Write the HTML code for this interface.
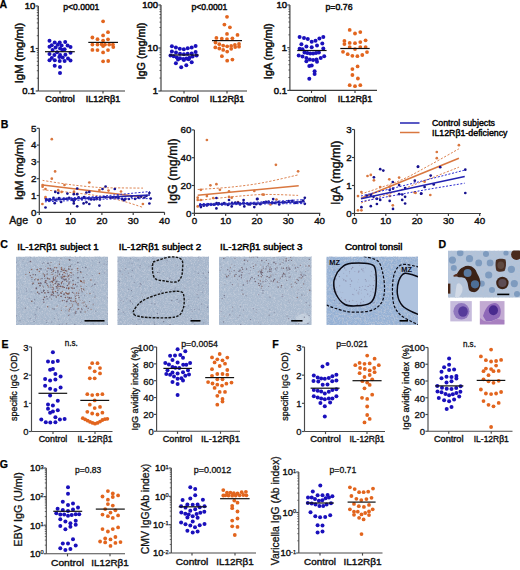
<!DOCTYPE html>
<html><head><meta charset="utf-8"><style>
html,body{margin:0;padding:0;background:#fff;overflow:hidden;width:520px;height:570px;}
svg{display:block;}
text{font-family:"Liberation Sans", sans-serif;}
</style></head><body>
<svg width="520" height="570" viewBox="0 0 520 570" font-family='"Liberation Sans", sans-serif'>
<rect width="520" height="570" fill="#fff"/>
<text x="-0.4" y="8.3" font-size="11.5" font-weight="bold" text-anchor="start" fill="#000" textLength="7.64" lengthAdjust="spacingAndGlyphs" stroke="#000" stroke-width="0.25">A</text>
<text x="0.8" y="127.7" font-size="11.5" font-weight="bold" text-anchor="start" fill="#000" textLength="7.64" lengthAdjust="spacingAndGlyphs" stroke="#000" stroke-width="0.25">B</text>
<text x="0.3" y="247.6" font-size="11.5" font-weight="bold" text-anchor="start" fill="#000" textLength="7.64" lengthAdjust="spacingAndGlyphs" stroke="#000" stroke-width="0.25">C</text>
<text x="438.6" y="247.7" font-size="11.5" font-weight="bold" text-anchor="start" fill="#000" textLength="7.64" lengthAdjust="spacingAndGlyphs" stroke="#000" stroke-width="0.25">D</text>
<text x="1.5" y="347.7" font-size="11.5" font-weight="bold" text-anchor="start" fill="#000" textLength="7.06" lengthAdjust="spacingAndGlyphs" stroke="#000" stroke-width="0.25">E</text>
<text x="272.2" y="347.7" font-size="11.5" font-weight="bold" text-anchor="start" fill="#000" textLength="6.46" lengthAdjust="spacingAndGlyphs" stroke="#000" stroke-width="0.25">F</text>
<text x="-0.2" y="468.2" font-size="11.5" font-weight="bold" text-anchor="start" fill="#000" textLength="8.23" lengthAdjust="spacingAndGlyphs" stroke="#000" stroke-width="0.25">G</text>
<line x1="38.30" y1="6.00" x2="38.30" y2="91.00" stroke="#3a3a3a" stroke-width="1.15"/>
<line x1="38.30" y1="91.00" x2="125.00" y2="91.00" stroke="#3a3a3a" stroke-width="1.15"/>
<line x1="35.70" y1="6.00" x2="38.30" y2="6.00" stroke="#3a3a3a" stroke-width="1.15"/>
<line x1="35.70" y1="48.50" x2="38.30" y2="48.50" stroke="#3a3a3a" stroke-width="1.15"/>
<line x1="35.70" y1="91.00" x2="38.30" y2="91.00" stroke="#3a3a3a" stroke-width="1.15"/>
<line x1="36.80" y1="78.21" x2="38.30" y2="78.21" stroke="#3a3a3a" stroke-width="0.8"/>
<line x1="36.80" y1="70.72" x2="38.30" y2="70.72" stroke="#3a3a3a" stroke-width="0.8"/>
<line x1="36.80" y1="65.41" x2="38.30" y2="65.41" stroke="#3a3a3a" stroke-width="0.8"/>
<line x1="36.80" y1="61.29" x2="38.30" y2="61.29" stroke="#3a3a3a" stroke-width="0.8"/>
<line x1="36.80" y1="57.93" x2="38.30" y2="57.93" stroke="#3a3a3a" stroke-width="0.8"/>
<line x1="36.80" y1="55.08" x2="38.30" y2="55.08" stroke="#3a3a3a" stroke-width="0.8"/>
<line x1="36.80" y1="52.62" x2="38.30" y2="52.62" stroke="#3a3a3a" stroke-width="0.8"/>
<line x1="36.80" y1="50.44" x2="38.30" y2="50.44" stroke="#3a3a3a" stroke-width="0.8"/>
<line x1="36.80" y1="35.71" x2="38.30" y2="35.71" stroke="#3a3a3a" stroke-width="0.8"/>
<line x1="36.80" y1="28.22" x2="38.30" y2="28.22" stroke="#3a3a3a" stroke-width="0.8"/>
<line x1="36.80" y1="22.91" x2="38.30" y2="22.91" stroke="#3a3a3a" stroke-width="0.8"/>
<line x1="36.80" y1="18.79" x2="38.30" y2="18.79" stroke="#3a3a3a" stroke-width="0.8"/>
<line x1="36.80" y1="15.43" x2="38.30" y2="15.43" stroke="#3a3a3a" stroke-width="0.8"/>
<line x1="36.80" y1="12.58" x2="38.30" y2="12.58" stroke="#3a3a3a" stroke-width="0.8"/>
<line x1="36.80" y1="10.12" x2="38.30" y2="10.12" stroke="#3a3a3a" stroke-width="0.8"/>
<line x1="36.80" y1="7.94" x2="38.30" y2="7.94" stroke="#3a3a3a" stroke-width="0.8"/>
<line x1="60.00" y1="91.00" x2="60.00" y2="93.60" stroke="#3a3a3a" stroke-width="1.15"/>
<line x1="103.00" y1="91.00" x2="103.00" y2="93.60" stroke="#3a3a3a" stroke-width="1.15"/>
<text x="35.4" y="9.3" font-size="9.5" font-weight="normal" text-anchor="end" fill="#111" textLength="10.57" lengthAdjust="spacingAndGlyphs" stroke="#111" stroke-width="0.5">10</text>
<text x="35.4" y="51.8" font-size="9.5" font-weight="normal" text-anchor="end" fill="#111" textLength="5.28" lengthAdjust="spacingAndGlyphs" stroke="#111" stroke-width="0.5">1</text>
<text x="35.4" y="94.3" font-size="9.5" font-weight="normal" text-anchor="end" fill="#111" textLength="13.21" lengthAdjust="spacingAndGlyphs" stroke="#111" stroke-width="0.5">0.1</text>
<text x="60" y="102.4" font-size="9.5" font-weight="normal" text-anchor="middle" fill="#111" textLength="29.4" lengthAdjust="spacingAndGlyphs" stroke="#111" stroke-width="0.5">Control</text>
<text x="103" y="102.4" font-size="9.5" font-weight="normal" text-anchor="middle" fill="#111" textLength="34.6" lengthAdjust="spacingAndGlyphs" stroke="#111" stroke-width="0.5">IL12Rβ1</text>
<text transform="translate(22.7,53) rotate(-90)" x="0" y="0" font-size="11.38" font-weight="normal" text-anchor="middle" fill="#111" textLength="60.7" lengthAdjust="spacingAndGlyphs" stroke="#111" stroke-width="0.5">IgM (mg/ml)</text>
<text x="81.3" y="9.9" font-size="9.5" font-weight="normal" text-anchor="middle" fill="#111" textLength="36" lengthAdjust="spacingAndGlyphs" stroke="#111" stroke-width="0.5">p&lt;0.0001</text>
<g fill="#1a10bc"><circle cx="49.5" cy="40.7" r="2.0"/><circle cx="54.7" cy="42.4" r="2.0"/><circle cx="59.7" cy="42.5" r="2.0"/><circle cx="65.2" cy="41.9" r="2.0"/><circle cx="51.8" cy="45.2" r="2.0"/><circle cx="49.5" cy="46.7" r="2.0"/><circle cx="57.8" cy="44.8" r="2.0"/><circle cx="61.6" cy="45.6" r="2.0"/><circle cx="67.6" cy="45.6" r="2.0"/><circle cx="70.5" cy="46.9" r="2.0"/><circle cx="55.6" cy="47.4" r="2.0"/><circle cx="60.1" cy="48.6" r="2.0"/><circle cx="64.6" cy="49.3" r="2.0"/><circle cx="52.6" cy="50.1" r="2.0"/><circle cx="62.4" cy="50.1" r="2.0"/><circle cx="49.5" cy="53.9" r="2.0"/><circle cx="57.1" cy="52.3" r="2.0"/><circle cx="70.5" cy="52.7" r="2.0"/><circle cx="54.4" cy="55.0" r="2.0"/><circle cx="60.1" cy="55.0" r="2.0"/><circle cx="65.4" cy="54.8" r="2.0"/><circle cx="59.3" cy="56.9" r="2.0"/><circle cx="62.7" cy="57.6" r="2.0"/><circle cx="51.8" cy="58.0" r="2.0"/><circle cx="68.0" cy="58.4" r="2.0"/><circle cx="49.5" cy="60.3" r="2.0"/><circle cx="54.8" cy="60.3" r="2.0"/><circle cx="59.7" cy="61.0" r="2.0"/><circle cx="64.6" cy="61.0" r="2.0"/><circle cx="70.5" cy="60.6" r="2.0"/><circle cx="54.7" cy="65.7" r="2.0"/><circle cx="60.0" cy="67.1" r="2.0"/><circle cx="60.0" cy="72.9" r="2.0"/></g>
<g fill="#e2651e"><circle cx="103.1" cy="21.3" r="1.9"/><circle cx="108.0" cy="32.2" r="1.9"/><circle cx="103.1" cy="35.4" r="1.9"/><circle cx="92.4" cy="37.5" r="1.9"/><circle cx="97.5" cy="39.2" r="1.9"/><circle cx="108.0" cy="39.3" r="1.9"/><circle cx="103.1" cy="40.6" r="1.9"/><circle cx="92.4" cy="44.6" r="1.9"/><circle cx="97.5" cy="44.6" r="1.9"/><circle cx="101.7" cy="44.3" r="1.9"/><circle cx="105.0" cy="44.6" r="1.9"/><circle cx="109.2" cy="44.6" r="1.9"/><circle cx="112.9" cy="44.6" r="1.9"/><circle cx="103.1" cy="46.1" r="1.9"/><circle cx="113.3" cy="47.1" r="1.9"/><circle cx="92.4" cy="49.9" r="1.9"/><circle cx="97.5" cy="50.1" r="1.9"/><circle cx="108.0" cy="50.1" r="1.9"/><circle cx="103.1" cy="52.4" r="1.9"/><circle cx="103.1" cy="61.3" r="1.9"/><circle cx="108.2" cy="61.0" r="1.9"/></g>
<line x1="45.00" y1="51.70" x2="74.80" y2="51.70" stroke="#111" stroke-width="1.2"/>
<line x1="88.30" y1="42.40" x2="118.00" y2="42.40" stroke="#111" stroke-width="1.2"/>
<line x1="161.00" y1="5.00" x2="161.00" y2="91.00" stroke="#3a3a3a" stroke-width="1.15"/>
<line x1="161.00" y1="91.00" x2="247.00" y2="91.00" stroke="#3a3a3a" stroke-width="1.15"/>
<line x1="158.40" y1="5.00" x2="161.00" y2="5.00" stroke="#3a3a3a" stroke-width="1.15"/>
<line x1="158.40" y1="48.00" x2="161.00" y2="48.00" stroke="#3a3a3a" stroke-width="1.15"/>
<line x1="158.40" y1="91.00" x2="161.00" y2="91.00" stroke="#3a3a3a" stroke-width="1.15"/>
<line x1="159.50" y1="78.06" x2="161.00" y2="78.06" stroke="#3a3a3a" stroke-width="0.8"/>
<line x1="159.50" y1="70.48" x2="161.00" y2="70.48" stroke="#3a3a3a" stroke-width="0.8"/>
<line x1="159.50" y1="65.11" x2="161.00" y2="65.11" stroke="#3a3a3a" stroke-width="0.8"/>
<line x1="159.50" y1="60.94" x2="161.00" y2="60.94" stroke="#3a3a3a" stroke-width="0.8"/>
<line x1="159.50" y1="57.54" x2="161.00" y2="57.54" stroke="#3a3a3a" stroke-width="0.8"/>
<line x1="159.50" y1="54.66" x2="161.00" y2="54.66" stroke="#3a3a3a" stroke-width="0.8"/>
<line x1="159.50" y1="52.17" x2="161.00" y2="52.17" stroke="#3a3a3a" stroke-width="0.8"/>
<line x1="159.50" y1="49.97" x2="161.00" y2="49.97" stroke="#3a3a3a" stroke-width="0.8"/>
<line x1="159.50" y1="35.06" x2="161.00" y2="35.06" stroke="#3a3a3a" stroke-width="0.8"/>
<line x1="159.50" y1="27.48" x2="161.00" y2="27.48" stroke="#3a3a3a" stroke-width="0.8"/>
<line x1="159.50" y1="22.11" x2="161.00" y2="22.11" stroke="#3a3a3a" stroke-width="0.8"/>
<line x1="159.50" y1="17.94" x2="161.00" y2="17.94" stroke="#3a3a3a" stroke-width="0.8"/>
<line x1="159.50" y1="14.54" x2="161.00" y2="14.54" stroke="#3a3a3a" stroke-width="0.8"/>
<line x1="159.50" y1="11.66" x2="161.00" y2="11.66" stroke="#3a3a3a" stroke-width="0.8"/>
<line x1="159.50" y1="9.17" x2="161.00" y2="9.17" stroke="#3a3a3a" stroke-width="0.8"/>
<line x1="159.50" y1="6.97" x2="161.00" y2="6.97" stroke="#3a3a3a" stroke-width="0.8"/>
<line x1="184.00" y1="91.00" x2="184.00" y2="93.60" stroke="#3a3a3a" stroke-width="1.15"/>
<line x1="227.00" y1="91.00" x2="227.00" y2="93.60" stroke="#3a3a3a" stroke-width="1.15"/>
<text x="158.1" y="8.3" font-size="9.5" font-weight="normal" text-anchor="end" fill="#111" textLength="15.85" lengthAdjust="spacingAndGlyphs" stroke="#111" stroke-width="0.5">100</text>
<text x="158.1" y="51.3" font-size="9.5" font-weight="normal" text-anchor="end" fill="#111" textLength="10.57" lengthAdjust="spacingAndGlyphs" stroke="#111" stroke-width="0.5">10</text>
<text x="158.1" y="94.3" font-size="9.5" font-weight="normal" text-anchor="end" fill="#111" textLength="5.28" lengthAdjust="spacingAndGlyphs" stroke="#111" stroke-width="0.5">1</text>
<text x="184" y="102.4" font-size="9.5" font-weight="normal" text-anchor="middle" fill="#111" textLength="29.4" lengthAdjust="spacingAndGlyphs" stroke="#111" stroke-width="0.5">Control</text>
<text x="227" y="102.4" font-size="9.5" font-weight="normal" text-anchor="middle" fill="#111" textLength="34.6" lengthAdjust="spacingAndGlyphs" stroke="#111" stroke-width="0.5">IL12Rβ1</text>
<text transform="translate(145.2,51) rotate(-90)" x="0" y="0" font-size="10.76" font-weight="normal" text-anchor="middle" fill="#111" textLength="56.8" lengthAdjust="spacingAndGlyphs" stroke="#111" stroke-width="0.5">IgG (mg/ml)</text>
<text x="209.4" y="9.9" font-size="9.5" font-weight="normal" text-anchor="middle" fill="#111" textLength="36" lengthAdjust="spacingAndGlyphs" stroke="#111" stroke-width="0.5">p&lt;0.0001</text>
<g fill="#1a10bc"><circle cx="171.9" cy="46.2" r="2.0"/><circle cx="175.9" cy="47.5" r="2.0"/><circle cx="179.8" cy="48.8" r="2.0"/><circle cx="183.8" cy="49.3" r="2.0"/><circle cx="187.7" cy="48.3" r="2.0"/><circle cx="191.7" cy="47.5" r="2.0"/><circle cx="195.6" cy="45.9" r="2.0"/><circle cx="171.9" cy="51.4" r="2.0"/><circle cx="176.0" cy="52.5" r="2.0"/><circle cx="180.0" cy="53.8" r="2.0"/><circle cx="183.9" cy="54.2" r="2.0"/><circle cx="187.7" cy="53.8" r="2.0"/><circle cx="191.7" cy="53.4" r="2.0"/><circle cx="195.6" cy="52.0" r="2.0"/><circle cx="170.5" cy="55.4" r="2.0"/><circle cx="173.7" cy="56.2" r="2.0"/><circle cx="176.8" cy="57.4" r="2.0"/><circle cx="180.0" cy="58.2" r="2.0"/><circle cx="183.2" cy="58.9" r="2.0"/><circle cx="186.3" cy="58.5" r="2.0"/><circle cx="189.5" cy="57.8" r="2.0"/><circle cx="192.6" cy="56.6" r="2.0"/><circle cx="196.6" cy="55.4" r="2.0"/><circle cx="178.0" cy="59.5" r="2.0"/><circle cx="183.9" cy="60.0" r="2.0"/><circle cx="188.5" cy="59.3" r="2.0"/><circle cx="175.9" cy="63.3" r="2.0"/><circle cx="191.7" cy="62.3" r="2.0"/><circle cx="186.3" cy="65.3" r="2.0"/><circle cx="181.2" cy="67.2" r="2.0"/></g>
<g fill="#e2651e"><circle cx="227.0" cy="16.8" r="1.9"/><circle cx="224.4" cy="24.6" r="1.9"/><circle cx="229.9" cy="27.3" r="1.9"/><circle cx="227.0" cy="33.9" r="1.9"/><circle cx="237.5" cy="34.9" r="1.9"/><circle cx="216.4" cy="37.9" r="1.9"/><circle cx="221.8" cy="38.7" r="1.9"/><circle cx="227.0" cy="39.1" r="1.9"/><circle cx="232.4" cy="38.3" r="1.9"/><circle cx="215.5" cy="42.5" r="1.9"/><circle cx="219.3" cy="44.2" r="1.9"/><circle cx="223.2" cy="45.6" r="1.9"/><circle cx="227.2" cy="46.3" r="1.9"/><circle cx="231.2" cy="45.9" r="1.9"/><circle cx="234.9" cy="44.8" r="1.9"/><circle cx="239.0" cy="44.0" r="1.9"/><circle cx="215.3" cy="47.4" r="1.9"/><circle cx="219.3" cy="48.5" r="1.9"/><circle cx="223.2" cy="49.9" r="1.9"/><circle cx="231.2" cy="48.8" r="1.9"/><circle cx="235.2" cy="47.1" r="1.9"/><circle cx="239.0" cy="46.7" r="1.9"/><circle cx="227.2" cy="51.6" r="1.9"/><circle cx="221.9" cy="56.2" r="1.9"/><circle cx="227.2" cy="60.7" r="1.9"/><circle cx="232.4" cy="59.6" r="1.9"/></g>
<line x1="169.30" y1="55.00" x2="198.50" y2="55.00" stroke="#111" stroke-width="1.2"/>
<line x1="212.00" y1="40.60" x2="242.00" y2="40.60" stroke="#111" stroke-width="1.2"/>
<line x1="289.90" y1="5.00" x2="289.90" y2="90.40" stroke="#3a3a3a" stroke-width="1.15"/>
<line x1="289.90" y1="90.40" x2="377.00" y2="90.40" stroke="#3a3a3a" stroke-width="1.15"/>
<line x1="287.30" y1="5.00" x2="289.90" y2="5.00" stroke="#3a3a3a" stroke-width="1.15"/>
<line x1="287.30" y1="47.70" x2="289.90" y2="47.70" stroke="#3a3a3a" stroke-width="1.15"/>
<line x1="287.30" y1="90.40" x2="289.90" y2="90.40" stroke="#3a3a3a" stroke-width="1.15"/>
<line x1="288.40" y1="77.55" x2="289.90" y2="77.55" stroke="#3a3a3a" stroke-width="0.8"/>
<line x1="288.40" y1="70.03" x2="289.90" y2="70.03" stroke="#3a3a3a" stroke-width="0.8"/>
<line x1="288.40" y1="64.69" x2="289.90" y2="64.69" stroke="#3a3a3a" stroke-width="0.8"/>
<line x1="288.40" y1="60.55" x2="289.90" y2="60.55" stroke="#3a3a3a" stroke-width="0.8"/>
<line x1="288.40" y1="57.17" x2="289.90" y2="57.17" stroke="#3a3a3a" stroke-width="0.8"/>
<line x1="288.40" y1="54.31" x2="289.90" y2="54.31" stroke="#3a3a3a" stroke-width="0.8"/>
<line x1="288.40" y1="51.84" x2="289.90" y2="51.84" stroke="#3a3a3a" stroke-width="0.8"/>
<line x1="288.40" y1="49.65" x2="289.90" y2="49.65" stroke="#3a3a3a" stroke-width="0.8"/>
<line x1="288.40" y1="34.85" x2="289.90" y2="34.85" stroke="#3a3a3a" stroke-width="0.8"/>
<line x1="288.40" y1="27.33" x2="289.90" y2="27.33" stroke="#3a3a3a" stroke-width="0.8"/>
<line x1="288.40" y1="21.99" x2="289.90" y2="21.99" stroke="#3a3a3a" stroke-width="0.8"/>
<line x1="288.40" y1="17.85" x2="289.90" y2="17.85" stroke="#3a3a3a" stroke-width="0.8"/>
<line x1="288.40" y1="14.47" x2="289.90" y2="14.47" stroke="#3a3a3a" stroke-width="0.8"/>
<line x1="288.40" y1="11.61" x2="289.90" y2="11.61" stroke="#3a3a3a" stroke-width="0.8"/>
<line x1="288.40" y1="9.14" x2="289.90" y2="9.14" stroke="#3a3a3a" stroke-width="0.8"/>
<line x1="288.40" y1="6.95" x2="289.90" y2="6.95" stroke="#3a3a3a" stroke-width="0.8"/>
<line x1="311.50" y1="90.40" x2="311.50" y2="93.00" stroke="#3a3a3a" stroke-width="1.15"/>
<line x1="355.00" y1="90.40" x2="355.00" y2="93.00" stroke="#3a3a3a" stroke-width="1.15"/>
<text x="287.0" y="8.3" font-size="9.5" font-weight="normal" text-anchor="end" fill="#111" textLength="10.57" lengthAdjust="spacingAndGlyphs" stroke="#111" stroke-width="0.5">10</text>
<text x="287.0" y="51.0" font-size="9.5" font-weight="normal" text-anchor="end" fill="#111" textLength="5.28" lengthAdjust="spacingAndGlyphs" stroke="#111" stroke-width="0.5">1</text>
<text x="287.0" y="93.7" font-size="9.5" font-weight="normal" text-anchor="end" fill="#111" textLength="13.21" lengthAdjust="spacingAndGlyphs" stroke="#111" stroke-width="0.5">0.1</text>
<text x="311.5" y="102.4" font-size="9.5" font-weight="normal" text-anchor="middle" fill="#111" textLength="29.4" lengthAdjust="spacingAndGlyphs" stroke="#111" stroke-width="0.5">Control</text>
<text x="355" y="102.4" font-size="9.5" font-weight="normal" text-anchor="middle" fill="#111" textLength="34.6" lengthAdjust="spacingAndGlyphs" stroke="#111" stroke-width="0.5">IL12Rβ1</text>
<text transform="translate(271.5,51.3) rotate(-90)" x="0" y="0" font-size="10.98" font-weight="normal" text-anchor="middle" fill="#111" textLength="56.1" lengthAdjust="spacingAndGlyphs" stroke="#111" stroke-width="0.5">IgA (mg/ml)</text>
<text x="339" y="9.9" font-size="9.5" font-weight="normal" text-anchor="middle" fill="#111" textLength="27" lengthAdjust="spacingAndGlyphs" stroke="#111" stroke-width="0.5">p=0.76</text>
<g fill="#1a10bc"><circle cx="299.6" cy="36.9" r="2.0"/><circle cx="304.0" cy="37.9" r="2.0"/><circle cx="307.8" cy="38.9" r="2.0"/><circle cx="311.7" cy="41.8" r="2.0"/><circle cx="315.5" cy="40.8" r="2.0"/><circle cx="319.4" cy="38.5" r="2.0"/><circle cx="323.3" cy="36.9" r="2.0"/><circle cx="301.4" cy="44.3" r="2.0"/><circle cx="306.4" cy="46.6" r="2.0"/><circle cx="311.7" cy="47.3" r="2.0"/><circle cx="317.0" cy="45.6" r="2.0"/><circle cx="322.3" cy="43.5" r="2.0"/><circle cx="299.6" cy="48.8" r="2.0"/><circle cx="302.5" cy="49.3" r="2.0"/><circle cx="323.3" cy="48.5" r="2.0"/><circle cx="304.5" cy="52.4" r="2.0"/><circle cx="307.3" cy="53.1" r="2.0"/><circle cx="310.2" cy="53.6" r="2.0"/><circle cx="313.1" cy="53.6" r="2.0"/><circle cx="316.0" cy="53.1" r="2.0"/><circle cx="318.9" cy="52.4" r="2.0"/><circle cx="298.7" cy="55.5" r="2.0"/><circle cx="302.5" cy="56.5" r="2.0"/><circle cx="306.4" cy="58.0" r="2.0"/><circle cx="309.8" cy="59.4" r="2.0"/><circle cx="313.1" cy="59.9" r="2.0"/><circle cx="316.5" cy="59.4" r="2.0"/><circle cx="320.7" cy="58.0" r="2.0"/><circle cx="324.2" cy="56.2" r="2.0"/><circle cx="306.4" cy="61.3" r="2.0"/><circle cx="317.0" cy="61.8" r="2.0"/><circle cx="309.3" cy="66.1" r="2.0"/><circle cx="311.7" cy="65.5" r="2.0"/><circle cx="314.6" cy="71.3" r="2.0"/><circle cx="314.6" cy="73.9" r="2.0"/><circle cx="309.3" cy="78.7" r="2.0"/></g>
<g fill="#e2651e"><circle cx="349.7" cy="29.9" r="1.9"/><circle cx="355.0" cy="33.5" r="1.9"/><circle cx="360.3" cy="32.1" r="1.9"/><circle cx="344.4" cy="40.9" r="1.9"/><circle cx="344.4" cy="44.1" r="1.9"/><circle cx="349.7" cy="42.9" r="1.9"/><circle cx="355.0" cy="43.2" r="1.9"/><circle cx="360.3" cy="42.1" r="1.9"/><circle cx="365.6" cy="40.3" r="1.9"/><circle cx="349.7" cy="47.1" r="1.9"/><circle cx="355.0" cy="49.1" r="1.9"/><circle cx="360.3" cy="47.1" r="1.9"/><circle cx="365.6" cy="47.1" r="1.9"/><circle cx="343.0" cy="51.8" r="1.9"/><circle cx="347.7" cy="54.2" r="1.9"/><circle cx="352.4" cy="55.8" r="1.9"/><circle cx="357.4" cy="56.2" r="1.9"/><circle cx="362.3" cy="55.0" r="1.9"/><circle cx="367.0" cy="52.1" r="1.9"/><circle cx="357.6" cy="66.4" r="1.9"/><circle cx="352.4" cy="69.1" r="1.9"/><circle cx="352.4" cy="75.0" r="1.9"/><circle cx="357.9" cy="78.5" r="1.9"/><circle cx="349.7" cy="85.2" r="1.9"/><circle cx="355.0" cy="86.2" r="1.9"/><circle cx="360.3" cy="85.2" r="1.9"/></g>
<line x1="297.20" y1="50.50" x2="326.60" y2="50.50" stroke="#111" stroke-width="1.2"/>
<line x1="340.30" y1="48.50" x2="369.70" y2="48.50" stroke="#111" stroke-width="1.2"/>
<line x1="39.30" y1="128.30" x2="39.30" y2="212.30" stroke="#3a3a3a" stroke-width="1.15"/>
<line x1="39.30" y1="212.30" x2="164.50" y2="212.30" stroke="#3a3a3a" stroke-width="1.15"/>
<line x1="36.70" y1="212.30" x2="39.30" y2="212.30" stroke="#3a3a3a" stroke-width="1.15"/>
<line x1="36.70" y1="195.50" x2="39.30" y2="195.50" stroke="#3a3a3a" stroke-width="1.15"/>
<line x1="36.70" y1="178.70" x2="39.30" y2="178.70" stroke="#3a3a3a" stroke-width="1.15"/>
<line x1="36.70" y1="161.90" x2="39.30" y2="161.90" stroke="#3a3a3a" stroke-width="1.15"/>
<line x1="36.70" y1="145.10" x2="39.30" y2="145.10" stroke="#3a3a3a" stroke-width="1.15"/>
<line x1="36.70" y1="128.30" x2="39.30" y2="128.30" stroke="#3a3a3a" stroke-width="1.15"/>
<line x1="39.30" y1="212.30" x2="39.30" y2="214.90" stroke="#3a3a3a" stroke-width="1.15"/>
<line x1="70.60" y1="212.30" x2="70.60" y2="214.90" stroke="#3a3a3a" stroke-width="1.15"/>
<line x1="101.90" y1="212.30" x2="101.90" y2="214.90" stroke="#3a3a3a" stroke-width="1.15"/>
<line x1="133.20" y1="212.30" x2="133.20" y2="214.90" stroke="#3a3a3a" stroke-width="1.15"/>
<line x1="164.50" y1="212.30" x2="164.50" y2="214.90" stroke="#3a3a3a" stroke-width="1.15"/>
<text x="36.4" y="215.60000000000002" font-size="9.8" font-weight="normal" text-anchor="end" fill="#111" textLength="5.45" lengthAdjust="spacingAndGlyphs" stroke="#111" stroke-width="0.4">0</text>
<text x="36.4" y="198.8" font-size="9.8" font-weight="normal" text-anchor="end" fill="#111" textLength="5.45" lengthAdjust="spacingAndGlyphs" stroke="#111" stroke-width="0.4">1</text>
<text x="36.4" y="182.00000000000003" font-size="9.8" font-weight="normal" text-anchor="end" fill="#111" textLength="5.45" lengthAdjust="spacingAndGlyphs" stroke="#111" stroke-width="0.4">2</text>
<text x="36.4" y="165.20000000000002" font-size="9.8" font-weight="normal" text-anchor="end" fill="#111" textLength="5.45" lengthAdjust="spacingAndGlyphs" stroke="#111" stroke-width="0.4">3</text>
<text x="36.4" y="148.40000000000003" font-size="9.8" font-weight="normal" text-anchor="end" fill="#111" textLength="5.45" lengthAdjust="spacingAndGlyphs" stroke="#111" stroke-width="0.4">4</text>
<text x="36.4" y="131.60000000000002" font-size="9.8" font-weight="normal" text-anchor="end" fill="#111" textLength="5.45" lengthAdjust="spacingAndGlyphs" stroke="#111" stroke-width="0.4">5</text>
<text x="39.3" y="224.1" font-size="9.8" font-weight="normal" text-anchor="middle" fill="#111" textLength="5.45" lengthAdjust="spacingAndGlyphs" stroke="#111" stroke-width="0.4">0</text>
<text x="70.6" y="224.1" font-size="9.8" font-weight="normal" text-anchor="middle" fill="#111" textLength="10.9" lengthAdjust="spacingAndGlyphs" stroke="#111" stroke-width="0.4">10</text>
<text x="101.9" y="224.1" font-size="9.8" font-weight="normal" text-anchor="middle" fill="#111" textLength="10.9" lengthAdjust="spacingAndGlyphs" stroke="#111" stroke-width="0.4">20</text>
<text x="133.2" y="224.1" font-size="9.8" font-weight="normal" text-anchor="middle" fill="#111" textLength="10.9" lengthAdjust="spacingAndGlyphs" stroke="#111" stroke-width="0.4">30</text>
<text x="164.5" y="224.1" font-size="9.8" font-weight="normal" text-anchor="middle" fill="#111" textLength="10.9" lengthAdjust="spacingAndGlyphs" stroke="#111" stroke-width="0.4">40</text>
<text transform="translate(23.4,168.9) rotate(-90)" x="0" y="0" font-size="11.7" font-weight="normal" text-anchor="middle" fill="#111" textLength="62.4" lengthAdjust="spacingAndGlyphs" stroke="#111" stroke-width="0.42">IgM (mg/ml)</text>
<text x="9.3" y="224.0" font-size="11.3" font-weight="normal" text-anchor="start" fill="#111" textLength="18.8" lengthAdjust="spacingAndGlyphs" stroke="#111" stroke-width="0.4">Age</text>
<path d="M42.6,180.4 C47.2,181.1 60.8,183.4 70.0,184.6 C79.2,185.8 89.7,186.8 98.0,187.4 C106.3,188.0 112.5,187.8 120.0,187.9 C127.5,188.0 139.2,188.1 143.0,188.1" stroke="#d9773f" stroke-width="0.9" fill="none" stroke-dasharray="2.2,1.6"/>
<path d="M42.6,189.8 C47.2,190.2 60.8,191.4 70.0,192.4 C79.2,193.4 89.7,194.5 98.0,195.8 C106.3,197.1 112.5,198.4 120.0,200.3 C127.5,202.2 139.2,206.2 143.0,207.4" stroke="#d9773f" stroke-width="0.9" fill="none" stroke-dasharray="2.2,1.6"/>
<line x1="42.60" y1="185.00" x2="142.50" y2="196.90" stroke="#d9773f" stroke-width="1.5"/>
<g fill="#d9773f"><circle cx="55.1" cy="171.4" r="1.35"/><circle cx="51.8" cy="178.7" r="1.35"/><circle cx="51.8" cy="139.2" r="1.35"/><circle cx="42.6" cy="185.0" r="1.35"/><circle cx="42.6" cy="186.7" r="1.35"/><circle cx="45.5" cy="189.0" r="1.35"/><circle cx="64.5" cy="185.0" r="1.35"/><circle cx="89.3" cy="182.5" r="1.35"/><circle cx="58.2" cy="190.2" r="1.35"/><circle cx="74.0" cy="191.7" r="1.35"/><circle cx="74.0" cy="193.1" r="1.35"/><circle cx="45.5" cy="197.1" r="1.35"/><circle cx="45.5" cy="198.3" r="1.35"/><circle cx="42.4" cy="204.0" r="1.35"/><circle cx="61.6" cy="191.9" r="1.35"/><circle cx="99.4" cy="190.0" r="1.35"/><circle cx="108.5" cy="190.6" r="1.35"/><circle cx="121.0" cy="191.5" r="1.35"/><circle cx="142.9" cy="204.0" r="1.35"/></g>
<g fill="#17128e"><circle cx="55.3" cy="191.9" r="1.35"/><circle cx="58.2" cy="193.0" r="1.35"/><circle cx="67.4" cy="193.6" r="1.35"/><circle cx="77.2" cy="188.5" r="1.35"/><circle cx="73.8" cy="194.2" r="1.35"/><circle cx="77.2" cy="194.2" r="1.35"/><circle cx="86.4" cy="192.5" r="1.35"/><circle cx="89.3" cy="191.9" r="1.35"/><circle cx="49.0" cy="200.6" r="1.35"/><circle cx="54.7" cy="203.2" r="1.35"/><circle cx="61.1" cy="202.0" r="1.35"/><circle cx="73.8" cy="201.1" r="1.35"/><circle cx="73.8" cy="203.4" r="1.35"/><circle cx="77.2" cy="206.3" r="1.35"/><circle cx="83.6" cy="203.4" r="1.35"/><circle cx="86.4" cy="202.3" r="1.35"/><circle cx="89.3" cy="204.0" r="1.35"/><circle cx="45.5" cy="207.5" r="1.35"/><circle cx="99.4" cy="205.6" r="1.35"/><circle cx="102.5" cy="189.0" r="1.35"/><circle cx="105.6" cy="186.5" r="1.35"/><circle cx="114.8" cy="189.0" r="1.35"/><circle cx="117.9" cy="196.5" r="1.35"/><circle cx="124.1" cy="200.2" r="1.35"/><circle cx="149.4" cy="193.1" r="1.35"/><circle cx="149.4" cy="203.5" r="1.35"/><circle cx="46.5" cy="199.3" r="1.35"/><circle cx="49.9" cy="199.4" r="1.35"/><circle cx="53.5" cy="197.9" r="1.35"/><circle cx="55.4" cy="200.0" r="1.35"/><circle cx="59.0" cy="198.2" r="1.35"/><circle cx="63.6" cy="198.8" r="1.35"/><circle cx="66.4" cy="198.8" r="1.35"/><circle cx="69.1" cy="197.8" r="1.35"/><circle cx="72.2" cy="199.7" r="1.35"/><circle cx="75.1" cy="199.3" r="1.35"/><circle cx="78.6" cy="197.4" r="1.35"/><circle cx="81.8" cy="198.8" r="1.35"/><circle cx="84.1" cy="197.2" r="1.35"/><circle cx="88.3" cy="198.3" r="1.35"/><circle cx="91.1" cy="199.4" r="1.35"/><circle cx="94.2" cy="199.5" r="1.35"/><circle cx="96.7" cy="199.1" r="1.35"/><circle cx="99.9" cy="199.4" r="1.35"/><circle cx="103.9" cy="197.0" r="1.35"/><circle cx="105.6" cy="197.3" r="1.35"/><circle cx="110.4" cy="197.8" r="1.35"/><circle cx="112.8" cy="197.4" r="1.35"/><circle cx="115.7" cy="197.5" r="1.35"/><circle cx="118.5" cy="198.0" r="1.35"/><circle cx="122.1" cy="198.9" r="1.35"/><circle cx="125.4" cy="198.9" r="1.35"/><circle cx="128.9" cy="199.0" r="1.35"/><circle cx="131.6" cy="196.6" r="1.35"/><circle cx="135.1" cy="198.8" r="1.35"/><circle cx="138.3" cy="197.6" r="1.35"/><circle cx="141.1" cy="196.6" r="1.35"/><circle cx="144.4" cy="197.5" r="1.35"/><circle cx="146.4" cy="196.0" r="1.35"/><circle cx="150.7" cy="198.6" r="1.35"/></g>
<path d="M44.9,198.6 C49.9,198.4 66.2,198.0 75.0,197.6 C83.8,197.2 90.5,196.9 98.0,196.4 C105.5,195.9 111.3,195.2 120.0,194.4 C128.7,193.6 145.0,192.0 150.0,191.5" stroke="#2a2ad0" stroke-width="1.0" fill="none" stroke-dasharray="2,1.6"/>
<path d="M44.9,201.8 C49.9,201.6 66.2,200.8 75.0,200.4 C83.8,200.0 90.5,199.7 98.0,199.4 C105.5,199.1 111.3,198.9 120.0,198.8 C128.7,198.7 145.0,198.6 150.0,198.6" stroke="#2a2ad0" stroke-width="1.0" fill="none" stroke-dasharray="2,1.6"/>
<line x1="44.90" y1="200.20" x2="150.00" y2="195.00" stroke="#2222b0" stroke-width="1.5"/>
<line x1="194.40" y1="129.90" x2="194.40" y2="213.30" stroke="#3a3a3a" stroke-width="1.15"/>
<line x1="194.40" y1="213.30" x2="320.30" y2="213.30" stroke="#3a3a3a" stroke-width="1.15"/>
<line x1="191.80" y1="213.30" x2="194.40" y2="213.30" stroke="#3a3a3a" stroke-width="1.15"/>
<line x1="191.80" y1="185.50" x2="194.40" y2="185.50" stroke="#3a3a3a" stroke-width="1.15"/>
<line x1="191.80" y1="157.70" x2="194.40" y2="157.70" stroke="#3a3a3a" stroke-width="1.15"/>
<line x1="191.80" y1="129.90" x2="194.40" y2="129.90" stroke="#3a3a3a" stroke-width="1.15"/>
<line x1="194.40" y1="213.30" x2="194.40" y2="215.90" stroke="#3a3a3a" stroke-width="1.15"/>
<line x1="225.70" y1="213.30" x2="225.70" y2="215.90" stroke="#3a3a3a" stroke-width="1.15"/>
<line x1="257.00" y1="213.30" x2="257.00" y2="215.90" stroke="#3a3a3a" stroke-width="1.15"/>
<line x1="288.30" y1="213.30" x2="288.30" y2="215.90" stroke="#3a3a3a" stroke-width="1.15"/>
<line x1="319.60" y1="213.30" x2="319.60" y2="215.90" stroke="#3a3a3a" stroke-width="1.15"/>
<text x="191.5" y="216.60000000000002" font-size="9.8" font-weight="normal" text-anchor="end" fill="#111" textLength="5.45" lengthAdjust="spacingAndGlyphs" stroke="#111" stroke-width="0.4">0</text>
<text x="191.5" y="188.8" font-size="9.8" font-weight="normal" text-anchor="end" fill="#111" textLength="10.9" lengthAdjust="spacingAndGlyphs" stroke="#111" stroke-width="0.4">20</text>
<text x="191.5" y="161.00000000000003" font-size="9.8" font-weight="normal" text-anchor="end" fill="#111" textLength="10.9" lengthAdjust="spacingAndGlyphs" stroke="#111" stroke-width="0.4">40</text>
<text x="191.5" y="133.20000000000002" font-size="9.8" font-weight="normal" text-anchor="end" fill="#111" textLength="10.9" lengthAdjust="spacingAndGlyphs" stroke="#111" stroke-width="0.4">60</text>
<text x="194.4" y="224.1" font-size="9.8" font-weight="normal" text-anchor="middle" fill="#111" textLength="5.45" lengthAdjust="spacingAndGlyphs" stroke="#111" stroke-width="0.4">0</text>
<text x="225.70000000000002" y="224.1" font-size="9.8" font-weight="normal" text-anchor="middle" fill="#111" textLength="10.9" lengthAdjust="spacingAndGlyphs" stroke="#111" stroke-width="0.4">10</text>
<text x="257.0" y="224.1" font-size="9.8" font-weight="normal" text-anchor="middle" fill="#111" textLength="10.9" lengthAdjust="spacingAndGlyphs" stroke="#111" stroke-width="0.4">20</text>
<text x="288.3" y="224.1" font-size="9.8" font-weight="normal" text-anchor="middle" fill="#111" textLength="10.9" lengthAdjust="spacingAndGlyphs" stroke="#111" stroke-width="0.4">30</text>
<text x="319.6" y="224.1" font-size="9.8" font-weight="normal" text-anchor="middle" fill="#111" textLength="10.9" lengthAdjust="spacingAndGlyphs" stroke="#111" stroke-width="0.4">40</text>
<text transform="translate(176.8,171.4) rotate(-90)" x="0" y="0" font-size="12.49" font-weight="normal" text-anchor="middle" fill="#111" textLength="65.9" lengthAdjust="spacingAndGlyphs" stroke="#111" stroke-width="0.42">IgG (mg/ml)</text>
<path d="M197.7,189.5 C203.1,189.1 219.1,188.3 230.0,187.2 C240.9,186.1 251.7,184.8 263.0,182.7 C274.4,180.6 292.2,176.2 298.1,174.9" stroke="#d9773f" stroke-width="0.9" fill="none" stroke-dasharray="2.2,1.6"/>
<path d="M197.7,200.5 C203.1,199.9 219.1,198.0 230.0,197.0 C240.9,196.0 251.7,194.8 263.0,194.5 C274.4,194.2 292.2,195.2 298.1,195.4" stroke="#d9773f" stroke-width="0.9" fill="none" stroke-dasharray="2.2,1.6"/>
<line x1="197.70" y1="195.30" x2="298.70" y2="185.70" stroke="#d9773f" stroke-width="1.5"/>
<g fill="#d9773f"><circle cx="206.9" cy="140.0" r="1.35"/><circle cx="210.4" cy="185.3" r="1.35"/><circle cx="216.4" cy="184.2" r="1.35"/><circle cx="200.9" cy="189.8" r="1.35"/><circle cx="219.9" cy="189.8" r="1.35"/><circle cx="229.0" cy="191.4" r="1.35"/><circle cx="254.3" cy="191.0" r="1.35"/><circle cx="197.7" cy="197.7" r="1.35"/><circle cx="197.7" cy="200.0" r="1.35"/><circle cx="200.9" cy="200.0" r="1.35"/><circle cx="206.9" cy="196.1" r="1.35"/><circle cx="213.2" cy="198.0" r="1.35"/><circle cx="229.0" cy="196.9" r="1.35"/><circle cx="231.7" cy="197.7" r="1.35"/><circle cx="238.0" cy="202.1" r="1.35"/><circle cx="197.7" cy="206.4" r="1.35"/><circle cx="262.5" cy="194.5" r="1.35"/><circle cx="275.9" cy="164.8" r="1.35"/><circle cx="298.1" cy="171.3" r="1.35"/><circle cx="263.7" cy="194.7" r="1.35"/><circle cx="270.5" cy="204.5" r="1.35"/><circle cx="276.5" cy="199.5" r="1.35"/></g>
<g fill="#17128e"><circle cx="216.4" cy="198.0" r="1.35"/><circle cx="229.0" cy="200.0" r="1.35"/><circle cx="257.5" cy="198.9" r="1.35"/><circle cx="200.9" cy="207.1" r="1.35"/><circle cx="216.4" cy="208.4" r="1.35"/><circle cx="231.7" cy="206.4" r="1.35"/><circle cx="243.6" cy="200.0" r="1.35"/><circle cx="244.3" cy="206.4" r="1.35"/><circle cx="254.3" cy="207.1" r="1.35"/><circle cx="257.0" cy="199.1" r="1.35"/><circle cx="273.2" cy="199.1" r="1.35"/><circle cx="279.2" cy="204.5" r="1.35"/><circle cx="304.8" cy="197.8" r="1.35"/><circle cx="304.8" cy="203.8" r="1.35"/><circle cx="200.2" cy="205.2" r="1.35"/><circle cx="203.7" cy="205.7" r="1.35"/><circle cx="206.8" cy="205.5" r="1.35"/><circle cx="208.5" cy="204.3" r="1.35"/><circle cx="213.5" cy="204.6" r="1.35"/><circle cx="216.6" cy="203.2" r="1.35"/><circle cx="218.8" cy="203.4" r="1.35"/><circle cx="222.1" cy="204.2" r="1.35"/><circle cx="224.2" cy="203.2" r="1.35"/><circle cx="227.9" cy="204.9" r="1.35"/><circle cx="232.0" cy="202.9" r="1.35"/><circle cx="235.3" cy="202.7" r="1.35"/><circle cx="238.1" cy="202.6" r="1.35"/><circle cx="240.0" cy="204.5" r="1.35"/><circle cx="243.5" cy="202.7" r="1.35"/><circle cx="248.2" cy="204.3" r="1.35"/><circle cx="250.0" cy="204.4" r="1.35"/><circle cx="253.7" cy="203.6" r="1.35"/><circle cx="256.1" cy="204.2" r="1.35"/><circle cx="260.3" cy="204.2" r="1.35"/><circle cx="263.8" cy="202.4" r="1.35"/><circle cx="265.9" cy="201.9" r="1.35"/><circle cx="268.6" cy="201.6" r="1.35"/><circle cx="272.1" cy="202.9" r="1.35"/><circle cx="274.6" cy="203.0" r="1.35"/><circle cx="278.5" cy="202.0" r="1.35"/><circle cx="282.6" cy="202.3" r="1.35"/><circle cx="284.7" cy="202.3" r="1.35"/><circle cx="288.7" cy="201.1" r="1.35"/><circle cx="292.3" cy="200.9" r="1.35"/><circle cx="295.0" cy="203.0" r="1.35"/><circle cx="296.7" cy="202.7" r="1.35"/><circle cx="300.6" cy="202.1" r="1.35"/><circle cx="303.0" cy="200.6" r="1.35"/></g>
<path d="M199.3,203.6 C207.8,203.4 232.4,203.1 250.0,202.4 C267.6,201.7 295.7,200.1 304.8,199.6" stroke="#2a2ad0" stroke-width="1.0" fill="none" stroke-dasharray="2,1.6"/>
<path d="M199.3,206.0 C207.8,205.7 232.4,204.6 250.0,204.2 C267.6,203.8 295.7,203.7 304.8,203.6" stroke="#2a2ad0" stroke-width="1.0" fill="none" stroke-dasharray="2,1.6"/>
<line x1="199.30" y1="204.80" x2="304.80" y2="201.80" stroke="#2222b0" stroke-width="1.5"/>
<line x1="354.50" y1="129.50" x2="354.50" y2="213.50" stroke="#3a3a3a" stroke-width="1.15"/>
<line x1="354.50" y1="213.50" x2="481.00" y2="213.50" stroke="#3a3a3a" stroke-width="1.15"/>
<line x1="351.90" y1="213.50" x2="354.50" y2="213.50" stroke="#3a3a3a" stroke-width="1.15"/>
<line x1="351.90" y1="185.50" x2="354.50" y2="185.50" stroke="#3a3a3a" stroke-width="1.15"/>
<line x1="351.90" y1="157.50" x2="354.50" y2="157.50" stroke="#3a3a3a" stroke-width="1.15"/>
<line x1="351.90" y1="129.50" x2="354.50" y2="129.50" stroke="#3a3a3a" stroke-width="1.15"/>
<line x1="354.50" y1="213.50" x2="354.50" y2="216.10" stroke="#3a3a3a" stroke-width="1.15"/>
<line x1="385.80" y1="213.50" x2="385.80" y2="216.10" stroke="#3a3a3a" stroke-width="1.15"/>
<line x1="417.10" y1="213.50" x2="417.10" y2="216.10" stroke="#3a3a3a" stroke-width="1.15"/>
<line x1="448.40" y1="213.50" x2="448.40" y2="216.10" stroke="#3a3a3a" stroke-width="1.15"/>
<line x1="479.70" y1="213.50" x2="479.70" y2="216.10" stroke="#3a3a3a" stroke-width="1.15"/>
<text x="351.6" y="216.8" font-size="9.8" font-weight="normal" text-anchor="end" fill="#111" textLength="5.45" lengthAdjust="spacingAndGlyphs" stroke="#111" stroke-width="0.4">0</text>
<text x="351.6" y="188.8" font-size="9.8" font-weight="normal" text-anchor="end" fill="#111" textLength="5.45" lengthAdjust="spacingAndGlyphs" stroke="#111" stroke-width="0.4">1</text>
<text x="351.6" y="160.8" font-size="9.8" font-weight="normal" text-anchor="end" fill="#111" textLength="5.45" lengthAdjust="spacingAndGlyphs" stroke="#111" stroke-width="0.4">2</text>
<text x="351.6" y="132.8" font-size="9.8" font-weight="normal" text-anchor="end" fill="#111" textLength="5.45" lengthAdjust="spacingAndGlyphs" stroke="#111" stroke-width="0.4">3</text>
<text x="354.5" y="224.1" font-size="9.8" font-weight="normal" text-anchor="middle" fill="#111" textLength="5.45" lengthAdjust="spacingAndGlyphs" stroke="#111" stroke-width="0.4">0</text>
<text x="385.8" y="224.1" font-size="9.8" font-weight="normal" text-anchor="middle" fill="#111" textLength="10.9" lengthAdjust="spacingAndGlyphs" stroke="#111" stroke-width="0.4">10</text>
<text x="417.1" y="224.1" font-size="9.8" font-weight="normal" text-anchor="middle" fill="#111" textLength="10.9" lengthAdjust="spacingAndGlyphs" stroke="#111" stroke-width="0.4">20</text>
<text x="448.4" y="224.1" font-size="9.8" font-weight="normal" text-anchor="middle" fill="#111" textLength="10.9" lengthAdjust="spacingAndGlyphs" stroke="#111" stroke-width="0.4">30</text>
<text x="479.7" y="224.1" font-size="9.8" font-weight="normal" text-anchor="middle" fill="#111" textLength="10.9" lengthAdjust="spacingAndGlyphs" stroke="#111" stroke-width="0.4">40</text>
<text transform="translate(339.7,172.8) rotate(-90)" x="0" y="0" font-size="12.62" font-weight="normal" text-anchor="middle" fill="#111" textLength="64.5" lengthAdjust="spacingAndGlyphs" stroke="#111" stroke-width="0.42">IgA (mg/ml)</text>
<path d="M361.0,194.0 C367.5,191.8 388.5,185.3 400.0,180.5 C411.5,175.7 420.2,170.3 430.0,165.0 C439.8,159.7 454.1,151.5 458.9,148.8" stroke="#d9773f" stroke-width="0.9" fill="none" stroke-dasharray="2.2,1.6"/>
<path d="M361.0,203.0 C367.5,200.8 388.5,194.1 400.0,190.0 C411.5,185.9 420.2,182.3 430.0,178.5 C439.8,174.7 454.1,169.1 458.9,167.2" stroke="#d9773f" stroke-width="0.9" fill="none" stroke-dasharray="2.2,1.6"/>
<line x1="361.00" y1="198.30" x2="458.90" y2="158.20" stroke="#d9773f" stroke-width="1.5"/>
<g fill="#d9773f"><circle cx="367.5" cy="176.0" r="1.35"/><circle cx="370.8" cy="174.9" r="1.35"/><circle cx="373.9" cy="180.3" r="1.35"/><circle cx="389.3" cy="179.3" r="1.35"/><circle cx="399.1" cy="177.6" r="1.35"/><circle cx="380.2" cy="187.0" r="1.35"/><circle cx="389.7" cy="186.7" r="1.35"/><circle cx="361.4" cy="192.1" r="1.35"/><circle cx="358.0" cy="196.1" r="1.35"/><circle cx="389.7" cy="195.9" r="1.35"/><circle cx="414.6" cy="192.4" r="1.35"/><circle cx="392.8" cy="205.3" r="1.35"/><circle cx="358.0" cy="210.3" r="1.35"/><circle cx="361.4" cy="210.3" r="1.35"/><circle cx="458.9" cy="145.2" r="1.35"/><circle cx="436.8" cy="152.0" r="1.35"/><circle cx="436.8" cy="158.2" r="1.35"/><circle cx="424.6" cy="181.7" r="1.35"/><circle cx="430.3" cy="195.0" r="1.35"/><circle cx="415.6" cy="192.8" r="1.35"/></g>
<g fill="#17128e"><circle cx="380.2" cy="169.2" r="1.35"/><circle cx="383.3" cy="170.6" r="1.35"/><circle cx="373.9" cy="177.3" r="1.35"/><circle cx="417.9" cy="166.8" r="1.35"/><circle cx="392.8" cy="182.0" r="1.35"/><circle cx="399.1" cy="185.1" r="1.35"/><circle cx="414.8" cy="180.7" r="1.35"/><circle cx="370.8" cy="194.8" r="1.35"/><circle cx="373.5" cy="196.8" r="1.35"/><circle cx="389.7" cy="190.1" r="1.35"/><circle cx="393.0" cy="188.7" r="1.35"/><circle cx="405.1" cy="188.1" r="1.35"/><circle cx="399.1" cy="194.1" r="1.35"/><circle cx="402.2" cy="194.5" r="1.35"/><circle cx="405.1" cy="196.8" r="1.35"/><circle cx="421.3" cy="193.5" r="1.35"/><circle cx="380.2" cy="199.9" r="1.35"/><circle cx="389.7" cy="200.9" r="1.35"/><circle cx="402.2" cy="199.9" r="1.35"/><circle cx="405.1" cy="203.5" r="1.35"/><circle cx="376.9" cy="204.0" r="1.35"/><circle cx="370.8" cy="206.2" r="1.35"/><circle cx="361.4" cy="207.2" r="1.35"/><circle cx="393.0" cy="208.9" r="1.35"/><circle cx="366.8" cy="195.5" r="1.35"/><circle cx="376.9" cy="198.8" r="1.35"/><circle cx="418.1" cy="166.7" r="1.35"/><circle cx="440.2" cy="167.2" r="1.35"/><circle cx="430.7" cy="175.6" r="1.35"/><circle cx="465.3" cy="169.7" r="1.35"/><circle cx="433.7" cy="184.4" r="1.35"/><circle cx="424.6" cy="186.9" r="1.35"/><circle cx="421.1" cy="193.7" r="1.35"/><circle cx="465.3" cy="193.0" r="1.35"/></g>
<path d="M361.0,196.0 C367.5,194.4 388.5,189.3 400.0,186.5 C411.5,183.7 419.2,181.7 430.0,179.0 C440.8,176.3 458.9,171.6 464.7,170.1" stroke="#2a2ad0" stroke-width="1.0" fill="none" stroke-dasharray="2,1.6"/>
<path d="M361.0,201.6 C367.5,200.4 388.5,196.5 400.0,194.4 C411.5,192.3 419.2,190.9 430.0,189.0 C440.8,187.1 458.9,184.2 464.7,183.2" stroke="#2a2ad0" stroke-width="1.0" fill="none" stroke-dasharray="2,1.6"/>
<line x1="361.00" y1="198.80" x2="464.70" y2="176.60" stroke="#2222b0" stroke-width="1.5"/>
<line x1="400.00" y1="123.00" x2="419.50" y2="123.00" stroke="#2222b0" stroke-width="1.5"/>
<line x1="400.00" y1="132.50" x2="419.50" y2="132.50" stroke="#d9773f" stroke-width="1.5"/>
<text x="432" y="126.3" font-size="8.8" font-weight="normal" text-anchor="start" fill="#000" textLength="63" lengthAdjust="spacingAndGlyphs" stroke="#000" stroke-width="0.4">Control subjects</text>
<text x="432" y="135.8" font-size="8.8" font-weight="normal" text-anchor="start" fill="#000" textLength="75.5" lengthAdjust="spacingAndGlyphs" stroke="#000" stroke-width="0.4">IL12Rβ1-deficiency</text>
<defs><filter id="nz" x="0" y="0" width="100%" height="100%"><feTurbulence type="fractalNoise" baseFrequency="0.45" numOctaves="2" seed="3" result="t"/><feColorMatrix type="matrix" values="0 0 0 0 0.50  0 0 0 0 0.55  0 0 0 0 0.66  0 0 0 -4.0 2.15"/></filter><filter id="nz2" x="0" y="0" width="100%" height="100%"><feTurbulence type="fractalNoise" baseFrequency="1.3" numOctaves="1" seed="8" result="t"/><feColorMatrix type="matrix" values="0 0 0 0 0.93  0 0 0 0 0.95  0 0 0 0 1  0 0 0 -2.5 1.3"/></filter><clipPath id="c1"><rect x="16" y="256.8" width="92" height="68.2"/></clipPath><clipPath id="c2"><rect x="117.5" y="256.8" width="91.5" height="68.2"/></clipPath><clipPath id="c3"><rect x="219" y="256.8" width="92.5" height="68.2"/></clipPath><clipPath id="c4"><rect x="326.5" y="256.8" width="91.5" height="68.2"/></clipPath><clipPath id="cd"><rect x="448" y="250.5" width="72" height="47.5"/></clipPath></defs>
<rect x="16" y="256.8" width="92" height="68.2" fill="#a8b8cc"/>
<rect x="16" y="256.8" width="92" height="68.2" filter="url(#nz)" opacity="0.6"/>
<rect x="16" y="256.8" width="92" height="68.2" filter="url(#nz2)" opacity="0.35"/>
<rect x="117.5" y="256.8" width="91.5" height="68.2" fill="#a6b6cb"/>
<rect x="117.5" y="256.8" width="91.5" height="68.2" filter="url(#nz)" opacity="0.6"/>
<rect x="117.5" y="256.8" width="91.5" height="68.2" filter="url(#nz2)" opacity="0.35"/>
<rect x="219" y="256.8" width="92.5" height="68.2" fill="#aabace"/>
<rect x="219" y="256.8" width="92.5" height="68.2" filter="url(#nz)" opacity="0.6"/>
<rect x="219" y="256.8" width="92.5" height="68.2" filter="url(#nz2)" opacity="0.35"/>
<rect x="326.5" y="256.8" width="91.5" height="68.2" fill="#96b1d4"/>
<rect x="326.5" y="256.8" width="91.5" height="68.2" filter="url(#nz)" opacity="0.6"/>
<rect x="326.5" y="256.8" width="91.5" height="68.2" filter="url(#nz2)" opacity="0.35"/>
<g clip-path="url(#c1)">
<g fill-opacity="0.7"><circle cx="57.6" cy="294.8" r="0.67" fill="#8a8fa8"/><circle cx="57.6" cy="315.1" r="0.42" fill="#6e7390"/><circle cx="59.8" cy="298.6" r="0.42" fill="#8a8fa8"/><circle cx="43.9" cy="262.7" r="0.63" fill="#6e7390"/><circle cx="74.4" cy="297.3" r="0.49" fill="#8a8fa8"/><circle cx="76.2" cy="298.7" r="0.41" fill="#7d8299"/><circle cx="92.5" cy="260.8" r="0.36" fill="#7d8299"/><circle cx="71.2" cy="309.8" r="0.46" fill="#6e7390"/><circle cx="93.5" cy="292.1" r="0.57" fill="#8a8fa8"/><circle cx="16.4" cy="262.3" r="0.58" fill="#8a8fa8"/><circle cx="107.8" cy="324.7" r="0.64" fill="#6e7390"/><circle cx="39.4" cy="308.4" r="0.53" fill="#7d8299"/><circle cx="22.5" cy="309.0" r="0.49" fill="#8a8fa8"/><circle cx="51.6" cy="322.1" r="0.65" fill="#7d8299"/><circle cx="35.6" cy="320.0" r="0.37" fill="#8a8fa8"/><circle cx="106.2" cy="283.7" r="0.38" fill="#6e7390"/><circle cx="34.3" cy="302.7" r="0.47" fill="#8a8fa8"/><circle cx="46.6" cy="322.5" r="0.62" fill="#7d8299"/><circle cx="28.4" cy="304.9" r="0.35" fill="#8a8fa8"/><circle cx="89.3" cy="268.7" r="0.55" fill="#8a8fa8"/><circle cx="62.8" cy="324.0" r="0.62" fill="#8a8fa8"/><circle cx="75.2" cy="264.5" r="0.50" fill="#7d8299"/><circle cx="16.0" cy="315.7" r="0.69" fill="#6e7390"/><circle cx="44.0" cy="317.1" r="0.42" fill="#8a8fa8"/><circle cx="107.6" cy="297.7" r="0.55" fill="#7d8299"/><circle cx="107.0" cy="271.1" r="0.44" fill="#6e7390"/><circle cx="46.3" cy="276.8" r="0.38" fill="#7d8299"/><circle cx="35.2" cy="300.1" r="0.36" fill="#8a8fa8"/><circle cx="50.2" cy="287.5" r="0.69" fill="#8a8fa8"/><circle cx="92.6" cy="265.8" r="0.49" fill="#6e7390"/><circle cx="30.2" cy="318.7" r="0.64" fill="#7d8299"/><circle cx="82.7" cy="267.4" r="0.57" fill="#6e7390"/><circle cx="34.1" cy="321.6" r="0.66" fill="#6e7390"/><circle cx="23.2" cy="259.7" r="0.39" fill="#6e7390"/><circle cx="104.6" cy="272.8" r="0.60" fill="#8a8fa8"/><circle cx="54.7" cy="318.5" r="0.52" fill="#6e7390"/><circle cx="32.1" cy="305.8" r="0.37" fill="#7d8299"/><circle cx="60.1" cy="301.3" r="0.57" fill="#7d8299"/><circle cx="41.8" cy="319.3" r="0.42" fill="#7d8299"/><circle cx="22.4" cy="284.7" r="0.44" fill="#7d8299"/><circle cx="32.2" cy="281.8" r="0.55" fill="#7d8299"/><circle cx="24.5" cy="266.0" r="0.51" fill="#8a8fa8"/><circle cx="76.4" cy="303.8" r="0.55" fill="#7d8299"/><circle cx="70.3" cy="319.8" r="0.52" fill="#8a8fa8"/><circle cx="80.5" cy="322.4" r="0.36" fill="#6e7390"/><circle cx="22.9" cy="261.1" r="0.46" fill="#7d8299"/><circle cx="107.9" cy="261.7" r="0.54" fill="#6e7390"/><circle cx="20.1" cy="320.6" r="0.61" fill="#7d8299"/><circle cx="89.0" cy="319.2" r="0.47" fill="#6e7390"/><circle cx="59.5" cy="261.8" r="0.65" fill="#7d8299"/><circle cx="95.4" cy="295.7" r="0.57" fill="#8a8fa8"/><circle cx="50.9" cy="257.4" r="0.38" fill="#7d8299"/><circle cx="74.8" cy="324.5" r="0.66" fill="#6e7390"/><circle cx="46.4" cy="320.5" r="0.59" fill="#8a8fa8"/><circle cx="56.5" cy="313.9" r="0.38" fill="#6e7390"/><circle cx="18.7" cy="297.7" r="0.52" fill="#7d8299"/><circle cx="104.1" cy="264.2" r="0.62" fill="#6e7390"/><circle cx="100.7" cy="274.0" r="0.35" fill="#8a8fa8"/><circle cx="29.2" cy="298.4" r="0.53" fill="#8a8fa8"/><circle cx="76.7" cy="286.8" r="0.66" fill="#8a8fa8"/><circle cx="53.2" cy="273.7" r="0.57" fill="#7d8299"/><circle cx="97.0" cy="282.8" r="0.55" fill="#8a8fa8"/><circle cx="35.3" cy="265.7" r="0.47" fill="#7d8299"/><circle cx="81.4" cy="321.6" r="0.45" fill="#7d8299"/><circle cx="26.4" cy="288.8" r="0.67" fill="#8a8fa8"/><circle cx="51.2" cy="292.1" r="0.59" fill="#6e7390"/><circle cx="93.2" cy="323.8" r="0.51" fill="#7d8299"/><circle cx="92.2" cy="275.6" r="0.56" fill="#6e7390"/><circle cx="81.2" cy="295.6" r="0.46" fill="#6e7390"/><circle cx="17.8" cy="265.8" r="0.51" fill="#7d8299"/><circle cx="86.8" cy="274.7" r="0.62" fill="#7d8299"/><circle cx="106.5" cy="264.4" r="0.39" fill="#6e7390"/><circle cx="76.3" cy="311.8" r="0.69" fill="#6e7390"/><circle cx="34.2" cy="312.9" r="0.44" fill="#6e7390"/><circle cx="17.0" cy="288.8" r="0.60" fill="#7d8299"/><circle cx="36.8" cy="309.8" r="0.54" fill="#6e7390"/><circle cx="62.0" cy="324.8" r="0.41" fill="#6e7390"/><circle cx="99.4" cy="262.5" r="0.68" fill="#6e7390"/><circle cx="51.7" cy="287.4" r="0.42" fill="#7d8299"/><circle cx="50.7" cy="295.5" r="0.66" fill="#8a8fa8"/><circle cx="58.7" cy="301.1" r="0.42" fill="#6e7390"/><circle cx="95.7" cy="311.2" r="0.67" fill="#7d8299"/><circle cx="35.6" cy="318.1" r="0.69" fill="#8a8fa8"/><circle cx="65.4" cy="310.7" r="0.46" fill="#6e7390"/><circle cx="94.7" cy="280.4" r="0.38" fill="#8a8fa8"/><circle cx="47.5" cy="285.4" r="0.45" fill="#7d8299"/><circle cx="36.1" cy="315.9" r="0.50" fill="#7d8299"/><circle cx="31.9" cy="279.4" r="0.63" fill="#7d8299"/><circle cx="59.3" cy="325.0" r="0.67" fill="#6e7390"/><circle cx="93.3" cy="303.7" r="0.68" fill="#8a8fa8"/><circle cx="69.3" cy="303.7" r="0.62" fill="#8a8fa8"/><circle cx="64.5" cy="276.4" r="0.61" fill="#6e7390"/><circle cx="31.1" cy="291.7" r="0.67" fill="#8a8fa8"/><circle cx="44.7" cy="282.6" r="0.65" fill="#6e7390"/><circle cx="35.2" cy="314.8" r="0.69" fill="#6e7390"/><circle cx="41.1" cy="290.6" r="0.49" fill="#7d8299"/><circle cx="62.3" cy="298.0" r="0.36" fill="#7d8299"/><circle cx="63.5" cy="283.9" r="0.63" fill="#6e7390"/><circle cx="27.2" cy="262.9" r="0.41" fill="#6e7390"/><circle cx="58.2" cy="319.6" r="0.63" fill="#8a8fa8"/><circle cx="40.8" cy="288.9" r="0.39" fill="#8a8fa8"/><circle cx="98.9" cy="320.6" r="0.67" fill="#6e7390"/><circle cx="45.2" cy="269.6" r="0.57" fill="#8a8fa8"/><circle cx="27.9" cy="309.9" r="0.36" fill="#7d8299"/><circle cx="30.3" cy="257.3" r="0.45" fill="#6e7390"/><circle cx="48.7" cy="299.0" r="0.39" fill="#6e7390"/><circle cx="69.6" cy="314.9" r="0.57" fill="#6e7390"/><circle cx="34.2" cy="292.8" r="0.50" fill="#8a8fa8"/><circle cx="74.2" cy="313.0" r="0.57" fill="#6e7390"/><circle cx="34.8" cy="299.7" r="0.57" fill="#6e7390"/><circle cx="35.9" cy="293.7" r="0.56" fill="#7d8299"/><circle cx="37.4" cy="307.2" r="0.63" fill="#7d8299"/><circle cx="45.1" cy="278.1" r="0.67" fill="#7d8299"/><circle cx="87.6" cy="269.8" r="0.38" fill="#7d8299"/><circle cx="28.2" cy="262.5" r="0.49" fill="#8a8fa8"/><circle cx="92.6" cy="285.4" r="0.63" fill="#7d8299"/><circle cx="34.5" cy="299.5" r="0.63" fill="#7d8299"/><circle cx="34.5" cy="303.2" r="0.67" fill="#8a8fa8"/><circle cx="26.6" cy="291.1" r="0.62" fill="#6e7390"/><circle cx="107.9" cy="313.6" r="0.63" fill="#8a8fa8"/></g>
<g fill-opacity="0.75"><circle cx="39.8" cy="285.6" r="0.70" fill="#6a3e36"/><circle cx="25.2" cy="308.1" r="0.62" fill="#4e4658"/><circle cx="53.1" cy="269.1" r="0.65" fill="#5a4050"/><circle cx="69.2" cy="292.4" r="0.47" fill="#6a3e36"/><circle cx="84.1" cy="290.3" r="0.43" fill="#885040"/><circle cx="49.5" cy="265.1" r="0.44" fill="#7a4636"/><circle cx="68.7" cy="268.3" r="0.50" fill="#4e4658"/><circle cx="66.5" cy="281.2" r="0.59" fill="#6a3e36"/><circle cx="31.9" cy="277.4" r="0.65" fill="#7a4636"/><circle cx="44.3" cy="278.6" r="0.44" fill="#5a4050"/><circle cx="43.5" cy="290.2" r="0.61" fill="#4e4658"/><circle cx="40.6" cy="279.0" r="0.44" fill="#6a3e36"/><circle cx="80.4" cy="280.6" r="0.56" fill="#885040"/><circle cx="69.2" cy="274.9" r="0.54" fill="#885040"/><circle cx="61.3" cy="293.4" r="0.63" fill="#5a4050"/><circle cx="65.9" cy="292.7" r="0.79" fill="#7a4636"/><circle cx="50.1" cy="282.1" r="0.59" fill="#4e4658"/><circle cx="65.4" cy="297.4" r="0.74" fill="#6a3e36"/><circle cx="69.4" cy="298.3" r="0.42" fill="#885040"/><circle cx="41.0" cy="283.2" r="0.73" fill="#5a4050"/><circle cx="50.7" cy="284.9" r="0.53" fill="#4e4658"/><circle cx="51.0" cy="262.6" r="0.51" fill="#6a3e36"/><circle cx="42.8" cy="286.1" r="0.48" fill="#6a3e36"/><circle cx="61.4" cy="282.3" r="0.52" fill="#885040"/><circle cx="70.7" cy="300.7" r="0.63" fill="#6a3e36"/><circle cx="30.5" cy="261.5" r="0.85" fill="#5a4050"/><circle cx="78.1" cy="303.8" r="0.80" fill="#885040"/><circle cx="53.5" cy="276.9" r="0.64" fill="#4e4658"/><circle cx="46.9" cy="283.7" r="0.71" fill="#4e4658"/><circle cx="66.6" cy="279.0" r="0.53" fill="#7a4636"/><circle cx="54.1" cy="309.0" r="0.63" fill="#4e4658"/><circle cx="57.3" cy="275.7" r="0.53" fill="#885040"/><circle cx="61.2" cy="283.2" r="0.41" fill="#5a4050"/><circle cx="71.1" cy="275.5" r="0.51" fill="#4e4658"/><circle cx="55.2" cy="283.7" r="0.66" fill="#885040"/><circle cx="61.0" cy="271.6" r="0.66" fill="#4e4658"/><circle cx="64.5" cy="268.9" r="0.56" fill="#885040"/><circle cx="51.1" cy="274.7" r="0.47" fill="#6a3e36"/><circle cx="80.6" cy="271.8" r="0.80" fill="#4e4658"/><circle cx="35.9" cy="278.8" r="0.57" fill="#7a4636"/><circle cx="57.8" cy="276.1" r="0.52" fill="#5a4050"/><circle cx="40.8" cy="283.8" r="0.50" fill="#5a4050"/><circle cx="55.7" cy="272.5" r="0.51" fill="#4e4658"/><circle cx="56.4" cy="286.6" r="0.55" fill="#7a4636"/><circle cx="57.8" cy="273.7" r="0.48" fill="#4e4658"/><circle cx="57.7" cy="285.0" r="0.62" fill="#4e4658"/><circle cx="55.2" cy="283.3" r="0.67" fill="#4e4658"/><circle cx="60.9" cy="292.8" r="0.82" fill="#7a4636"/><circle cx="73.0" cy="280.6" r="0.78" fill="#4e4658"/><circle cx="55.2" cy="295.7" r="0.47" fill="#885040"/><circle cx="68.2" cy="293.5" r="0.67" fill="#6a3e36"/><circle cx="36.2" cy="287.8" r="0.42" fill="#6a3e36"/><circle cx="41.9" cy="292.4" r="0.76" fill="#5a4050"/><circle cx="50.4" cy="268.6" r="0.84" fill="#5a4050"/><circle cx="49.1" cy="278.9" r="0.74" fill="#7a4636"/><circle cx="52.8" cy="294.6" r="0.56" fill="#885040"/><circle cx="67.6" cy="294.0" r="0.76" fill="#6a3e36"/><circle cx="60.0" cy="286.4" r="0.76" fill="#885040"/><circle cx="43.5" cy="291.4" r="0.53" fill="#5a4050"/><circle cx="56.9" cy="288.1" r="0.69" fill="#5a4050"/><circle cx="63.9" cy="272.7" r="0.59" fill="#885040"/><circle cx="47.2" cy="298.9" r="0.62" fill="#4e4658"/><circle cx="63.5" cy="276.6" r="0.75" fill="#885040"/><circle cx="68.5" cy="288.5" r="0.80" fill="#885040"/><circle cx="90.9" cy="280.0" r="0.75" fill="#885040"/><circle cx="64.8" cy="276.4" r="0.80" fill="#7a4636"/><circle cx="56.1" cy="281.9" r="0.76" fill="#6a3e36"/><circle cx="71.5" cy="297.9" r="0.53" fill="#6a3e36"/><circle cx="84.0" cy="280.8" r="0.65" fill="#7a4636"/><circle cx="54.9" cy="279.8" r="0.71" fill="#5a4050"/><circle cx="62.0" cy="287.8" r="0.40" fill="#6a3e36"/><circle cx="65.2" cy="270.6" r="0.69" fill="#4e4658"/><circle cx="43.4" cy="299.6" r="0.78" fill="#5a4050"/><circle cx="86.6" cy="286.7" r="0.41" fill="#6a3e36"/><circle cx="32.5" cy="284.1" r="0.71" fill="#4e4658"/><circle cx="25.8" cy="274.5" r="0.57" fill="#7a4636"/><circle cx="63.9" cy="278.1" r="0.43" fill="#7a4636"/><circle cx="37.6" cy="292.3" r="0.78" fill="#6a3e36"/><circle cx="80.9" cy="286.2" r="0.65" fill="#7a4636"/><circle cx="44.5" cy="274.9" r="0.76" fill="#6a3e36"/><circle cx="47.7" cy="285.4" r="0.69" fill="#885040"/><circle cx="64.3" cy="272.6" r="0.70" fill="#885040"/><circle cx="99.4" cy="273.5" r="0.74" fill="#885040"/><circle cx="64.5" cy="287.4" r="0.62" fill="#6a3e36"/><circle cx="58.9" cy="281.5" r="0.50" fill="#4e4658"/><circle cx="48.3" cy="286.9" r="0.58" fill="#885040"/><circle cx="52.7" cy="292.1" r="0.79" fill="#4e4658"/><circle cx="43.9" cy="302.3" r="0.69" fill="#5a4050"/><circle cx="53.5" cy="289.1" r="0.57" fill="#5a4050"/><circle cx="35.4" cy="274.7" r="0.70" fill="#4e4658"/><circle cx="59.7" cy="274.6" r="0.59" fill="#7a4636"/><circle cx="73.6" cy="293.0" r="0.62" fill="#885040"/><circle cx="42.0" cy="278.6" r="0.66" fill="#4e4658"/><circle cx="53.0" cy="292.1" r="0.81" fill="#885040"/><circle cx="77.7" cy="277.8" r="0.43" fill="#5a4050"/><circle cx="52.3" cy="287.4" r="0.55" fill="#885040"/><circle cx="39.4" cy="268.5" r="0.46" fill="#885040"/><circle cx="49.9" cy="297.0" r="0.58" fill="#5a4050"/><circle cx="51.8" cy="295.0" r="0.78" fill="#5a4050"/><circle cx="68.5" cy="288.0" r="0.76" fill="#7a4636"/><circle cx="56.0" cy="277.0" r="0.60" fill="#885040"/><circle cx="79.5" cy="289.9" r="0.48" fill="#885040"/><circle cx="47.1" cy="271.1" r="0.67" fill="#4e4658"/><circle cx="59.5" cy="273.5" r="0.46" fill="#4e4658"/><circle cx="47.8" cy="290.7" r="0.56" fill="#6a3e36"/><circle cx="61.2" cy="296.4" r="0.73" fill="#5a4050"/><circle cx="48.0" cy="268.3" r="0.78" fill="#885040"/><circle cx="52.6" cy="290.4" r="0.41" fill="#885040"/><circle cx="31.8" cy="301.3" r="0.81" fill="#6a3e36"/><circle cx="53.8" cy="270.6" r="0.66" fill="#6a3e36"/><circle cx="59.2" cy="294.4" r="0.42" fill="#7a4636"/><circle cx="43.5" cy="286.9" r="0.51" fill="#6a3e36"/><circle cx="79.1" cy="297.4" r="0.57" fill="#4e4658"/><circle cx="57.8" cy="287.6" r="0.49" fill="#6a3e36"/><circle cx="47.5" cy="292.2" r="0.52" fill="#5a4050"/><circle cx="70.5" cy="265.6" r="0.46" fill="#6a3e36"/><circle cx="61.7" cy="269.1" r="0.76" fill="#885040"/><circle cx="77.2" cy="286.0" r="0.60" fill="#4e4658"/><circle cx="53.4" cy="278.3" r="0.78" fill="#7a4636"/><circle cx="57.3" cy="283.9" r="0.62" fill="#885040"/><circle cx="63.2" cy="279.1" r="0.65" fill="#5a4050"/><circle cx="36.3" cy="288.4" r="0.84" fill="#5a4050"/><circle cx="58.6" cy="283.8" r="0.63" fill="#4e4658"/><circle cx="62.5" cy="281.6" r="0.76" fill="#5a4050"/><circle cx="55.1" cy="275.0" r="0.54" fill="#885040"/><circle cx="39.0" cy="293.8" r="0.74" fill="#5a4050"/><circle cx="78.5" cy="291.1" r="0.42" fill="#885040"/><circle cx="52.2" cy="274.5" r="0.53" fill="#7a4636"/><circle cx="45.2" cy="266.1" r="0.45" fill="#6a3e36"/><circle cx="67.4" cy="285.5" r="0.75" fill="#5a4050"/><circle cx="51.4" cy="281.6" r="0.77" fill="#885040"/><circle cx="69.9" cy="281.9" r="0.58" fill="#6a3e36"/><circle cx="56.3" cy="297.0" r="0.72" fill="#6a3e36"/><circle cx="70.5" cy="266.6" r="0.53" fill="#4e4658"/><circle cx="69.5" cy="309.3" r="0.82" fill="#885040"/><circle cx="56.1" cy="286.8" r="0.62" fill="#4e4658"/><circle cx="57.5" cy="285.5" r="0.54" fill="#5a4050"/><circle cx="47.2" cy="273.3" r="0.40" fill="#5a4050"/><circle cx="68.4" cy="276.1" r="0.82" fill="#7a4636"/><circle cx="69.0" cy="279.0" r="0.65" fill="#6a3e36"/><circle cx="64.5" cy="279.9" r="0.83" fill="#5a4050"/><circle cx="66.7" cy="293.4" r="0.77" fill="#885040"/><circle cx="84.3" cy="282.8" r="0.60" fill="#885040"/><circle cx="58.1" cy="286.3" r="0.83" fill="#885040"/><circle cx="51.4" cy="272.4" r="0.49" fill="#6a3e36"/><circle cx="41.0" cy="268.8" r="0.70" fill="#4e4658"/><circle cx="85.8" cy="267.5" r="0.63" fill="#4e4658"/><circle cx="46.4" cy="280.7" r="0.55" fill="#6a3e36"/><circle cx="71.9" cy="269.3" r="0.67" fill="#6a3e36"/><circle cx="38.1" cy="279.7" r="0.84" fill="#7a4636"/><circle cx="64.3" cy="293.8" r="0.48" fill="#5a4050"/><circle cx="74.2" cy="288.3" r="0.82" fill="#4e4658"/><circle cx="45.1" cy="281.8" r="0.58" fill="#6a3e36"/><circle cx="73.2" cy="301.6" r="0.66" fill="#6a3e36"/><circle cx="55.4" cy="278.0" r="0.64" fill="#6a3e36"/><circle cx="56.7" cy="267.8" r="0.70" fill="#7a4636"/><circle cx="62.4" cy="300.7" r="0.62" fill="#6a3e36"/><circle cx="63.3" cy="287.0" r="0.82" fill="#5a4050"/><circle cx="78.0" cy="282.5" r="0.50" fill="#4e4658"/><circle cx="73.2" cy="274.8" r="0.67" fill="#5a4050"/><circle cx="66.9" cy="276.4" r="0.44" fill="#6a3e36"/><circle cx="30.3" cy="275.7" r="0.65" fill="#5a4050"/><circle cx="52.9" cy="272.8" r="0.42" fill="#5a4050"/><circle cx="66.6" cy="288.2" r="0.60" fill="#5a4050"/><circle cx="62.1" cy="286.6" r="0.81" fill="#7a4636"/><circle cx="72.4" cy="292.4" r="0.58" fill="#5a4050"/><circle cx="64.0" cy="294.4" r="0.81" fill="#5a4050"/><circle cx="66.7" cy="271.0" r="0.76" fill="#7a4636"/><circle cx="68.5" cy="259.4" r="0.41" fill="#885040"/><circle cx="62.0" cy="282.8" r="0.45" fill="#7a4636"/><circle cx="57.1" cy="306.0" r="0.52" fill="#885040"/><circle cx="75.0" cy="293.9" r="0.48" fill="#5a4050"/><circle cx="61.8" cy="278.3" r="0.72" fill="#4e4658"/><circle cx="52.1" cy="289.4" r="0.56" fill="#7a4636"/><circle cx="68.8" cy="288.4" r="0.71" fill="#885040"/><circle cx="62.8" cy="270.6" r="0.55" fill="#7a4636"/><circle cx="61.5" cy="283.7" r="0.50" fill="#4e4658"/><circle cx="48.0" cy="263.2" r="0.81" fill="#4e4658"/><circle cx="77.9" cy="270.6" r="0.57" fill="#7a4636"/><circle cx="84.5" cy="295.7" r="0.47" fill="#4e4658"/><circle cx="80.8" cy="312.0" r="0.78" fill="#4e4658"/><circle cx="55.5" cy="291.6" r="0.73" fill="#7a4636"/><circle cx="69.2" cy="283.1" r="0.62" fill="#5a4050"/><circle cx="51.5" cy="299.1" r="0.48" fill="#6a3e36"/><circle cx="64.8" cy="272.3" r="0.44" fill="#885040"/><circle cx="61.5" cy="282.9" r="0.61" fill="#885040"/><circle cx="71.3" cy="287.6" r="0.41" fill="#885040"/><circle cx="50.2" cy="287.0" r="0.43" fill="#6a3e36"/><circle cx="66.6" cy="301.5" r="0.84" fill="#5a4050"/><circle cx="69.0" cy="266.4" r="0.50" fill="#7a4636"/><circle cx="83.7" cy="289.2" r="0.69" fill="#6a3e36"/><circle cx="73.3" cy="284.4" r="0.79" fill="#885040"/><circle cx="69.0" cy="310.9" r="0.68" fill="#7a4636"/><circle cx="77.9" cy="262.5" r="0.65" fill="#4e4658"/><circle cx="67.8" cy="297.2" r="0.72" fill="#885040"/><circle cx="51.9" cy="286.1" r="0.47" fill="#4e4658"/><circle cx="61.0" cy="258.4" r="0.41" fill="#7a4636"/><circle cx="81.6" cy="288.7" r="0.75" fill="#7a4636"/><circle cx="68.0" cy="281.0" r="0.59" fill="#4e4658"/><circle cx="68.2" cy="275.6" r="0.46" fill="#4e4658"/><circle cx="80.9" cy="281.2" r="0.84" fill="#7a4636"/><circle cx="40.3" cy="285.8" r="0.59" fill="#5a4050"/><circle cx="53.7" cy="295.6" r="0.62" fill="#4e4658"/><circle cx="44.5" cy="276.5" r="0.58" fill="#6a3e36"/><circle cx="31.6" cy="269.5" r="0.75" fill="#885040"/><circle cx="77.9" cy="309.1" r="0.76" fill="#885040"/><circle cx="37.7" cy="280.1" r="0.43" fill="#6a3e36"/><circle cx="71.9" cy="264.6" r="0.41" fill="#4e4658"/><circle cx="33.1" cy="274.7" r="0.59" fill="#6a3e36"/><circle cx="81.5" cy="281.5" r="0.70" fill="#6a3e36"/><circle cx="69.2" cy="298.0" r="0.56" fill="#5a4050"/><circle cx="38.8" cy="283.4" r="0.82" fill="#6a3e36"/><circle cx="91.8" cy="286.4" r="0.45" fill="#6a3e36"/><circle cx="62.6" cy="274.8" r="0.72" fill="#5a4050"/><circle cx="57.3" cy="292.7" r="0.82" fill="#4e4658"/><circle cx="48.1" cy="268.8" r="0.40" fill="#5a4050"/><circle cx="71.6" cy="272.9" r="0.64" fill="#6a3e36"/><circle cx="61.6" cy="269.5" r="0.81" fill="#7a4636"/><circle cx="65.8" cy="279.7" r="0.57" fill="#5a4050"/><circle cx="78.1" cy="277.7" r="0.78" fill="#4e4658"/><circle cx="72.5" cy="285.7" r="0.49" fill="#4e4658"/><circle cx="76.5" cy="293.0" r="0.69" fill="#885040"/><circle cx="53.5" cy="287.9" r="0.58" fill="#885040"/><circle cx="61.1" cy="308.0" r="0.49" fill="#4e4658"/><circle cx="37.2" cy="269.5" r="0.84" fill="#6a3e36"/><circle cx="61.7" cy="267.6" r="0.64" fill="#7a4636"/><circle cx="61.2" cy="276.9" r="0.76" fill="#4e4658"/><circle cx="48.6" cy="292.5" r="0.67" fill="#5a4050"/><circle cx="39.2" cy="283.4" r="0.43" fill="#6a3e36"/><circle cx="75.7" cy="298.8" r="0.60" fill="#885040"/><circle cx="57.9" cy="290.3" r="0.71" fill="#4e4658"/><circle cx="40.8" cy="269.6" r="0.44" fill="#4e4658"/><circle cx="70.4" cy="272.6" r="0.69" fill="#885040"/><circle cx="60.5" cy="286.3" r="0.68" fill="#4e4658"/><circle cx="60.8" cy="267.9" r="0.42" fill="#885040"/><circle cx="79.0" cy="293.8" r="0.48" fill="#5a4050"/><circle cx="69.7" cy="259.9" r="0.84" fill="#4e4658"/><circle cx="71.2" cy="301.2" r="0.57" fill="#5a4050"/><circle cx="56.9" cy="281.3" r="0.82" fill="#4e4658"/><circle cx="44.5" cy="297.3" r="0.81" fill="#6a3e36"/><circle cx="81.0" cy="272.6" r="0.59" fill="#885040"/><circle cx="68.7" cy="289.2" r="0.46" fill="#4e4658"/><circle cx="68.9" cy="269.2" r="0.80" fill="#6a3e36"/><circle cx="81.5" cy="290.3" r="0.43" fill="#6a3e36"/><circle cx="59.4" cy="264.2" r="0.66" fill="#7a4636"/><circle cx="47.7" cy="306.7" r="0.71" fill="#7a4636"/><circle cx="58.2" cy="295.5" r="0.70" fill="#6a3e36"/><circle cx="53.5" cy="293.2" r="0.80" fill="#4e4658"/><circle cx="69.7" cy="297.7" r="0.78" fill="#5a4050"/><circle cx="59.1" cy="274.8" r="0.54" fill="#4e4658"/><circle cx="59.7" cy="288.7" r="0.47" fill="#5a4050"/><circle cx="67.4" cy="300.1" r="0.49" fill="#5a4050"/><circle cx="59.1" cy="284.5" r="0.79" fill="#5a4050"/><circle cx="40.3" cy="282.5" r="0.45" fill="#4e4658"/><circle cx="68.7" cy="283.0" r="0.61" fill="#5a4050"/><circle cx="39.3" cy="271.4" r="0.73" fill="#885040"/><circle cx="52.6" cy="281.4" r="0.63" fill="#4e4658"/><circle cx="44.3" cy="290.4" r="0.55" fill="#4e4658"/><circle cx="54.8" cy="267.5" r="0.74" fill="#885040"/><circle cx="47.1" cy="274.2" r="0.61" fill="#6a3e36"/><circle cx="49.9" cy="278.9" r="0.41" fill="#5a4050"/><circle cx="52.6" cy="282.5" r="0.69" fill="#885040"/><circle cx="62.5" cy="277.2" r="0.70" fill="#885040"/><circle cx="63.6" cy="270.2" r="0.59" fill="#6a3e36"/><circle cx="77.9" cy="272.6" r="0.52" fill="#4e4658"/><circle cx="94.9" cy="284.3" r="0.77" fill="#4e4658"/><circle cx="53.1" cy="271.3" r="0.73" fill="#6a3e36"/><circle cx="67.3" cy="273.9" r="0.53" fill="#4e4658"/><circle cx="46.7" cy="296.5" r="0.63" fill="#5a4050"/><circle cx="43.2" cy="273.8" r="0.65" fill="#6a3e36"/><circle cx="53.3" cy="284.8" r="0.61" fill="#7a4636"/><circle cx="65.6" cy="279.1" r="0.62" fill="#4e4658"/><circle cx="47.6" cy="278.4" r="0.78" fill="#6a3e36"/><circle cx="57.9" cy="270.8" r="0.73" fill="#5a4050"/><circle cx="57.9" cy="271.9" r="0.77" fill="#5a4050"/><circle cx="51.5" cy="270.1" r="0.63" fill="#4e4658"/><circle cx="44.9" cy="292.9" r="0.81" fill="#6a3e36"/><circle cx="69.5" cy="287.1" r="0.47" fill="#6a3e36"/><circle cx="77.2" cy="273.9" r="0.45" fill="#4e4658"/><circle cx="77.6" cy="268.6" r="0.81" fill="#885040"/><circle cx="50.3" cy="265.8" r="0.41" fill="#7a4636"/><circle cx="65.7" cy="273.6" r="0.48" fill="#7a4636"/><circle cx="51.1" cy="294.1" r="0.54" fill="#7a4636"/><circle cx="83.3" cy="277.6" r="0.59" fill="#4e4658"/><circle cx="75.4" cy="284.5" r="0.82" fill="#5a4050"/><circle cx="67.5" cy="277.0" r="0.47" fill="#7a4636"/><circle cx="34.8" cy="279.8" r="0.68" fill="#4e4658"/><circle cx="45.7" cy="282.6" r="0.71" fill="#6a3e36"/><circle cx="71.1" cy="277.3" r="0.55" fill="#5a4050"/><circle cx="44.9" cy="275.4" r="0.41" fill="#5a4050"/><circle cx="62.3" cy="291.4" r="0.53" fill="#7a4636"/><circle cx="53.6" cy="279.0" r="0.55" fill="#5a4050"/><circle cx="53.4" cy="280.2" r="0.84" fill="#7a4636"/><circle cx="71.8" cy="287.9" r="0.70" fill="#5a4050"/><circle cx="42.6" cy="263.6" r="0.44" fill="#5a4050"/><circle cx="64.2" cy="300.3" r="0.64" fill="#5a4050"/><circle cx="65.2" cy="270.7" r="0.59" fill="#5a4050"/><circle cx="29.5" cy="272.4" r="0.55" fill="#7a4636"/><circle cx="33.2" cy="283.2" r="0.78" fill="#7a4636"/><circle cx="45.5" cy="280.7" r="0.75" fill="#5a4050"/></g>
<g fill-opacity="0.7"><circle cx="75.3" cy="312.6" r="0.64" fill="#7a5a5a"/><circle cx="69.2" cy="293.5" r="0.70" fill="#8a6050"/><circle cx="75.6" cy="298.3" r="0.59" fill="#7a5a5a"/><circle cx="75.9" cy="300.3" r="0.44" fill="#8a6050"/><circle cx="74.9" cy="301.2" r="0.50" fill="#7a5a5a"/><circle cx="88.2" cy="308.3" r="0.71" fill="#6a5a68"/><circle cx="82.1" cy="291.7" r="0.73" fill="#6a5a68"/><circle cx="72.4" cy="306.0" r="0.71" fill="#8a6050"/><circle cx="68.2" cy="299.1" r="0.53" fill="#6a5a68"/><circle cx="68.5" cy="294.2" r="0.52" fill="#8a6050"/><circle cx="83.0" cy="282.5" r="0.64" fill="#8a6050"/><circle cx="57.9" cy="288.7" r="0.55" fill="#8a6050"/><circle cx="71.3" cy="303.5" r="0.47" fill="#8a6050"/><circle cx="71.2" cy="307.3" r="0.49" fill="#6a5a68"/><circle cx="72.6" cy="304.3" r="0.57" fill="#7a5a5a"/><circle cx="60.7" cy="296.2" r="0.65" fill="#7a5a5a"/><circle cx="86.4" cy="306.5" r="0.73" fill="#6a5a68"/><circle cx="84.4" cy="302.1" r="0.70" fill="#7a5a5a"/><circle cx="85.1" cy="311.9" r="0.69" fill="#8a6050"/><circle cx="75.7" cy="313.4" r="0.66" fill="#6a5a68"/><circle cx="86.9" cy="293.7" r="0.47" fill="#8a6050"/><circle cx="67.0" cy="309.9" r="0.45" fill="#8a6050"/><circle cx="65.8" cy="295.2" r="0.47" fill="#8a6050"/><circle cx="88.0" cy="304.9" r="0.41" fill="#8a6050"/><circle cx="75.0" cy="295.7" r="0.50" fill="#7a5a5a"/><circle cx="78.4" cy="293.3" r="0.72" fill="#7a5a5a"/><circle cx="86.4" cy="306.2" r="0.59" fill="#8a6050"/><circle cx="68.8" cy="284.5" r="0.69" fill="#8a6050"/><circle cx="76.5" cy="302.3" r="0.75" fill="#7a5a5a"/><circle cx="61.4" cy="310.3" r="0.60" fill="#8a6050"/><circle cx="84.0" cy="305.7" r="0.53" fill="#7a5a5a"/><circle cx="83.2" cy="302.2" r="0.57" fill="#8a6050"/><circle cx="67.0" cy="301.2" r="0.63" fill="#6a5a68"/><circle cx="78.3" cy="295.5" r="0.65" fill="#7a5a5a"/><circle cx="75.5" cy="296.6" r="0.64" fill="#7a5a5a"/><circle cx="75.4" cy="311.3" r="0.52" fill="#7a5a5a"/><circle cx="68.9" cy="298.0" r="0.62" fill="#6a5a68"/><circle cx="83.8" cy="303.7" r="0.43" fill="#7a5a5a"/><circle cx="75.4" cy="301.6" r="0.67" fill="#7a5a5a"/><circle cx="52.5" cy="308.7" r="0.54" fill="#7a5a5a"/><circle cx="73.9" cy="309.3" r="0.45" fill="#7a5a5a"/><circle cx="87.4" cy="310.4" r="0.48" fill="#6a5a68"/><circle cx="70.7" cy="298.5" r="0.52" fill="#7a5a5a"/><circle cx="70.5" cy="307.8" r="0.71" fill="#6a5a68"/><circle cx="85.5" cy="304.3" r="0.45" fill="#7a5a5a"/><circle cx="68.5" cy="315.3" r="0.59" fill="#7a5a5a"/><circle cx="89.9" cy="293.5" r="0.72" fill="#8a6050"/><circle cx="81.4" cy="308.5" r="0.53" fill="#6a5a68"/><circle cx="74.7" cy="314.9" r="0.42" fill="#7a5a5a"/><circle cx="66.6" cy="287.8" r="0.58" fill="#6a5a68"/><circle cx="78.7" cy="308.6" r="0.42" fill="#8a6050"/><circle cx="79.2" cy="299.9" r="0.45" fill="#8a6050"/><circle cx="76.5" cy="295.3" r="0.54" fill="#7a5a5a"/><circle cx="82.5" cy="300.6" r="0.43" fill="#7a5a5a"/><circle cx="80.4" cy="300.2" r="0.41" fill="#8a6050"/><circle cx="72.6" cy="288.3" r="0.75" fill="#8a6050"/><circle cx="66.1" cy="306.5" r="0.69" fill="#8a6050"/><circle cx="70.6" cy="287.1" r="0.41" fill="#7a5a5a"/><circle cx="66.4" cy="323.8" r="0.56" fill="#6a5a68"/><circle cx="78.7" cy="305.2" r="0.51" fill="#8a6050"/><circle cx="82.1" cy="303.0" r="0.52" fill="#7a5a5a"/><circle cx="94.9" cy="297.1" r="0.53" fill="#7a5a5a"/><circle cx="89.5" cy="301.5" r="0.57" fill="#6a5a68"/><circle cx="81.9" cy="309.6" r="0.74" fill="#6a5a68"/><circle cx="78.7" cy="308.4" r="0.57" fill="#7a5a5a"/><circle cx="93.1" cy="304.8" r="0.57" fill="#8a6050"/><circle cx="77.6" cy="304.9" r="0.61" fill="#6a5a68"/><circle cx="91.1" cy="309.4" r="0.60" fill="#8a6050"/><circle cx="78.8" cy="297.8" r="0.66" fill="#8a6050"/><circle cx="75.3" cy="300.5" r="0.59" fill="#8a6050"/></g>
</g>
<g clip-path="url(#c2)">
<g fill-opacity="0.7"><circle cx="132.6" cy="303.7" r="0.57" fill="#5a5a70"/><circle cx="194.7" cy="324.3" r="0.52" fill="#6e7390"/><circle cx="163.7" cy="272.7" r="0.35" fill="#8a8fa8"/><circle cx="202.8" cy="285.8" r="0.40" fill="#6e7390"/><circle cx="201.8" cy="304.0" r="0.50" fill="#5a5a70"/><circle cx="173.9" cy="258.8" r="0.47" fill="#5a5a70"/><circle cx="181.0" cy="300.9" r="0.68" fill="#7d8299"/><circle cx="131.7" cy="312.5" r="0.39" fill="#7d8299"/><circle cx="159.0" cy="294.3" r="0.47" fill="#5a5a70"/><circle cx="131.3" cy="302.1" r="0.51" fill="#6e7390"/><circle cx="124.3" cy="270.0" r="0.59" fill="#7d8299"/><circle cx="128.7" cy="289.1" r="0.64" fill="#6e7390"/><circle cx="148.7" cy="266.5" r="0.54" fill="#8a8fa8"/><circle cx="150.9" cy="287.4" r="0.49" fill="#5a5a70"/><circle cx="152.9" cy="258.3" r="0.38" fill="#5a5a70"/><circle cx="117.8" cy="261.3" r="0.56" fill="#6e7390"/><circle cx="169.8" cy="278.3" r="0.69" fill="#7d8299"/><circle cx="134.0" cy="268.2" r="0.47" fill="#8a8fa8"/><circle cx="149.2" cy="297.4" r="0.46" fill="#7d8299"/><circle cx="132.9" cy="319.7" r="0.41" fill="#5a5a70"/><circle cx="151.8" cy="303.3" r="0.59" fill="#6e7390"/><circle cx="154.7" cy="324.3" r="0.69" fill="#7d8299"/><circle cx="198.3" cy="290.1" r="0.48" fill="#6e7390"/><circle cx="203.2" cy="273.3" r="0.55" fill="#5a5a70"/><circle cx="191.2" cy="309.5" r="0.52" fill="#8a8fa8"/><circle cx="122.3" cy="274.2" r="0.45" fill="#5a5a70"/><circle cx="140.2" cy="283.5" r="0.65" fill="#6e7390"/><circle cx="207.5" cy="307.6" r="0.52" fill="#8a8fa8"/><circle cx="130.3" cy="301.0" r="0.67" fill="#5a5a70"/><circle cx="120.1" cy="271.0" r="0.64" fill="#6e7390"/><circle cx="198.2" cy="297.7" r="0.50" fill="#5a5a70"/><circle cx="145.7" cy="293.1" r="0.45" fill="#7d8299"/><circle cx="152.5" cy="265.1" r="0.60" fill="#8a8fa8"/><circle cx="171.8" cy="300.6" r="0.65" fill="#5a5a70"/><circle cx="141.0" cy="284.3" r="0.69" fill="#6e7390"/><circle cx="129.7" cy="263.0" r="0.38" fill="#7d8299"/><circle cx="176.2" cy="310.4" r="0.38" fill="#7d8299"/><circle cx="177.5" cy="265.2" r="0.54" fill="#8a8fa8"/><circle cx="153.8" cy="317.3" r="0.57" fill="#6e7390"/><circle cx="134.3" cy="282.4" r="0.60" fill="#7d8299"/><circle cx="172.8" cy="291.1" r="0.61" fill="#7d8299"/><circle cx="189.9" cy="257.0" r="0.51" fill="#7d8299"/><circle cx="153.9" cy="295.3" r="0.65" fill="#6e7390"/><circle cx="140.6" cy="304.2" r="0.46" fill="#7d8299"/><circle cx="139.9" cy="267.2" r="0.60" fill="#8a8fa8"/><circle cx="192.3" cy="311.5" r="0.52" fill="#7d8299"/><circle cx="167.4" cy="260.6" r="0.56" fill="#8a8fa8"/><circle cx="206.0" cy="277.7" r="0.59" fill="#6e7390"/><circle cx="123.3" cy="312.3" r="0.69" fill="#8a8fa8"/><circle cx="123.5" cy="301.6" r="0.50" fill="#7d8299"/><circle cx="177.1" cy="299.4" r="0.63" fill="#5a5a70"/><circle cx="163.7" cy="321.4" r="0.59" fill="#5a5a70"/><circle cx="160.6" cy="291.6" r="0.66" fill="#7d8299"/><circle cx="138.1" cy="259.8" r="0.50" fill="#6e7390"/><circle cx="142.7" cy="296.9" r="0.49" fill="#5a5a70"/><circle cx="159.2" cy="272.7" r="0.48" fill="#5a5a70"/><circle cx="138.3" cy="319.2" r="0.58" fill="#7d8299"/><circle cx="161.4" cy="290.2" r="0.60" fill="#6e7390"/><circle cx="188.8" cy="299.4" r="0.62" fill="#8a8fa8"/><circle cx="139.9" cy="319.3" r="0.49" fill="#5a5a70"/><circle cx="193.0" cy="322.5" r="0.70" fill="#7d8299"/><circle cx="132.3" cy="270.3" r="0.66" fill="#6e7390"/><circle cx="125.8" cy="268.5" r="0.53" fill="#5a5a70"/><circle cx="185.4" cy="288.2" r="0.39" fill="#6e7390"/><circle cx="181.9" cy="270.6" r="0.47" fill="#6e7390"/><circle cx="141.4" cy="321.7" r="0.46" fill="#8a8fa8"/><circle cx="204.0" cy="322.8" r="0.66" fill="#6e7390"/><circle cx="139.3" cy="303.6" r="0.60" fill="#6e7390"/><circle cx="203.6" cy="288.5" r="0.50" fill="#8a8fa8"/><circle cx="178.8" cy="302.2" r="0.57" fill="#7d8299"/><circle cx="134.7" cy="322.3" r="0.36" fill="#8a8fa8"/><circle cx="119.2" cy="290.8" r="0.36" fill="#5a5a70"/><circle cx="181.6" cy="273.0" r="0.35" fill="#6e7390"/><circle cx="126.1" cy="277.7" r="0.51" fill="#7d8299"/><circle cx="151.4" cy="265.7" r="0.63" fill="#5a5a70"/><circle cx="165.9" cy="259.9" r="0.42" fill="#5a5a70"/><circle cx="198.3" cy="273.2" r="0.55" fill="#5a5a70"/><circle cx="198.3" cy="257.7" r="0.55" fill="#7d8299"/><circle cx="157.4" cy="313.5" r="0.70" fill="#6e7390"/><circle cx="131.4" cy="290.6" r="0.53" fill="#5a5a70"/><circle cx="160.6" cy="311.3" r="0.47" fill="#8a8fa8"/><circle cx="131.5" cy="276.2" r="0.57" fill="#7d8299"/><circle cx="198.9" cy="261.4" r="0.37" fill="#7d8299"/><circle cx="179.5" cy="269.5" r="0.44" fill="#7d8299"/><circle cx="132.3" cy="296.6" r="0.45" fill="#5a5a70"/><circle cx="132.0" cy="263.6" r="0.68" fill="#8a8fa8"/><circle cx="154.9" cy="303.8" r="0.60" fill="#5a5a70"/><circle cx="124.7" cy="313.2" r="0.42" fill="#7d8299"/><circle cx="184.1" cy="298.1" r="0.57" fill="#6e7390"/><circle cx="119.4" cy="281.7" r="0.52" fill="#5a5a70"/><circle cx="191.3" cy="318.6" r="0.59" fill="#6e7390"/><circle cx="179.8" cy="300.9" r="0.57" fill="#7d8299"/><circle cx="206.3" cy="283.2" r="0.68" fill="#8a8fa8"/><circle cx="118.5" cy="280.6" r="0.56" fill="#7d8299"/><circle cx="186.6" cy="300.8" r="0.41" fill="#5a5a70"/><circle cx="136.4" cy="324.9" r="0.54" fill="#5a5a70"/><circle cx="185.2" cy="317.0" r="0.48" fill="#7d8299"/><circle cx="139.4" cy="297.6" r="0.47" fill="#8a8fa8"/><circle cx="169.9" cy="324.6" r="0.67" fill="#7d8299"/><circle cx="207.6" cy="307.2" r="0.61" fill="#6e7390"/><circle cx="202.4" cy="292.3" r="0.66" fill="#8a8fa8"/><circle cx="128.7" cy="272.9" r="0.50" fill="#5a5a70"/><circle cx="188.0" cy="308.0" r="0.58" fill="#8a8fa8"/><circle cx="134.4" cy="313.2" r="0.43" fill="#5a5a70"/><circle cx="141.8" cy="293.3" r="0.51" fill="#7d8299"/><circle cx="189.7" cy="279.5" r="0.50" fill="#8a8fa8"/><circle cx="184.9" cy="306.6" r="0.70" fill="#5a5a70"/><circle cx="130.5" cy="258.7" r="0.62" fill="#8a8fa8"/><circle cx="170.2" cy="324.8" r="0.42" fill="#6e7390"/><circle cx="197.1" cy="294.4" r="0.62" fill="#7d8299"/><circle cx="120.0" cy="319.3" r="0.40" fill="#8a8fa8"/><circle cx="159.7" cy="283.2" r="0.57" fill="#7d8299"/><circle cx="196.7" cy="308.0" r="0.48" fill="#8a8fa8"/><circle cx="184.7" cy="287.9" r="0.39" fill="#6e7390"/><circle cx="172.0" cy="279.3" r="0.65" fill="#8a8fa8"/><circle cx="140.3" cy="265.4" r="0.61" fill="#8a8fa8"/><circle cx="127.0" cy="298.8" r="0.58" fill="#6e7390"/><circle cx="129.8" cy="309.3" r="0.52" fill="#7d8299"/><circle cx="180.3" cy="279.5" r="0.58" fill="#8a8fa8"/><circle cx="118.3" cy="314.2" r="0.45" fill="#8a8fa8"/><circle cx="181.2" cy="284.8" r="0.39" fill="#7d8299"/><circle cx="208.7" cy="272.4" r="0.60" fill="#5a5a70"/><circle cx="163.3" cy="322.4" r="0.48" fill="#7d8299"/><circle cx="175.7" cy="281.6" r="0.47" fill="#5a5a70"/><circle cx="175.7" cy="287.8" r="0.53" fill="#6e7390"/><circle cx="157.7" cy="272.4" r="0.65" fill="#5a5a70"/><circle cx="194.7" cy="309.6" r="0.67" fill="#7d8299"/><circle cx="149.1" cy="267.1" r="0.35" fill="#8a8fa8"/><circle cx="147.4" cy="279.0" r="0.43" fill="#7d8299"/><circle cx="159.3" cy="270.3" r="0.35" fill="#6e7390"/><circle cx="195.0" cy="271.6" r="0.39" fill="#7d8299"/><circle cx="175.0" cy="264.9" r="0.39" fill="#6e7390"/><circle cx="166.8" cy="262.3" r="0.43" fill="#7d8299"/><circle cx="139.9" cy="286.1" r="0.63" fill="#7d8299"/><circle cx="154.1" cy="322.2" r="0.63" fill="#8a8fa8"/><circle cx="198.4" cy="285.1" r="0.55" fill="#7d8299"/><circle cx="199.1" cy="309.3" r="0.55" fill="#6e7390"/><circle cx="121.0" cy="300.4" r="0.62" fill="#8a8fa8"/><circle cx="188.5" cy="305.8" r="0.54" fill="#6e7390"/><circle cx="144.0" cy="281.9" r="0.52" fill="#8a8fa8"/><circle cx="153.1" cy="311.4" r="0.37" fill="#8a8fa8"/><circle cx="171.0" cy="289.8" r="0.64" fill="#6e7390"/><circle cx="186.4" cy="266.7" r="0.46" fill="#7d8299"/><circle cx="142.2" cy="302.9" r="0.67" fill="#7d8299"/><circle cx="151.7" cy="315.8" r="0.50" fill="#7d8299"/><circle cx="174.9" cy="288.9" r="0.54" fill="#8a8fa8"/><circle cx="183.9" cy="259.7" r="0.57" fill="#8a8fa8"/><circle cx="157.3" cy="309.3" r="0.36" fill="#6e7390"/><circle cx="132.4" cy="271.4" r="0.41" fill="#8a8fa8"/><circle cx="118.7" cy="309.5" r="0.65" fill="#5a5a70"/></g>
</g>
<path d="M153.0,262.0 C155.8,261.2 165.2,257.4 170.0,257.0 C174.8,256.6 179.4,257.3 181.5,259.5 C183.6,261.7 182.6,267.0 182.5,270.0 C182.4,273.0 182.1,275.5 181.0,277.5 C179.9,279.5 178.9,281.4 176.0,282.0 C173.1,282.6 167.0,281.4 163.5,280.8 C160.0,280.2 156.8,280.3 155.0,278.5 C153.2,276.7 152.8,272.8 152.5,270.0 C152.2,267.2 152.9,263.3 153.0,262.0" stroke="#151515" stroke-width="1.4" fill="none" stroke-dasharray="2.6,1.3"/>
<path d="M135.0,315.5 C134.8,314.8 132.2,313.4 133.5,311.0 C134.8,308.6 137.7,303.8 142.5,300.8 C147.3,297.8 156.2,294.8 162.5,293.2 C168.8,291.6 176.4,290.9 180.0,291.5 C183.6,292.1 183.5,294.0 184.0,297.0 C184.5,300.0 184.3,306.2 182.8,309.5 C181.3,312.8 180.9,315.7 175.0,317.0 C169.1,318.3 154.2,317.8 147.5,317.5 C140.8,317.2 137.1,315.8 135.0,315.5" stroke="#151515" stroke-width="1.4" fill="none" stroke-dasharray="2.6,1.3"/>
<line x1="190.50" y1="320.80" x2="200.50" y2="320.80" stroke="#000" stroke-width="1.6"/>
<g clip-path="url(#c3)">
<ellipse cx="303" cy="319" rx="7" ry="5" fill="#d4dde8" opacity="0.55"/>
<g fill-opacity="0.7"><circle cx="220.1" cy="264.2" r="0.49" fill="#6e6a80"/><circle cx="231.8" cy="264.2" r="0.43" fill="#7a7082"/><circle cx="232.6" cy="307.2" r="0.58" fill="#7a7082"/><circle cx="240.4" cy="306.7" r="0.53" fill="#7a7082"/><circle cx="311.2" cy="262.9" r="0.36" fill="#8a8098"/><circle cx="250.6" cy="270.6" r="0.49" fill="#7a7082"/><circle cx="238.5" cy="271.4" r="0.55" fill="#6e6a80"/><circle cx="307.2" cy="313.9" r="0.47" fill="#7a7082"/><circle cx="232.7" cy="311.0" r="0.48" fill="#6e6a80"/><circle cx="287.0" cy="316.0" r="0.58" fill="#7a7082"/><circle cx="238.2" cy="286.1" r="0.48" fill="#5e5a70"/><circle cx="278.3" cy="271.5" r="0.36" fill="#5e5a70"/><circle cx="246.1" cy="295.7" r="0.52" fill="#5e5a70"/><circle cx="307.9" cy="323.4" r="0.70" fill="#5e5a70"/><circle cx="301.9" cy="294.9" r="0.68" fill="#5e5a70"/><circle cx="227.7" cy="269.7" r="0.67" fill="#5e5a70"/><circle cx="283.3" cy="263.1" r="0.49" fill="#5e5a70"/><circle cx="279.1" cy="324.4" r="0.42" fill="#8a8098"/><circle cx="237.7" cy="279.4" r="0.49" fill="#6e6a80"/><circle cx="271.0" cy="264.6" r="0.38" fill="#6e6a80"/><circle cx="307.9" cy="270.3" r="0.41" fill="#7a7082"/><circle cx="263.0" cy="290.6" r="0.63" fill="#5e5a70"/><circle cx="298.6" cy="323.7" r="0.52" fill="#6e6a80"/><circle cx="298.0" cy="289.8" r="0.63" fill="#8a8098"/><circle cx="309.0" cy="309.1" r="0.44" fill="#8a8098"/><circle cx="251.3" cy="257.3" r="0.48" fill="#5e5a70"/><circle cx="260.2" cy="324.5" r="0.40" fill="#6e6a80"/><circle cx="304.4" cy="317.2" r="0.63" fill="#5e5a70"/><circle cx="282.8" cy="294.5" r="0.55" fill="#8a8098"/><circle cx="240.0" cy="269.8" r="0.57" fill="#5e5a70"/><circle cx="285.3" cy="288.5" r="0.40" fill="#6e6a80"/><circle cx="267.3" cy="280.3" r="0.42" fill="#5e5a70"/><circle cx="282.8" cy="296.2" r="0.41" fill="#6e6a80"/><circle cx="286.8" cy="270.7" r="0.44" fill="#5e5a70"/><circle cx="237.9" cy="317.5" r="0.46" fill="#7a7082"/><circle cx="304.0" cy="275.0" r="0.68" fill="#6e6a80"/><circle cx="222.1" cy="298.6" r="0.66" fill="#5e5a70"/><circle cx="268.6" cy="286.3" r="0.60" fill="#7a7082"/><circle cx="256.1" cy="312.5" r="0.48" fill="#7a7082"/><circle cx="241.2" cy="278.6" r="0.45" fill="#5e5a70"/><circle cx="229.4" cy="271.3" r="0.69" fill="#8a8098"/><circle cx="301.2" cy="287.5" r="0.58" fill="#7a7082"/><circle cx="257.6" cy="261.2" r="0.40" fill="#8a8098"/><circle cx="296.0" cy="323.7" r="0.45" fill="#5e5a70"/><circle cx="289.1" cy="277.1" r="0.67" fill="#5e5a70"/><circle cx="256.3" cy="309.7" r="0.43" fill="#7a7082"/><circle cx="297.3" cy="293.6" r="0.46" fill="#6e6a80"/><circle cx="281.0" cy="305.0" r="0.36" fill="#8a8098"/><circle cx="306.1" cy="302.6" r="0.53" fill="#5e5a70"/><circle cx="247.5" cy="283.1" r="0.59" fill="#7a7082"/><circle cx="290.0" cy="259.8" r="0.55" fill="#7a7082"/><circle cx="223.5" cy="321.9" r="0.59" fill="#5e5a70"/><circle cx="244.2" cy="263.9" r="0.54" fill="#5e5a70"/><circle cx="242.0" cy="290.2" r="0.70" fill="#7a7082"/><circle cx="289.9" cy="277.7" r="0.63" fill="#8a8098"/><circle cx="239.8" cy="315.5" r="0.54" fill="#6e6a80"/><circle cx="221.1" cy="311.5" r="0.50" fill="#8a8098"/><circle cx="289.2" cy="302.2" r="0.35" fill="#5e5a70"/><circle cx="240.8" cy="324.5" r="0.51" fill="#5e5a70"/><circle cx="224.3" cy="295.5" r="0.67" fill="#5e5a70"/><circle cx="276.3" cy="270.3" r="0.43" fill="#6e6a80"/><circle cx="282.3" cy="314.0" r="0.36" fill="#8a8098"/><circle cx="260.7" cy="284.0" r="0.64" fill="#5e5a70"/><circle cx="258.6" cy="294.6" r="0.62" fill="#8a8098"/><circle cx="224.2" cy="316.2" r="0.46" fill="#7a7082"/><circle cx="230.6" cy="282.6" r="0.43" fill="#5e5a70"/><circle cx="250.5" cy="319.5" r="0.62" fill="#5e5a70"/><circle cx="274.3" cy="312.7" r="0.50" fill="#6e6a80"/><circle cx="236.2" cy="272.0" r="0.44" fill="#7a7082"/><circle cx="229.8" cy="314.8" r="0.60" fill="#5e5a70"/><circle cx="243.6" cy="309.9" r="0.50" fill="#6e6a80"/><circle cx="266.1" cy="279.4" r="0.67" fill="#8a8098"/><circle cx="263.1" cy="266.3" r="0.50" fill="#7a7082"/><circle cx="224.7" cy="297.7" r="0.46" fill="#5e5a70"/><circle cx="269.8" cy="309.5" r="0.39" fill="#7a7082"/><circle cx="270.0" cy="297.1" r="0.62" fill="#5e5a70"/><circle cx="232.0" cy="277.3" r="0.49" fill="#8a8098"/><circle cx="269.2" cy="315.1" r="0.69" fill="#5e5a70"/><circle cx="288.2" cy="300.8" r="0.41" fill="#7a7082"/><circle cx="262.9" cy="293.1" r="0.64" fill="#7a7082"/><circle cx="258.4" cy="322.7" r="0.41" fill="#7a7082"/><circle cx="282.1" cy="296.5" r="0.63" fill="#8a8098"/><circle cx="302.0" cy="312.9" r="0.47" fill="#8a8098"/><circle cx="253.4" cy="308.7" r="0.60" fill="#8a8098"/><circle cx="298.3" cy="267.6" r="0.60" fill="#8a8098"/><circle cx="273.7" cy="280.2" r="0.65" fill="#6e6a80"/><circle cx="288.7" cy="318.6" r="0.56" fill="#7a7082"/><circle cx="225.0" cy="257.8" r="0.37" fill="#5e5a70"/><circle cx="271.4" cy="272.8" r="0.48" fill="#8a8098"/><circle cx="246.6" cy="260.1" r="0.45" fill="#6e6a80"/><circle cx="225.0" cy="284.2" r="0.53" fill="#7a7082"/><circle cx="279.1" cy="280.1" r="0.54" fill="#8a8098"/><circle cx="309.1" cy="315.5" r="0.60" fill="#6e6a80"/><circle cx="249.1" cy="273.6" r="0.65" fill="#8a8098"/><circle cx="304.4" cy="281.1" r="0.49" fill="#7a7082"/><circle cx="309.4" cy="305.2" r="0.57" fill="#7a7082"/><circle cx="304.4" cy="295.4" r="0.40" fill="#6e6a80"/><circle cx="302.0" cy="275.7" r="0.42" fill="#7a7082"/><circle cx="250.8" cy="267.5" r="0.51" fill="#5e5a70"/><circle cx="305.8" cy="275.5" r="0.47" fill="#5e5a70"/></g>
<g fill-opacity="0.75"><circle cx="284.7" cy="274.2" r="0.52" fill="#5e4c5c"/><circle cx="231.7" cy="271.4" r="0.44" fill="#7a5a5a"/><circle cx="286.1" cy="260.9" r="0.78" fill="#6a5a6a"/><circle cx="269.4" cy="271.3" r="0.70" fill="#5e4c5c"/><circle cx="242.7" cy="269.2" r="0.71" fill="#5e4c5c"/><circle cx="273.0" cy="274.9" r="0.45" fill="#6a5058"/><circle cx="266.4" cy="260.4" r="0.57" fill="#6a5058"/><circle cx="253.8" cy="268.5" r="0.59" fill="#6a5a6a"/><circle cx="291.8" cy="286.9" r="0.70" fill="#6a5058"/><circle cx="274.0" cy="257.8" r="0.49" fill="#7a5a5a"/><circle cx="301.2" cy="278.0" r="0.74" fill="#7a5a5a"/><circle cx="261.8" cy="272.7" r="0.59" fill="#5e4c5c"/><circle cx="234.8" cy="276.2" r="0.44" fill="#6a5058"/><circle cx="282.5" cy="276.7" r="0.62" fill="#5e4c5c"/><circle cx="258.2" cy="275.3" r="0.41" fill="#6a5058"/><circle cx="240.7" cy="270.7" r="0.53" fill="#7a5a5a"/><circle cx="291.6" cy="260.5" r="0.61" fill="#5e4c5c"/><circle cx="273.6" cy="280.6" r="0.69" fill="#5e4c5c"/><circle cx="295.2" cy="282.0" r="0.54" fill="#7a5a5a"/><circle cx="281.7" cy="276.7" r="0.40" fill="#6a5058"/><circle cx="270.9" cy="271.3" r="0.74" fill="#5e4c5c"/><circle cx="274.0" cy="262.4" r="0.79" fill="#5e4c5c"/><circle cx="260.4" cy="272.1" r="0.53" fill="#5e4c5c"/><circle cx="289.0" cy="267.9" r="0.77" fill="#5e4c5c"/><circle cx="295.2" cy="282.2" r="0.50" fill="#7a5a5a"/><circle cx="238.1" cy="283.9" r="0.41" fill="#5e4c5c"/><circle cx="275.6" cy="268.9" r="0.64" fill="#5e4c5c"/><circle cx="261.5" cy="274.4" r="0.53" fill="#5e4c5c"/><circle cx="273.2" cy="281.7" r="0.58" fill="#6a5058"/><circle cx="269.3" cy="283.6" r="0.45" fill="#6a5058"/><circle cx="268.3" cy="266.0" r="0.49" fill="#7a5a5a"/><circle cx="270.1" cy="267.1" r="0.64" fill="#5e4c5c"/><circle cx="261.1" cy="270.9" r="0.47" fill="#6a5058"/><circle cx="287.9" cy="269.9" r="0.53" fill="#7a5a5a"/><circle cx="297.3" cy="297.5" r="0.65" fill="#7a5a5a"/><circle cx="300.7" cy="271.9" r="0.41" fill="#5e4c5c"/><circle cx="298.3" cy="280.5" r="0.66" fill="#5e4c5c"/><circle cx="250.6" cy="278.9" r="0.65" fill="#5e4c5c"/><circle cx="234.6" cy="276.1" r="0.75" fill="#7a5a5a"/><circle cx="290.3" cy="276.2" r="0.49" fill="#6a5058"/><circle cx="243.0" cy="294.1" r="0.72" fill="#7a5a5a"/><circle cx="274.6" cy="279.3" r="0.78" fill="#6a5058"/><circle cx="230.3" cy="267.7" r="0.58" fill="#7a5a5a"/><circle cx="289.8" cy="269.2" r="0.78" fill="#5e4c5c"/><circle cx="296.1" cy="271.2" r="0.46" fill="#5e4c5c"/><circle cx="261.1" cy="273.0" r="0.78" fill="#6a5058"/><circle cx="267.5" cy="276.2" r="0.55" fill="#6a5a6a"/><circle cx="249.6" cy="280.8" r="0.63" fill="#6a5a6a"/><circle cx="286.7" cy="267.7" r="0.68" fill="#5e4c5c"/><circle cx="288.6" cy="265.9" r="0.44" fill="#7a5a5a"/><circle cx="258.4" cy="275.6" r="0.67" fill="#6a5058"/><circle cx="247.7" cy="261.1" r="0.67" fill="#6a5058"/><circle cx="288.6" cy="260.4" r="0.51" fill="#5e4c5c"/><circle cx="235.0" cy="258.6" r="0.51" fill="#6a5058"/><circle cx="244.4" cy="260.3" r="0.75" fill="#6a5058"/><circle cx="299.2" cy="277.6" r="0.54" fill="#6a5a6a"/><circle cx="281.9" cy="285.4" r="0.45" fill="#6a5058"/><circle cx="283.5" cy="260.0" r="0.46" fill="#6a5058"/><circle cx="234.8" cy="265.5" r="0.47" fill="#6a5a6a"/><circle cx="241.5" cy="275.1" r="0.80" fill="#5e4c5c"/><circle cx="266.9" cy="276.6" r="0.64" fill="#6a5058"/><circle cx="303.6" cy="283.9" r="0.69" fill="#7a5a5a"/><circle cx="255.3" cy="281.5" r="0.76" fill="#5e4c5c"/><circle cx="262.6" cy="275.5" r="0.62" fill="#6a5058"/><circle cx="254.4" cy="279.0" r="0.44" fill="#5e4c5c"/><circle cx="235.2" cy="274.3" r="0.58" fill="#5e4c5c"/><circle cx="261.2" cy="288.1" r="0.54" fill="#7a5a5a"/><circle cx="268.5" cy="263.7" r="0.62" fill="#6a5058"/><circle cx="292.7" cy="265.1" r="0.43" fill="#5e4c5c"/><circle cx="243.3" cy="285.0" r="0.71" fill="#5e4c5c"/><circle cx="302.6" cy="276.8" r="0.78" fill="#6a5a6a"/><circle cx="226.9" cy="276.9" r="0.78" fill="#5e4c5c"/><circle cx="309.0" cy="265.9" r="0.78" fill="#7a5a5a"/><circle cx="226.5" cy="276.2" r="0.58" fill="#7a5a5a"/><circle cx="259.2" cy="285.6" r="0.77" fill="#6a5058"/><circle cx="259.4" cy="271.0" r="0.48" fill="#5e4c5c"/><circle cx="255.8" cy="264.9" r="0.58" fill="#6a5058"/><circle cx="305.7" cy="271.5" r="0.42" fill="#5e4c5c"/><circle cx="261.1" cy="271.5" r="0.79" fill="#5e4c5c"/><circle cx="232.4" cy="284.6" r="0.60" fill="#6a5a6a"/><circle cx="258.8" cy="276.0" r="0.40" fill="#6a5a6a"/><circle cx="305.8" cy="266.0" r="0.57" fill="#7a5a5a"/><circle cx="281.1" cy="287.3" r="0.57" fill="#6a5a6a"/><circle cx="281.4" cy="285.7" r="0.69" fill="#6a5058"/><circle cx="283.8" cy="273.8" r="0.73" fill="#6a5058"/><circle cx="311.0" cy="266.9" r="0.49" fill="#5e4c5c"/><circle cx="258.6" cy="283.5" r="0.72" fill="#6a5058"/><circle cx="285.6" cy="274.1" r="0.47" fill="#5e4c5c"/><circle cx="297.2" cy="279.4" r="0.69" fill="#6a5058"/><circle cx="247.2" cy="281.1" r="0.76" fill="#5e4c5c"/><circle cx="267.6" cy="271.8" r="0.65" fill="#6a5a6a"/><circle cx="241.5" cy="277.3" r="0.63" fill="#6a5a6a"/><circle cx="286.3" cy="268.8" r="0.53" fill="#6a5058"/><circle cx="271.3" cy="269.0" r="0.71" fill="#5e4c5c"/><circle cx="305.4" cy="275.1" r="0.41" fill="#6a5058"/><circle cx="285.7" cy="276.2" r="0.58" fill="#6a5a6a"/><circle cx="242.1" cy="272.4" r="0.66" fill="#6a5a6a"/><circle cx="258.3" cy="271.9" r="0.58" fill="#7a5a5a"/><circle cx="280.1" cy="264.2" r="0.65" fill="#6a5058"/><circle cx="278.0" cy="286.9" r="0.66" fill="#5e4c5c"/><circle cx="261.9" cy="286.2" r="0.75" fill="#7a5a5a"/><circle cx="281.5" cy="268.1" r="0.50" fill="#5e4c5c"/><circle cx="309.3" cy="259.3" r="0.67" fill="#5e4c5c"/><circle cx="297.4" cy="267.2" r="0.52" fill="#6a5a6a"/><circle cx="263.0" cy="281.7" r="0.70" fill="#6a5a6a"/><circle cx="269.7" cy="269.3" r="0.76" fill="#6a5058"/><circle cx="239.5" cy="270.9" r="0.73" fill="#6a5a6a"/><circle cx="271.1" cy="281.1" r="0.67" fill="#6a5058"/><circle cx="228.5" cy="275.7" r="0.67" fill="#7a5a5a"/><circle cx="225.2" cy="274.7" r="0.48" fill="#7a5a5a"/><circle cx="279.9" cy="259.6" r="0.46" fill="#6a5058"/><circle cx="295.5" cy="268.0" r="0.71" fill="#5e4c5c"/><circle cx="275.8" cy="263.8" r="0.74" fill="#6a5a6a"/><circle cx="264.1" cy="262.4" r="0.44" fill="#7a5a5a"/><circle cx="265.9" cy="268.9" r="0.68" fill="#6a5a6a"/><circle cx="245.0" cy="259.9" r="0.49" fill="#5e4c5c"/><circle cx="290.7" cy="257.5" r="0.62" fill="#7a5a5a"/><circle cx="283.6" cy="273.2" r="0.68" fill="#6a5a6a"/><circle cx="239.3" cy="276.3" r="0.77" fill="#6a5a6a"/><circle cx="257.5" cy="257.0" r="0.69" fill="#5e4c5c"/><circle cx="223.8" cy="258.5" r="0.70" fill="#5e4c5c"/><circle cx="246.6" cy="269.0" r="0.65" fill="#5e4c5c"/><circle cx="230.0" cy="273.8" r="0.50" fill="#5e4c5c"/><circle cx="253.2" cy="256.9" r="0.64" fill="#7a5a5a"/><circle cx="277.0" cy="267.5" r="0.56" fill="#6a5a6a"/><circle cx="301.9" cy="273.0" r="0.43" fill="#5e4c5c"/><circle cx="263.4" cy="268.1" r="0.67" fill="#6a5058"/><circle cx="262.5" cy="272.5" r="0.61" fill="#6a5058"/><circle cx="253.5" cy="266.4" r="0.61" fill="#7a5a5a"/><circle cx="289.0" cy="273.0" r="0.53" fill="#5e4c5c"/><circle cx="291.2" cy="284.1" r="0.55" fill="#6a5058"/><circle cx="266.4" cy="266.7" r="0.54" fill="#5e4c5c"/><circle cx="265.7" cy="281.2" r="0.54" fill="#6a5a6a"/><circle cx="282.2" cy="262.2" r="0.49" fill="#6a5058"/><circle cx="241.9" cy="267.6" r="0.76" fill="#5e4c5c"/><circle cx="261.8" cy="260.6" r="0.79" fill="#6a5a6a"/><circle cx="267.8" cy="265.6" r="0.45" fill="#6a5058"/><circle cx="294.4" cy="265.1" r="0.46" fill="#7a5a5a"/><circle cx="278.5" cy="287.2" r="0.44" fill="#7a5a5a"/><circle cx="286.2" cy="258.7" r="0.72" fill="#7a5a5a"/><circle cx="283.6" cy="273.7" r="0.45" fill="#7a5a5a"/><circle cx="220.1" cy="270.2" r="0.42" fill="#7a5a5a"/><circle cx="270.8" cy="275.1" r="0.60" fill="#7a5a5a"/><circle cx="277.1" cy="268.3" r="0.42" fill="#6a5a6a"/><circle cx="260.9" cy="265.1" r="0.49" fill="#7a5a5a"/><circle cx="283.3" cy="268.3" r="0.78" fill="#6a5058"/><circle cx="261.8" cy="270.0" r="0.79" fill="#7a5a5a"/><circle cx="275.9" cy="274.3" r="0.43" fill="#5e4c5c"/><circle cx="301.2" cy="275.3" r="0.46" fill="#5e4c5c"/><circle cx="260.3" cy="281.0" r="0.76" fill="#7a5a5a"/><circle cx="236.6" cy="274.5" r="0.55" fill="#6a5a6a"/><circle cx="286.7" cy="280.2" r="0.54" fill="#5e4c5c"/><circle cx="249.8" cy="257.1" r="0.52" fill="#7a5a5a"/><circle cx="280.4" cy="278.1" r="0.69" fill="#6a5058"/><circle cx="253.0" cy="263.4" r="0.41" fill="#5e4c5c"/><circle cx="270.9" cy="276.8" r="0.61" fill="#5e4c5c"/><circle cx="279.0" cy="282.5" r="0.41" fill="#6a5a6a"/><circle cx="301.0" cy="274.7" r="0.66" fill="#5e4c5c"/><circle cx="296.7" cy="283.4" r="0.57" fill="#6a5a6a"/><circle cx="300.3" cy="265.3" r="0.65" fill="#6a5058"/><circle cx="254.5" cy="278.5" r="0.49" fill="#5e4c5c"/><circle cx="269.2" cy="277.5" r="0.73" fill="#6a5058"/><circle cx="277.4" cy="282.1" r="0.75" fill="#7a5a5a"/><circle cx="252.0" cy="277.5" r="0.75" fill="#5e4c5c"/><circle cx="282.7" cy="275.0" r="0.74" fill="#6a5a6a"/><circle cx="221.8" cy="267.6" r="0.41" fill="#6a5a6a"/><circle cx="309.7" cy="290.2" r="0.74" fill="#7a5a5a"/><circle cx="261.2" cy="276.7" r="0.75" fill="#7a5a5a"/><circle cx="234.2" cy="270.6" r="0.67" fill="#6a5a6a"/><circle cx="258.1" cy="279.4" r="0.49" fill="#7a5a5a"/></g>
</g>
<line x1="291.20" y1="320.80" x2="302.50" y2="320.80" stroke="#000" stroke-width="1.6"/>
<line x1="84.50" y1="320.80" x2="104.50" y2="320.80" stroke="#000" stroke-width="1.6"/>
<g clip-path="url(#c4)">
<path d="M337.5,272 C342,266 352,263 363.8,263.3 C370,263.5 374,265 375.5,270 C377,280 376,290 374,297 C372,302 366,305.5 357.5,305.8 C350,306 344,305 340,301 C336,297 333,290 333.5,282 C334,277 335.5,274 337.5,272Z" fill="#aec2de"/>
<path d="M405,273.2 C400,275 398.5,280 397.5,290 C397,298 399,303 402.5,305.8 C406,309 411,311 418,314.5 L420,314.5 L420,276 C416,275 410,272.8 405,273.2Z" fill="#aec2de"/>
<g fill-opacity="0.8"><circle cx="349.4" cy="273.7" r="0.41" fill="#9a98b0"/><circle cx="357.9" cy="293.0" r="0.54" fill="#9a98b0"/><circle cx="369.6" cy="296.1" r="0.35" fill="#8a88a8"/><circle cx="361.4" cy="299.3" r="0.50" fill="#8a88a8"/><circle cx="375.4" cy="305.2" r="0.46" fill="#9a98b0"/><circle cx="361.2" cy="290.1" r="0.37" fill="#7d7a99"/><circle cx="334.4" cy="300.4" r="0.64" fill="#8a88a8"/><circle cx="336.1" cy="279.1" r="0.52" fill="#7d7a99"/><circle cx="361.8" cy="269.2" r="0.67" fill="#7d7a99"/><circle cx="371.7" cy="271.5" r="0.44" fill="#8a88a8"/><circle cx="359.7" cy="289.5" r="0.41" fill="#8a88a8"/><circle cx="346.0" cy="270.1" r="0.58" fill="#9a98b0"/><circle cx="333.9" cy="291.6" r="0.65" fill="#8a88a8"/><circle cx="333.9" cy="269.7" r="0.51" fill="#7d7a99"/><circle cx="350.3" cy="286.4" r="0.45" fill="#8a88a8"/><circle cx="370.9" cy="291.5" r="0.46" fill="#8a88a8"/><circle cx="367.7" cy="294.1" r="0.60" fill="#7d7a99"/><circle cx="370.6" cy="295.6" r="0.39" fill="#7d7a99"/><circle cx="363.3" cy="301.6" r="0.49" fill="#7d7a99"/><circle cx="365.2" cy="289.6" r="0.50" fill="#8a88a8"/><circle cx="374.4" cy="274.2" r="0.50" fill="#7d7a99"/><circle cx="352.8" cy="294.3" r="0.63" fill="#8a88a8"/><circle cx="374.6" cy="275.6" r="0.42" fill="#7d7a99"/><circle cx="343.7" cy="279.8" r="0.60" fill="#7d7a99"/><circle cx="349.3" cy="301.2" r="0.61" fill="#7d7a99"/><circle cx="336.5" cy="287.2" r="0.42" fill="#8a88a8"/><circle cx="340.8" cy="292.0" r="0.37" fill="#8a88a8"/><circle cx="356.5" cy="290.2" r="0.52" fill="#8a88a8"/><circle cx="342.8" cy="292.4" r="0.39" fill="#9a98b0"/><circle cx="358.7" cy="293.9" r="0.54" fill="#9a98b0"/><circle cx="349.9" cy="279.0" r="0.44" fill="#9a98b0"/><circle cx="334.3" cy="288.8" r="0.68" fill="#7d7a99"/><circle cx="339.6" cy="285.8" r="0.67" fill="#9a98b0"/><circle cx="364.3" cy="296.9" r="0.38" fill="#7d7a99"/><circle cx="361.7" cy="293.1" r="0.42" fill="#9a98b0"/><circle cx="372.6" cy="302.1" r="0.46" fill="#8a88a8"/><circle cx="344.1" cy="279.9" r="0.43" fill="#8a88a8"/><circle cx="370.4" cy="275.7" r="0.56" fill="#9a98b0"/><circle cx="350.3" cy="284.6" r="0.65" fill="#8a88a8"/><circle cx="354.5" cy="289.0" r="0.43" fill="#8a88a8"/><circle cx="371.9" cy="276.2" r="0.44" fill="#9a98b0"/><circle cx="373.4" cy="298.7" r="0.37" fill="#7d7a99"/><circle cx="368.1" cy="286.5" r="0.62" fill="#7d7a99"/><circle cx="341.4" cy="297.7" r="0.46" fill="#9a98b0"/><circle cx="357.9" cy="282.0" r="0.36" fill="#8a88a8"/><circle cx="370.5" cy="285.6" r="0.40" fill="#7d7a99"/><circle cx="358.4" cy="279.8" r="0.43" fill="#9a98b0"/><circle cx="359.7" cy="287.4" r="0.53" fill="#8a88a8"/><circle cx="349.6" cy="271.8" r="0.53" fill="#7d7a99"/><circle cx="354.9" cy="271.7" r="0.37" fill="#7d7a99"/><circle cx="364.0" cy="272.0" r="0.41" fill="#9a98b0"/><circle cx="336.8" cy="291.7" r="0.68" fill="#9a98b0"/><circle cx="333.7" cy="277.0" r="0.46" fill="#8a88a8"/><circle cx="356.4" cy="301.5" r="0.46" fill="#9a98b0"/><circle cx="365.4" cy="279.6" r="0.63" fill="#8a88a8"/><circle cx="336.1" cy="280.3" r="0.41" fill="#9a98b0"/><circle cx="340.4" cy="270.7" r="0.38" fill="#8a88a8"/><circle cx="346.6" cy="301.9" r="0.46" fill="#8a88a8"/><circle cx="341.4" cy="301.9" r="0.69" fill="#7d7a99"/><circle cx="338.1" cy="264.7" r="0.40" fill="#7d7a99"/><circle cx="344.8" cy="299.7" r="0.62" fill="#9a98b0"/><circle cx="375.1" cy="295.6" r="0.66" fill="#7d7a99"/><circle cx="366.2" cy="281.0" r="0.58" fill="#7d7a99"/><circle cx="362.5" cy="286.4" r="0.45" fill="#7d7a99"/><circle cx="339.9" cy="303.4" r="0.63" fill="#8a88a8"/><circle cx="365.4" cy="285.9" r="0.42" fill="#7d7a99"/><circle cx="346.8" cy="275.9" r="0.67" fill="#9a98b0"/><circle cx="344.6" cy="267.9" r="0.65" fill="#7d7a99"/><circle cx="346.1" cy="281.0" r="0.54" fill="#7d7a99"/><circle cx="333.5" cy="291.2" r="0.43" fill="#9a98b0"/><circle cx="358.8" cy="291.9" r="0.50" fill="#8a88a8"/><circle cx="334.6" cy="272.5" r="0.45" fill="#9a98b0"/><circle cx="333.9" cy="284.8" r="0.59" fill="#7d7a99"/><circle cx="357.3" cy="304.4" r="0.65" fill="#7d7a99"/><circle cx="335.1" cy="299.5" r="0.39" fill="#9a98b0"/><circle cx="352.7" cy="267.5" r="0.66" fill="#7d7a99"/><circle cx="336.9" cy="295.8" r="0.59" fill="#8a88a8"/><circle cx="336.7" cy="292.7" r="0.45" fill="#9a98b0"/><circle cx="349.7" cy="301.6" r="0.40" fill="#7d7a99"/><circle cx="360.7" cy="302.9" r="0.64" fill="#7d7a99"/><circle cx="350.4" cy="278.9" r="0.42" fill="#7d7a99"/><circle cx="374.1" cy="302.6" r="0.66" fill="#7d7a99"/><circle cx="362.9" cy="270.7" r="0.59" fill="#8a88a8"/><circle cx="340.9" cy="305.4" r="0.44" fill="#9a98b0"/><circle cx="353.9" cy="294.9" r="0.44" fill="#8a88a8"/><circle cx="339.9" cy="298.8" r="0.38" fill="#9a98b0"/><circle cx="373.3" cy="277.7" r="0.44" fill="#8a88a8"/><circle cx="338.5" cy="274.6" r="0.41" fill="#7d7a99"/><circle cx="333.3" cy="284.7" r="0.38" fill="#7d7a99"/><circle cx="363.3" cy="268.7" r="0.47" fill="#8a88a8"/><circle cx="336.9" cy="305.4" r="0.48" fill="#8a88a8"/><circle cx="339.3" cy="276.6" r="0.68" fill="#7d7a99"/><circle cx="335.9" cy="294.1" r="0.43" fill="#8a88a8"/><circle cx="343.8" cy="273.2" r="0.38" fill="#7d7a99"/><circle cx="369.4" cy="284.9" r="0.51" fill="#9a98b0"/><circle cx="366.7" cy="290.2" r="0.46" fill="#8a88a8"/><circle cx="334.0" cy="270.4" r="0.50" fill="#9a98b0"/><circle cx="370.0" cy="303.7" r="0.64" fill="#9a98b0"/><circle cx="342.9" cy="278.5" r="0.39" fill="#9a98b0"/><circle cx="345.4" cy="300.0" r="0.69" fill="#8a88a8"/><circle cx="373.4" cy="285.6" r="0.66" fill="#7d7a99"/><circle cx="352.8" cy="300.3" r="0.60" fill="#9a98b0"/><circle cx="372.7" cy="288.9" r="0.53" fill="#8a88a8"/><circle cx="364.8" cy="289.7" r="0.40" fill="#7d7a99"/><circle cx="338.6" cy="304.0" r="0.36" fill="#9a98b0"/><circle cx="358.5" cy="272.2" r="0.69" fill="#9a98b0"/><circle cx="374.4" cy="280.7" r="0.60" fill="#9a98b0"/><circle cx="345.5" cy="280.7" r="0.50" fill="#7d7a99"/><circle cx="346.0" cy="301.7" r="0.41" fill="#7d7a99"/><circle cx="358.9" cy="271.2" r="0.62" fill="#7d7a99"/><circle cx="368.9" cy="280.9" r="0.37" fill="#9a98b0"/><circle cx="335.1" cy="289.1" r="0.63" fill="#9a98b0"/><circle cx="373.3" cy="292.2" r="0.51" fill="#9a98b0"/><circle cx="351.5" cy="268.8" r="0.63" fill="#7d7a99"/><circle cx="365.7" cy="267.8" r="0.40" fill="#8a88a8"/><circle cx="335.5" cy="279.0" r="0.64" fill="#7d7a99"/><circle cx="359.7" cy="265.3" r="0.48" fill="#9a98b0"/><circle cx="374.3" cy="298.8" r="0.46" fill="#8a88a8"/><circle cx="373.7" cy="303.1" r="0.42" fill="#8a88a8"/><circle cx="351.6" cy="280.9" r="0.63" fill="#7d7a99"/></g>
</g>
<g clip-path="url(#c4)">
<path d="M337.5,272.0 C338.9,270.8 341.8,266.0 346.2,264.5 C350.6,263.0 359.2,263.0 363.8,263.2 C368.4,263.4 371.7,263.5 373.8,265.8 C375.9,268.1 376.0,272.2 376.2,277.0 C376.4,281.8 376.0,290.1 375.0,294.5 C374.0,298.9 372.9,301.3 370.0,303.2 C367.1,305.1 361.7,305.6 357.5,305.8 C353.3,306.0 348.6,306.4 345.0,304.5 C341.4,302.6 338.1,298.2 336.2,294.5 C334.3,290.8 333.6,285.8 333.8,282.0 C334.0,278.2 336.9,273.7 337.5,272.0" stroke="#0a0a14" stroke-width="1.5" fill="none"/>
<path d="M363.8,256.5 C366.1,257.2 374.4,258.2 377.5,260.8 C380.6,263.4 381.3,267.2 382.5,272.0 C383.7,276.8 384.7,284.3 384.5,289.5 C384.3,294.7 383.6,299.6 381.2,303.2 C378.8,306.8 375.2,309.3 370.0,310.8 C364.8,312.3 355.8,312.4 350.0,312.0 C344.2,311.6 339.0,309.4 335.0,308.2 C331.0,306.9 328.1,306.0 326.2,304.5 C324.3,303.0 324.2,299.9 323.8,299.0" stroke="#0a0a14" stroke-width="1.2" fill="none" stroke-dasharray="2.8,1.6"/>
<path d="M419.0,277.0 C416.7,276.4 408.4,272.6 405.0,273.2 C401.6,273.8 400.1,277.2 398.8,280.8 C397.6,284.4 396.9,290.3 397.5,294.5 C398.1,298.7 400.0,302.9 402.5,305.8 C405.0,308.7 409.8,310.6 412.5,312.0 C415.2,313.4 417.9,314.1 419.0,314.5" stroke="#0a0a14" stroke-width="1.5" fill="none"/>
<path d="M419.0,267.0 C416.2,266.6 406.5,263.7 402.5,264.5 C398.5,265.3 396.7,268.2 395.0,272.0 C393.3,275.8 392.7,281.6 392.5,287.0 C392.3,292.4 392.6,299.9 393.8,304.5 C395.1,309.1 397.3,311.8 400.0,314.5 C402.7,317.2 406.8,319.1 410.0,320.8 C413.2,322.6 417.5,324.3 419.0,325.0" stroke="#0a0a14" stroke-width="1.2" fill="none" stroke-dasharray="2.8,1.6"/>
</g>
<line x1="399.50" y1="320.80" x2="408.00" y2="320.80" stroke="#000" stroke-width="1.6"/>
<text x="329.3" y="264.8" font-size="7.3" font-weight="bold" text-anchor="start" fill="#0a0a14" textLength="10.6" lengthAdjust="spacingAndGlyphs">MZ</text>
<text x="401.3" y="272.3" font-size="7.3" font-weight="bold" text-anchor="start" fill="#0a0a14" textLength="10.6" lengthAdjust="spacingAndGlyphs">MZ</text>
<text x="17.2" y="250.4" font-size="9.6" font-weight="normal" text-anchor="start" fill="#000" textLength="81.5" lengthAdjust="spacingAndGlyphs" stroke="#000" stroke-width="0.45">IL-12Rβ1 subject 1</text>
<text x="118.8" y="250.4" font-size="9.6" font-weight="normal" text-anchor="start" fill="#000" textLength="82.4" lengthAdjust="spacingAndGlyphs" stroke="#000" stroke-width="0.45">IL-12Rβ1 subject 2</text>
<text x="220" y="250.4" font-size="9.6" font-weight="normal" text-anchor="start" fill="#000" textLength="82.4" lengthAdjust="spacingAndGlyphs" stroke="#000" stroke-width="0.45">IL-12Rβ1 subject 3</text>
<text x="345" y="250.4" font-size="9.6" font-weight="normal" text-anchor="start" fill="#000" textLength="57.5" lengthAdjust="spacingAndGlyphs" stroke="#000" stroke-width="0.45">Control tonsil</text>
<defs><filter id="bl" x="-5%" y="-5%" width="110%" height="110%"><feGaussianBlur stdDeviation="0.55"/></filter></defs>
<g clip-path="url(#cd)">
<rect x="448" y="250.5" width="72" height="47" fill="#b2c3d9"/>
<rect x="448" y="250.5" width="72" height="47" filter="url(#nz)" opacity="0.5"/>
<g filter="url(#bl)">
<circle cx="452.4" cy="260.1" r="3.60" fill="#5a80ad" opacity="0.6"/>
<circle cx="460.2" cy="253" r="3.30" fill="#5a80ad" opacity="0.6"/>
<circle cx="469.5" cy="258.7" r="3.60" fill="#5a80ad" opacity="0.6"/>
<circle cx="478.7" cy="262.9" r="3.40" fill="#5a80ad" opacity="0.6"/>
<circle cx="490.1" cy="262.9" r="3.40" fill="#5a80ad" opacity="0.6"/>
<circle cx="488.7" cy="275" r="3.60" fill="#5a80ad" opacity="0.6"/>
<circle cx="481.6" cy="283.6" r="3.20" fill="#5a80ad" opacity="0.6"/>
<circle cx="511.4" cy="269.3" r="3.60" fill="#5a80ad" opacity="0.6"/>
<circle cx="514.3" cy="283.6" r="3.60" fill="#5a80ad" opacity="0.6"/>
<circle cx="453.8" cy="268" r="3.00" fill="#5a80ad" opacity="0.6"/>
<circle cx="486" cy="254" r="3.00" fill="#5a80ad" opacity="0.6"/>
<circle cx="506" cy="253" r="2.60" fill="#5a80ad" opacity="0.6"/>
<circle cx="492" cy="290" r="3.00" fill="#5a80ad" opacity="0.6"/>
<circle cx="517" cy="294" r="3.00" fill="#5a80ad" opacity="0.6"/>
<path d="M457,284 C459,282 461.5,284 462.5,287.5 C463,291 461.5,294 459,297 L455,297 C455.5,292 456,287 457,284Z" fill="#d2dae6"/>
<path d="M456.7,274.3 C459,270 461,267.5 463.1,267.2 C466,265.5 469,265.5 471.6,266.5 C474,268 476,270 476.6,272.2 C478,275 480,278 480.1,280.7 C481,284 480,287 478.7,289.3 C477,291.5 475,292.5 473,292.1 C470.5,291.8 469,290.5 468.8,289.3 C468,286 468,284 467.3,282.1 C466.5,280 465.5,278.5 464.5,277.9 C462,277 460,277.5 458.8,277.2 C457,277 456,276 456.7,274.3Z" fill="#3a2016"/>
<circle cx="467.6" cy="272.9" r="4.0" fill="#5a7aa0"/><circle cx="475" cy="284.3" r="4.1" fill="#4e6e96"/>
<path d="M453,276 C455,274 457,273.5 458.5,274 L457,276.5 C455.5,276.5 454,277 453,276Z" fill="#5a3020"/>
<path d="M496,260 C498,258.5 503,258.3 505.5,259.5 C506.5,263 506,268 504.5,271 C501,272.2 498,272 496.3,270.5 C495.3,267 495.3,263 496,260Z" fill="#4a2e24"/>
<ellipse cx="500.8" cy="265.3" rx="3.4" ry="3.8" fill="#5e4840"/>
<circle cx="502.4" cy="283" r="6.2" fill="#3e2418"/><circle cx="502.4" cy="283" r="4.1" fill="#5c4c52"/>
<circle cx="516.5" cy="254.5" r="5.4" fill="#4a2a1c"/>
<rect x="448" y="283.6" width="2.4" height="10" fill="#4a2614"/>
</g>
</g>
<line x1="497.20" y1="294.40" x2="509.30" y2="294.40" stroke="#000" stroke-width="1.6"/>
<rect x="450.3" y="301.1" width="21.5" height="20.3" fill="#c6bbdc"/>
<clipPath id="cp1"><rect x="450.3" y="301.1" width="21.5" height="20.3"/></clipPath><clipPath id="cp2"><rect x="479.8" y="301.1" width="24.7" height="23.4"/></clipPath>
<g clip-path="url(#cp1)"><g filter="url(#bl)">
<ellipse cx="461.4" cy="311.3" rx="8" ry="8.3" fill="#9078be"/>
<ellipse cx="463" cy="311.5" rx="4.8" ry="5.2" fill="#553a9a"/>
</g></g>
<rect x="479.8" y="301.1" width="24.7" height="23.4" fill="#c2aad2"/>
<g clip-path="url(#cp2)"><g filter="url(#bl)">
<path d="M483,316 C486,306 490,303 495,303 C500,304 502,310 500,316 C497,320 490,322 486,321Z" fill="#8e68b8"/>
<ellipse cx="493.4" cy="310.3" rx="4.6" ry="5" fill="#4a2c8e"/>
<path d="M480,318 L484,321 L490,322 L497,319 L504.5,320 L504.5,324.5 L479.8,324.5Z" fill="#a880c0"/>
</g></g>
<line x1="31.50" y1="347.00" x2="31.50" y2="431.50" stroke="#4a4a4a" stroke-width="1.15"/>
<line x1="31.50" y1="431.50" x2="112.50" y2="431.50" stroke="#4a4a4a" stroke-width="1.15"/>
<line x1="28.90" y1="431.50" x2="31.50" y2="431.50" stroke="#4a4a4a" stroke-width="1.15"/>
<line x1="28.90" y1="403.33" x2="31.50" y2="403.33" stroke="#4a4a4a" stroke-width="1.15"/>
<line x1="28.90" y1="375.16" x2="31.50" y2="375.16" stroke="#4a4a4a" stroke-width="1.15"/>
<line x1="28.90" y1="346.99" x2="31.50" y2="346.99" stroke="#4a4a4a" stroke-width="1.15"/>
<line x1="53.00" y1="431.50" x2="53.00" y2="434.10" stroke="#4a4a4a" stroke-width="1.15"/>
<line x1="95.00" y1="431.50" x2="95.00" y2="434.10" stroke="#4a4a4a" stroke-width="1.15"/>
<text x="28.6" y="435.3" font-size="9.5" font-weight="normal" text-anchor="end" fill="#111" textLength="5.28" lengthAdjust="spacingAndGlyphs" stroke="#111" stroke-width="0.3">0</text>
<text x="28.6" y="407.13" font-size="9.5" font-weight="normal" text-anchor="end" fill="#111" textLength="5.28" lengthAdjust="spacingAndGlyphs" stroke="#111" stroke-width="0.3">1</text>
<text x="28.6" y="378.96" font-size="9.5" font-weight="normal" text-anchor="end" fill="#111" textLength="5.28" lengthAdjust="spacingAndGlyphs" stroke="#111" stroke-width="0.3">2</text>
<text x="28.6" y="350.79" font-size="9.5" font-weight="normal" text-anchor="end" fill="#111" textLength="5.28" lengthAdjust="spacingAndGlyphs" stroke="#111" stroke-width="0.3">3</text>
<text x="53" y="442.4" font-size="9.8" font-weight="normal" text-anchor="middle" fill="#111" textLength="28.7" lengthAdjust="spacingAndGlyphs" stroke="#111" stroke-width="0.4">Control</text>
<text x="95" y="442.4" font-size="9.8" font-weight="normal" text-anchor="middle" fill="#111" textLength="35" lengthAdjust="spacingAndGlyphs" stroke="#111" stroke-width="0.4">IL-12Rβ1</text>
<text transform="translate(16.6,386.7) rotate(-90)" x="0" y="0" font-size="8.95" font-weight="normal" text-anchor="middle" fill="#111" textLength="68.6" lengthAdjust="spacingAndGlyphs" stroke="#111" stroke-width="0.3">specific IgG (OD)</text>
<text x="71.2" y="346.3" font-size="9.2" font-weight="normal" text-anchor="middle" fill="#111" textLength="13" lengthAdjust="spacingAndGlyphs" stroke="#111" stroke-width="0.3">n.s.</text>
<g fill="#1a10bc"><circle cx="52.9" cy="352.2" r="2.0"/><circle cx="48.0" cy="361.6" r="2.0"/><circle cx="52.9" cy="362.1" r="2.0"/><circle cx="57.8" cy="360.9" r="2.0"/><circle cx="50.1" cy="369.8" r="2.0"/><circle cx="52.9" cy="369.1" r="2.0"/><circle cx="55.4" cy="374.0" r="2.0"/><circle cx="45.1" cy="378.9" r="2.0"/><circle cx="50.1" cy="380.6" r="2.0"/><circle cx="55.4" cy="379.6" r="2.0"/><circle cx="60.6" cy="376.6" r="2.0"/><circle cx="45.1" cy="385.7" r="2.0"/><circle cx="50.1" cy="388.8" r="2.0"/><circle cx="55.4" cy="389.9" r="2.0"/><circle cx="60.6" cy="387.4" r="2.0"/><circle cx="50.1" cy="395.5" r="2.0"/><circle cx="57.8" cy="400.7" r="2.0"/><circle cx="48.0" cy="404.5" r="2.0"/><circle cx="52.9" cy="405.4" r="2.0"/><circle cx="48.0" cy="408.8" r="2.0"/><circle cx="50.1" cy="412.7" r="2.0"/><circle cx="52.9" cy="411.6" r="2.0"/><circle cx="57.8" cy="410.2" r="2.0"/><circle cx="55.4" cy="417.2" r="2.0"/><circle cx="41.3" cy="419.4" r="2.0"/><circle cx="45.8" cy="422.3" r="2.0"/><circle cx="50.3" cy="422.5" r="2.0"/><circle cx="55.4" cy="422.3" r="2.0"/><circle cx="59.9" cy="419.4" r="2.0"/><circle cx="64.6" cy="419.0" r="2.0"/></g>
<g fill="#e2651e"><circle cx="92.2" cy="363.2" r="1.9"/><circle cx="97.5" cy="363.2" r="1.9"/><circle cx="89.8" cy="367.8" r="1.9"/><circle cx="100.0" cy="368.1" r="1.9"/><circle cx="94.7" cy="371.3" r="1.9"/><circle cx="100.0" cy="373.4" r="1.9"/><circle cx="89.8" cy="378.3" r="1.9"/><circle cx="94.7" cy="378.3" r="1.9"/><circle cx="87.3" cy="394.2" r="1.9"/><circle cx="92.2" cy="395.1" r="1.9"/><circle cx="97.5" cy="394.6" r="1.9"/><circle cx="102.4" cy="394.2" r="1.9"/><circle cx="94.7" cy="400.4" r="1.9"/><circle cx="89.8" cy="404.7" r="1.9"/><circle cx="94.7" cy="408.1" r="1.9"/><circle cx="100.0" cy="406.9" r="1.9"/><circle cx="87.3" cy="411.8" r="1.9"/><circle cx="92.2" cy="413.5" r="1.9"/><circle cx="97.5" cy="414.5" r="1.9"/><circle cx="102.4" cy="412.7" r="1.9"/><circle cx="82.8" cy="418.2" r="1.9"/><circle cx="85.2" cy="419.4" r="1.9"/><circle cx="87.7" cy="420.7" r="1.9"/><circle cx="90.1" cy="421.9" r="1.9"/><circle cx="92.6" cy="422.9" r="1.9"/><circle cx="95.0" cy="423.7" r="1.9"/><circle cx="97.5" cy="422.9" r="1.9"/><circle cx="100.0" cy="421.6" r="1.9"/><circle cx="102.4" cy="420.0" r="1.9"/><circle cx="104.9" cy="419.2" r="1.9"/><circle cx="107.3" cy="418.8" r="1.9"/></g>
<line x1="38.50" y1="393.30" x2="67.20" y2="393.30" stroke="#111" stroke-width="1.2"/>
<line x1="80.30" y1="400.40" x2="109.20" y2="400.40" stroke="#111" stroke-width="1.2"/>
<line x1="156.60" y1="347.00" x2="156.60" y2="431.25" stroke="#4a4a4a" stroke-width="1.15"/>
<line x1="156.60" y1="431.25" x2="240.00" y2="431.25" stroke="#4a4a4a" stroke-width="1.15"/>
<line x1="154.00" y1="431.25" x2="156.60" y2="431.25" stroke="#4a4a4a" stroke-width="1.15"/>
<line x1="154.00" y1="414.40" x2="156.60" y2="414.40" stroke="#4a4a4a" stroke-width="1.15"/>
<line x1="154.00" y1="397.55" x2="156.60" y2="397.55" stroke="#4a4a4a" stroke-width="1.15"/>
<line x1="154.00" y1="380.70" x2="156.60" y2="380.70" stroke="#4a4a4a" stroke-width="1.15"/>
<line x1="154.00" y1="363.85" x2="156.60" y2="363.85" stroke="#4a4a4a" stroke-width="1.15"/>
<line x1="154.00" y1="347.00" x2="156.60" y2="347.00" stroke="#4a4a4a" stroke-width="1.15"/>
<line x1="177.50" y1="431.25" x2="177.50" y2="433.85" stroke="#4a4a4a" stroke-width="1.15"/>
<line x1="220.50" y1="431.25" x2="220.50" y2="433.85" stroke="#4a4a4a" stroke-width="1.15"/>
<text x="153.7" y="435.05" font-size="9.5" font-weight="normal" text-anchor="end" fill="#111" textLength="5.28" lengthAdjust="spacingAndGlyphs" stroke="#111" stroke-width="0.3">0</text>
<text x="153.7" y="418.2" font-size="9.5" font-weight="normal" text-anchor="end" fill="#111" textLength="10.57" lengthAdjust="spacingAndGlyphs" stroke="#111" stroke-width="0.3">20</text>
<text x="153.7" y="401.35" font-size="9.5" font-weight="normal" text-anchor="end" fill="#111" textLength="10.57" lengthAdjust="spacingAndGlyphs" stroke="#111" stroke-width="0.3">40</text>
<text x="153.7" y="384.5" font-size="9.5" font-weight="normal" text-anchor="end" fill="#111" textLength="10.57" lengthAdjust="spacingAndGlyphs" stroke="#111" stroke-width="0.3">60</text>
<text x="153.7" y="367.65000000000003" font-size="9.5" font-weight="normal" text-anchor="end" fill="#111" textLength="10.57" lengthAdjust="spacingAndGlyphs" stroke="#111" stroke-width="0.3">80</text>
<text x="153.7" y="350.8" font-size="9.5" font-weight="normal" text-anchor="end" fill="#111" textLength="15.85" lengthAdjust="spacingAndGlyphs" stroke="#111" stroke-width="0.3">100</text>
<text x="177.5" y="442.15" font-size="9.8" font-weight="normal" text-anchor="middle" fill="#111" textLength="29.5" lengthAdjust="spacingAndGlyphs" stroke="#111" stroke-width="0.4">Control</text>
<text x="220.5" y="442.15" font-size="9.8" font-weight="normal" text-anchor="middle" fill="#111" textLength="39" lengthAdjust="spacingAndGlyphs" stroke="#111" stroke-width="0.4">IL-12Rβ1</text>
<text transform="translate(137.9,388.6) rotate(-90)" x="0" y="0" font-size="9.11" font-weight="normal" text-anchor="middle" fill="#111" textLength="84" lengthAdjust="spacingAndGlyphs" stroke="#111" stroke-width="0.3">IgG avidity index (%)</text>
<text x="199.6" y="346.6" font-size="9.2" font-weight="normal" text-anchor="middle" fill="#111" textLength="36.7" lengthAdjust="spacingAndGlyphs" stroke="#111" stroke-width="0.3">p=0.0054</text>
<g fill="#1a10bc"><circle cx="177.6" cy="349.3" r="2.0"/><circle cx="185.3" cy="351.3" r="2.0"/><circle cx="170.1" cy="355.8" r="2.0"/><circle cx="175.0" cy="355.6" r="2.0"/><circle cx="180.3" cy="355.1" r="2.0"/><circle cx="183.0" cy="357.7" r="2.0"/><circle cx="172.5" cy="360.0" r="2.0"/><circle cx="177.6" cy="362.4" r="2.0"/><circle cx="165.3" cy="363.1" r="2.0"/><circle cx="168.9" cy="364.5" r="2.0"/><circle cx="183.2" cy="364.8" r="2.0"/><circle cx="186.3" cy="364.8" r="2.0"/><circle cx="190.1" cy="363.1" r="2.0"/><circle cx="172.5" cy="367.0" r="2.0"/><circle cx="175.4" cy="367.7" r="2.0"/><circle cx="179.3" cy="368.0" r="2.0"/><circle cx="167.5" cy="370.3" r="2.0"/><circle cx="188.0" cy="370.3" r="2.0"/><circle cx="166.3" cy="374.0" r="2.0"/><circle cx="170.1" cy="374.7" r="2.0"/><circle cx="172.5" cy="372.5" r="2.0"/><circle cx="177.6" cy="373.5" r="2.0"/><circle cx="183.0" cy="372.2" r="2.0"/><circle cx="189.0" cy="374.4" r="2.0"/><circle cx="174.0" cy="376.4" r="2.0"/><circle cx="185.3" cy="375.7" r="2.0"/><circle cx="177.6" cy="378.8" r="2.0"/><circle cx="181.4" cy="378.3" r="2.0"/><circle cx="183.0" cy="380.5" r="2.0"/><circle cx="172.5" cy="381.9" r="2.0"/><circle cx="177.6" cy="384.1" r="2.0"/><circle cx="177.6" cy="395.0" r="2.0"/></g>
<g fill="#e2651e"><circle cx="219.7" cy="354.0" r="1.9"/><circle cx="212.0" cy="357.4" r="1.9"/><circle cx="217.3" cy="359.3" r="1.9"/><circle cx="222.5" cy="360.3" r="1.9"/><circle cx="227.3" cy="357.6" r="1.9"/><circle cx="214.6" cy="362.4" r="1.9"/><circle cx="225.0" cy="363.7" r="1.9"/><circle cx="219.7" cy="366.0" r="1.9"/><circle cx="212.0" cy="369.2" r="1.9"/><circle cx="227.3" cy="370.0" r="1.9"/><circle cx="217.3" cy="374.0" r="1.9"/><circle cx="222.5" cy="374.0" r="1.9"/><circle cx="227.3" cy="374.7" r="1.9"/><circle cx="212.0" cy="375.8" r="1.9"/><circle cx="217.3" cy="379.3" r="1.9"/><circle cx="222.5" cy="379.3" r="1.9"/><circle cx="208.1" cy="382.1" r="1.9"/><circle cx="212.5" cy="383.5" r="1.9"/><circle cx="217.3" cy="384.7" r="1.9"/><circle cx="222.0" cy="385.6" r="1.9"/><circle cx="226.4" cy="383.7" r="1.9"/><circle cx="231.5" cy="382.6" r="1.9"/><circle cx="214.6" cy="387.9" r="1.9"/><circle cx="219.7" cy="391.9" r="1.9"/><circle cx="225.0" cy="391.9" r="1.9"/><circle cx="217.3" cy="395.8" r="1.9"/><circle cx="222.5" cy="399.0" r="1.9"/><circle cx="222.5" cy="401.6" r="1.9"/><circle cx="217.3" cy="404.7" r="1.9"/></g>
<line x1="163.40" y1="368.40" x2="191.90" y2="368.40" stroke="#111" stroke-width="1.2"/>
<line x1="205.20" y1="377.60" x2="234.10" y2="377.60" stroke="#111" stroke-width="1.2"/>
<line x1="304.50" y1="347.00" x2="304.50" y2="431.50" stroke="#4a4a4a" stroke-width="1.15"/>
<line x1="304.50" y1="431.50" x2="385.00" y2="431.50" stroke="#4a4a4a" stroke-width="1.15"/>
<line x1="301.90" y1="431.50" x2="304.50" y2="431.50" stroke="#4a4a4a" stroke-width="1.15"/>
<line x1="301.90" y1="403.33" x2="304.50" y2="403.33" stroke="#4a4a4a" stroke-width="1.15"/>
<line x1="301.90" y1="375.16" x2="304.50" y2="375.16" stroke="#4a4a4a" stroke-width="1.15"/>
<line x1="301.90" y1="346.99" x2="304.50" y2="346.99" stroke="#4a4a4a" stroke-width="1.15"/>
<line x1="325.50" y1="431.50" x2="325.50" y2="434.10" stroke="#4a4a4a" stroke-width="1.15"/>
<line x1="367.00" y1="431.50" x2="367.00" y2="434.10" stroke="#4a4a4a" stroke-width="1.15"/>
<text x="301.6" y="435.3" font-size="9.5" font-weight="normal" text-anchor="end" fill="#111" textLength="5.28" lengthAdjust="spacingAndGlyphs" stroke="#111" stroke-width="0.3">0</text>
<text x="301.6" y="407.13" font-size="9.5" font-weight="normal" text-anchor="end" fill="#111" textLength="5.28" lengthAdjust="spacingAndGlyphs" stroke="#111" stroke-width="0.3">1</text>
<text x="301.6" y="378.96" font-size="9.5" font-weight="normal" text-anchor="end" fill="#111" textLength="5.28" lengthAdjust="spacingAndGlyphs" stroke="#111" stroke-width="0.3">2</text>
<text x="301.6" y="350.79" font-size="9.5" font-weight="normal" text-anchor="end" fill="#111" textLength="5.28" lengthAdjust="spacingAndGlyphs" stroke="#111" stroke-width="0.3">3</text>
<text x="325.5" y="442.4" font-size="9.8" font-weight="normal" text-anchor="middle" fill="#111" textLength="30.5" lengthAdjust="spacingAndGlyphs" stroke="#111" stroke-width="0.4">Control</text>
<text x="367" y="442.4" font-size="9.8" font-weight="normal" text-anchor="middle" fill="#111" textLength="35" lengthAdjust="spacingAndGlyphs" stroke="#111" stroke-width="0.4">IL-12Rβ1</text>
<text transform="translate(288.4,386.5) rotate(-90)" x="0" y="0" font-size="8.92" font-weight="normal" text-anchor="middle" fill="#111" textLength="68.4" lengthAdjust="spacingAndGlyphs" stroke="#111" stroke-width="0.3">specific IgG (OD)</text>
<text x="352.1" y="346.6" font-size="9.2" font-weight="normal" text-anchor="middle" fill="#111" textLength="31.7" lengthAdjust="spacingAndGlyphs" stroke="#111" stroke-width="0.3">p=0.021</text>
<g fill="#1a10bc"><circle cx="327.5" cy="364.0" r="2.0"/><circle cx="322.5" cy="366.5" r="2.0"/><circle cx="313.8" cy="375.6" r="2.0"/><circle cx="317.7" cy="377.4" r="2.0"/><circle cx="321.2" cy="378.4" r="2.0"/><circle cx="324.8" cy="378.7" r="2.0"/><circle cx="328.8" cy="378.1" r="2.0"/><circle cx="332.4" cy="376.3" r="2.0"/><circle cx="336.4" cy="374.7" r="2.0"/><circle cx="313.5" cy="381.1" r="2.0"/><circle cx="318.3" cy="381.6" r="2.0"/><circle cx="332.2" cy="381.3" r="2.0"/><circle cx="336.4" cy="380.5" r="2.0"/><circle cx="322.7" cy="384.7" r="2.0"/><circle cx="327.5" cy="384.4" r="2.0"/><circle cx="313.8" cy="390.0" r="2.0"/><circle cx="317.7" cy="390.7" r="2.0"/><circle cx="321.2" cy="391.6" r="2.0"/><circle cx="324.8" cy="393.5" r="2.0"/><circle cx="328.8" cy="391.8" r="2.0"/><circle cx="332.4" cy="390.0" r="2.0"/><circle cx="336.4" cy="389.3" r="2.0"/><circle cx="313.8" cy="396.3" r="2.0"/><circle cx="317.7" cy="397.4" r="2.0"/><circle cx="321.2" cy="398.4" r="2.0"/><circle cx="324.8" cy="399.2" r="2.0"/><circle cx="328.8" cy="398.4" r="2.0"/><circle cx="332.4" cy="398.4" r="2.0"/><circle cx="336.4" cy="396.3" r="2.0"/><circle cx="320.4" cy="402.9" r="2.0"/><circle cx="330.1" cy="402.6" r="2.0"/><circle cx="324.8" cy="406.3" r="2.0"/><circle cx="324.8" cy="416.6" r="2.0"/></g>
<g fill="#e2651e"><circle cx="367.2" cy="355.6" r="1.9"/><circle cx="374.6" cy="358.7" r="1.9"/><circle cx="355.3" cy="365.2" r="1.9"/><circle cx="359.6" cy="362.9" r="1.9"/><circle cx="364.5" cy="363.8" r="1.9"/><circle cx="369.7" cy="363.4" r="1.9"/><circle cx="378.8" cy="365.2" r="1.9"/><circle cx="360.1" cy="368.0" r="1.9"/><circle cx="364.8" cy="369.0" r="1.9"/><circle cx="369.7" cy="370.4" r="1.9"/><circle cx="374.2" cy="368.0" r="1.9"/><circle cx="359.6" cy="373.2" r="1.9"/><circle cx="374.6" cy="372.2" r="1.9"/><circle cx="369.7" cy="375.0" r="1.9"/><circle cx="364.5" cy="377.0" r="1.9"/><circle cx="372.2" cy="379.3" r="1.9"/><circle cx="362.4" cy="381.2" r="1.9"/><circle cx="367.2" cy="382.6" r="1.9"/><circle cx="369.7" cy="384.9" r="1.9"/><circle cx="364.5" cy="388.3" r="1.9"/><circle cx="372.2" cy="394.7" r="1.9"/><circle cx="362.0" cy="397.8" r="1.9"/><circle cx="367.2" cy="398.9" r="1.9"/><circle cx="367.2" cy="406.5" r="1.9"/><circle cx="367.2" cy="415.0" r="1.9"/><circle cx="369.7" cy="418.9" r="1.9"/><circle cx="364.5" cy="422.4" r="1.9"/></g>
<line x1="310.60" y1="388.20" x2="339.60" y2="388.20" stroke="#111" stroke-width="1.2"/>
<line x1="352.50" y1="380.70" x2="381.60" y2="380.70" stroke="#111" stroke-width="1.2"/>
<line x1="428.00" y1="347.50" x2="428.00" y2="431.25" stroke="#4a4a4a" stroke-width="1.15"/>
<line x1="428.00" y1="431.25" x2="512.50" y2="431.25" stroke="#4a4a4a" stroke-width="1.15"/>
<line x1="425.40" y1="431.25" x2="428.00" y2="431.25" stroke="#4a4a4a" stroke-width="1.15"/>
<line x1="425.40" y1="414.50" x2="428.00" y2="414.50" stroke="#4a4a4a" stroke-width="1.15"/>
<line x1="425.40" y1="397.75" x2="428.00" y2="397.75" stroke="#4a4a4a" stroke-width="1.15"/>
<line x1="425.40" y1="381.00" x2="428.00" y2="381.00" stroke="#4a4a4a" stroke-width="1.15"/>
<line x1="425.40" y1="364.25" x2="428.00" y2="364.25" stroke="#4a4a4a" stroke-width="1.15"/>
<line x1="425.40" y1="347.50" x2="428.00" y2="347.50" stroke="#4a4a4a" stroke-width="1.15"/>
<line x1="448.75" y1="431.25" x2="448.75" y2="433.85" stroke="#4a4a4a" stroke-width="1.15"/>
<line x1="491.25" y1="431.25" x2="491.25" y2="433.85" stroke="#4a4a4a" stroke-width="1.15"/>
<text x="425.1" y="435.05" font-size="9.5" font-weight="normal" text-anchor="end" fill="#111" textLength="5.28" lengthAdjust="spacingAndGlyphs" stroke="#111" stroke-width="0.3">0</text>
<text x="425.1" y="418.3" font-size="9.5" font-weight="normal" text-anchor="end" fill="#111" textLength="10.57" lengthAdjust="spacingAndGlyphs" stroke="#111" stroke-width="0.3">20</text>
<text x="425.1" y="401.55" font-size="9.5" font-weight="normal" text-anchor="end" fill="#111" textLength="10.57" lengthAdjust="spacingAndGlyphs" stroke="#111" stroke-width="0.3">40</text>
<text x="425.1" y="384.8" font-size="9.5" font-weight="normal" text-anchor="end" fill="#111" textLength="10.57" lengthAdjust="spacingAndGlyphs" stroke="#111" stroke-width="0.3">60</text>
<text x="425.1" y="368.05" font-size="9.5" font-weight="normal" text-anchor="end" fill="#111" textLength="10.57" lengthAdjust="spacingAndGlyphs" stroke="#111" stroke-width="0.3">80</text>
<text x="425.1" y="351.3" font-size="9.5" font-weight="normal" text-anchor="end" fill="#111" textLength="15.85" lengthAdjust="spacingAndGlyphs" stroke="#111" stroke-width="0.3">100</text>
<text x="448.75" y="442.15" font-size="9.8" font-weight="normal" text-anchor="middle" fill="#111" textLength="29.5" lengthAdjust="spacingAndGlyphs" stroke="#111" stroke-width="0.4">Control</text>
<text x="491.25" y="442.15" font-size="9.8" font-weight="normal" text-anchor="middle" fill="#111" textLength="35" lengthAdjust="spacingAndGlyphs" stroke="#111" stroke-width="0.4">IL-12Rβ1</text>
<text transform="translate(408.8,387.5) rotate(-90)" x="0" y="0" font-size="9.21" font-weight="normal" text-anchor="middle" fill="#111" textLength="85" lengthAdjust="spacingAndGlyphs" stroke="#111" stroke-width="0.3">IgG avidity index (%)</text>
<text x="469.4" y="346.6" font-size="9.2" font-weight="normal" text-anchor="middle" fill="#111" textLength="13" lengthAdjust="spacingAndGlyphs" stroke="#111" stroke-width="0.3">n.s.</text>
<g fill="#1a10bc"><circle cx="449.1" cy="358.5" r="2.0"/><circle cx="449.1" cy="364.8" r="2.0"/><circle cx="444.1" cy="367.3" r="2.0"/><circle cx="449.1" cy="370.1" r="2.0"/><circle cx="454.1" cy="369.4" r="2.0"/><circle cx="441.5" cy="371.8" r="2.0"/><circle cx="446.5" cy="376.7" r="2.0"/><circle cx="451.5" cy="377.1" r="2.0"/><circle cx="456.4" cy="376.0" r="2.0"/><circle cx="456.4" cy="378.5" r="2.0"/><circle cx="441.5" cy="378.3" r="2.0"/><circle cx="446.5" cy="382.5" r="2.0"/><circle cx="451.5" cy="381.3" r="2.0"/><circle cx="437.3" cy="385.9" r="2.0"/><circle cx="442.0" cy="387.8" r="2.0"/><circle cx="446.7" cy="388.8" r="2.0"/><circle cx="451.5" cy="389.1" r="2.0"/><circle cx="456.2" cy="388.0" r="2.0"/><circle cx="460.6" cy="386.2" r="2.0"/><circle cx="437.5" cy="391.5" r="2.0"/><circle cx="441.5" cy="392.2" r="2.0"/><circle cx="445.5" cy="393.9" r="2.0"/><circle cx="449.1" cy="395.2" r="2.0"/><circle cx="452.8" cy="394.3" r="2.0"/><circle cx="456.4" cy="393.1" r="2.0"/><circle cx="460.4" cy="391.8" r="2.0"/><circle cx="438.8" cy="398.1" r="2.0"/><circle cx="444.1" cy="400.2" r="2.0"/><circle cx="449.1" cy="401.3" r="2.0"/><circle cx="454.1" cy="399.4" r="2.0"/><circle cx="459.2" cy="396.4" r="2.0"/><circle cx="446.7" cy="409.1" r="2.0"/><circle cx="451.5" cy="407.0" r="2.0"/></g>
<g fill="#e2651e"><circle cx="491.1" cy="349.6" r="1.9"/><circle cx="480.9" cy="356.4" r="1.9"/><circle cx="485.9" cy="360.2" r="1.9"/><circle cx="491.1" cy="361.5" r="1.9"/><circle cx="496.1" cy="361.0" r="1.9"/><circle cx="501.1" cy="359.9" r="1.9"/><circle cx="496.1" cy="365.6" r="1.9"/><circle cx="485.9" cy="368.6" r="1.9"/><circle cx="483.5" cy="371.2" r="1.9"/><circle cx="491.1" cy="369.1" r="1.9"/><circle cx="493.5" cy="371.2" r="1.9"/><circle cx="498.7" cy="370.9" r="1.9"/><circle cx="488.5" cy="375.2" r="1.9"/><circle cx="483.5" cy="379.3" r="1.9"/><circle cx="488.5" cy="381.3" r="1.9"/><circle cx="493.5" cy="382.8" r="1.9"/><circle cx="498.7" cy="380.8" r="1.9"/><circle cx="480.9" cy="389.5" r="1.9"/><circle cx="485.9" cy="393.5" r="1.9"/><circle cx="491.1" cy="394.1" r="1.9"/><circle cx="496.1" cy="393.5" r="1.9"/><circle cx="501.1" cy="392.0" r="1.9"/><circle cx="483.5" cy="401.1" r="1.9"/><circle cx="488.5" cy="404.8" r="1.9"/><circle cx="493.5" cy="406.3" r="1.9"/><circle cx="498.7" cy="402.9" r="1.9"/><circle cx="491.1" cy="427.0" r="1.9"/></g>
<line x1="435.20" y1="385.90" x2="463.40" y2="385.90" stroke="#111" stroke-width="1.2"/>
<line x1="476.70" y1="380.40" x2="505.30" y2="380.40" stroke="#111" stroke-width="1.2"/>
<line x1="46.30" y1="468.00" x2="46.30" y2="553.75" stroke="#4a4a4a" stroke-width="1.15"/>
<line x1="46.30" y1="553.75" x2="125.00" y2="553.75" stroke="#4a4a4a" stroke-width="1.15"/>
<line x1="43.70" y1="553.75" x2="46.30" y2="553.75" stroke="#4a4a4a" stroke-width="1.15"/>
<line x1="43.70" y1="525.17" x2="46.30" y2="525.17" stroke="#4a4a4a" stroke-width="1.15"/>
<line x1="43.70" y1="496.59" x2="46.30" y2="496.59" stroke="#4a4a4a" stroke-width="1.15"/>
<line x1="43.70" y1="468.01" x2="46.30" y2="468.01" stroke="#4a4a4a" stroke-width="1.15"/>
<line x1="44.80" y1="545.15" x2="46.30" y2="545.15" stroke="#4a4a4a" stroke-width="0.8"/>
<line x1="44.80" y1="540.11" x2="46.30" y2="540.11" stroke="#4a4a4a" stroke-width="0.8"/>
<line x1="44.80" y1="536.54" x2="46.30" y2="536.54" stroke="#4a4a4a" stroke-width="0.8"/>
<line x1="44.80" y1="533.77" x2="46.30" y2="533.77" stroke="#4a4a4a" stroke-width="0.8"/>
<line x1="44.80" y1="531.51" x2="46.30" y2="531.51" stroke="#4a4a4a" stroke-width="0.8"/>
<line x1="44.80" y1="529.60" x2="46.30" y2="529.60" stroke="#4a4a4a" stroke-width="0.8"/>
<line x1="44.80" y1="527.94" x2="46.30" y2="527.94" stroke="#4a4a4a" stroke-width="0.8"/>
<line x1="44.80" y1="526.48" x2="46.30" y2="526.48" stroke="#4a4a4a" stroke-width="0.8"/>
<line x1="44.80" y1="516.57" x2="46.30" y2="516.57" stroke="#4a4a4a" stroke-width="0.8"/>
<line x1="44.80" y1="511.53" x2="46.30" y2="511.53" stroke="#4a4a4a" stroke-width="0.8"/>
<line x1="44.80" y1="507.96" x2="46.30" y2="507.96" stroke="#4a4a4a" stroke-width="0.8"/>
<line x1="44.80" y1="505.19" x2="46.30" y2="505.19" stroke="#4a4a4a" stroke-width="0.8"/>
<line x1="44.80" y1="502.93" x2="46.30" y2="502.93" stroke="#4a4a4a" stroke-width="0.8"/>
<line x1="44.80" y1="501.02" x2="46.30" y2="501.02" stroke="#4a4a4a" stroke-width="0.8"/>
<line x1="44.80" y1="499.36" x2="46.30" y2="499.36" stroke="#4a4a4a" stroke-width="0.8"/>
<line x1="44.80" y1="497.90" x2="46.30" y2="497.90" stroke="#4a4a4a" stroke-width="0.8"/>
<line x1="44.80" y1="487.99" x2="46.30" y2="487.99" stroke="#4a4a4a" stroke-width="0.8"/>
<line x1="44.80" y1="482.95" x2="46.30" y2="482.95" stroke="#4a4a4a" stroke-width="0.8"/>
<line x1="44.80" y1="479.38" x2="46.30" y2="479.38" stroke="#4a4a4a" stroke-width="0.8"/>
<line x1="44.80" y1="476.61" x2="46.30" y2="476.61" stroke="#4a4a4a" stroke-width="0.8"/>
<line x1="44.80" y1="474.35" x2="46.30" y2="474.35" stroke="#4a4a4a" stroke-width="0.8"/>
<line x1="44.80" y1="472.44" x2="46.30" y2="472.44" stroke="#4a4a4a" stroke-width="0.8"/>
<line x1="44.80" y1="470.78" x2="46.30" y2="470.78" stroke="#4a4a4a" stroke-width="0.8"/>
<line x1="44.80" y1="469.32" x2="46.30" y2="469.32" stroke="#4a4a4a" stroke-width="0.8"/>
<line x1="67.50" y1="553.75" x2="67.50" y2="556.35" stroke="#4a4a4a" stroke-width="1.15"/>
<line x1="110.00" y1="553.75" x2="110.00" y2="556.35" stroke="#4a4a4a" stroke-width="1.15"/>
<text x="43.5" y="557.15" font-size="9.4" text-anchor="end" fill="#111" stroke="#111" stroke-width="0.4">10<tspan font-size="5.6" dy="-2.9" stroke-width="0.25">0</tspan></text>
<text x="43.5" y="528.5699999999999" font-size="9.4" text-anchor="end" fill="#111" stroke="#111" stroke-width="0.4">10<tspan font-size="5.6" dy="-2.9" stroke-width="0.25">1</tspan></text>
<text x="43.5" y="499.99" font-size="9.4" text-anchor="end" fill="#111" stroke="#111" stroke-width="0.4">10<tspan font-size="5.6" dy="-2.9" stroke-width="0.25">2</tspan></text>
<text x="43.5" y="471.40999999999997" font-size="9.4" text-anchor="end" fill="#111" stroke="#111" stroke-width="0.4">10<tspan font-size="5.6" dy="-2.9" stroke-width="0.25">3</tspan></text>
<text x="67.5" y="565.65" font-size="9.8" font-weight="normal" text-anchor="middle" fill="#111" textLength="33" lengthAdjust="spacingAndGlyphs" stroke="#111" stroke-width="0.4">Control</text>
<text x="110" y="565.65" font-size="9.8" font-weight="normal" text-anchor="middle" fill="#111" textLength="37.5" lengthAdjust="spacingAndGlyphs" stroke="#111" stroke-width="0.4">IL12Rβ1</text>
<text transform="translate(21.9,509.5) rotate(-90)" x="0" y="0" font-size="10.81" font-weight="normal" text-anchor="middle" fill="#111" textLength="74.5" lengthAdjust="spacingAndGlyphs" stroke="#111" stroke-width="0.3">EBV IgG (U/ml)</text>
<text x="88.1" y="473.2" font-size="9.2" font-weight="normal" text-anchor="middle" fill="#111" textLength="26.2" lengthAdjust="spacingAndGlyphs" stroke="#111" stroke-width="0.3">p=0.83</text>
<g fill="#1a10bc"><circle cx="68.0" cy="487.2" r="2.0"/><circle cx="68.0" cy="493.8" r="2.0"/><circle cx="62.8" cy="501.7" r="2.0"/><circle cx="68.0" cy="505.0" r="2.0"/><circle cx="73.0" cy="503.4" r="2.0"/><circle cx="57.6" cy="508.7" r="2.0"/><circle cx="62.8" cy="510.0" r="2.0"/><circle cx="68.0" cy="510.9" r="2.0"/><circle cx="73.0" cy="509.6" r="2.0"/><circle cx="78.0" cy="507.6" r="2.0"/><circle cx="56.3" cy="513.2" r="2.0"/><circle cx="60.3" cy="514.5" r="2.0"/><circle cx="64.2" cy="514.5" r="2.0"/><circle cx="68.0" cy="515.8" r="2.0"/><circle cx="71.7" cy="514.9" r="2.0"/><circle cx="75.7" cy="514.2" r="2.0"/><circle cx="79.2" cy="514.2" r="2.0"/><circle cx="60.3" cy="519.2" r="2.0"/><circle cx="65.4" cy="521.4" r="2.0"/><circle cx="70.4" cy="523.2" r="2.0"/><circle cx="75.7" cy="520.8" r="2.0"/><circle cx="75.7" cy="524.7" r="2.0"/><circle cx="60.3" cy="526.1" r="2.0"/><circle cx="65.4" cy="529.3" r="2.0"/><circle cx="70.4" cy="526.7" r="2.0"/><circle cx="73.0" cy="539.2" r="2.0"/><circle cx="62.8" cy="543.4" r="2.0"/><circle cx="68.0" cy="543.4" r="2.0"/><circle cx="75.7" cy="545.5" r="2.0"/><circle cx="60.3" cy="548.2" r="2.0"/><circle cx="65.4" cy="550.0" r="2.0"/><circle cx="70.4" cy="549.1" r="2.0"/></g>
<g fill="#e2651e"><circle cx="107.9" cy="491.1" r="1.9"/><circle cx="112.8" cy="493.5" r="1.9"/><circle cx="102.5" cy="496.5" r="1.9"/><circle cx="112.8" cy="497.0" r="1.9"/><circle cx="118.1" cy="495.4" r="1.9"/><circle cx="107.9" cy="499.7" r="1.9"/><circle cx="107.9" cy="504.1" r="1.9"/><circle cx="112.8" cy="505.6" r="1.9"/><circle cx="105.2" cy="509.1" r="1.9"/><circle cx="115.4" cy="510.3" r="1.9"/><circle cx="110.5" cy="512.6" r="1.9"/><circle cx="102.5" cy="514.6" r="1.9"/><circle cx="107.9" cy="516.2" r="1.9"/><circle cx="112.8" cy="517.9" r="1.9"/><circle cx="118.1" cy="515.4" r="1.9"/><circle cx="102.5" cy="529.1" r="1.9"/><circle cx="107.9" cy="531.5" r="1.9"/><circle cx="112.8" cy="529.1" r="1.9"/><circle cx="118.1" cy="527.4" r="1.9"/><circle cx="105.2" cy="538.5" r="1.9"/><circle cx="115.4" cy="537.0" r="1.9"/><circle cx="110.5" cy="539.4" r="1.9"/><circle cx="100.1" cy="541.5" r="1.9"/><circle cx="105.2" cy="542.4" r="1.9"/><circle cx="115.4" cy="542.9" r="1.9"/><circle cx="120.5" cy="542.1" r="1.9"/><circle cx="110.5" cy="545.9" r="1.9"/></g>
<line x1="53.30" y1="511.30" x2="82.20" y2="511.30" stroke="#111" stroke-width="1.2"/>
<line x1="95.80" y1="509.10" x2="124.80" y2="509.10" stroke="#111" stroke-width="1.2"/>
<line x1="171.30" y1="468.00" x2="171.30" y2="553.00" stroke="#4a4a4a" stroke-width="1.15"/>
<line x1="171.30" y1="553.00" x2="256.00" y2="553.00" stroke="#4a4a4a" stroke-width="1.15"/>
<line x1="168.70" y1="553.00" x2="171.30" y2="553.00" stroke="#4a4a4a" stroke-width="1.15"/>
<line x1="168.70" y1="524.67" x2="171.30" y2="524.67" stroke="#4a4a4a" stroke-width="1.15"/>
<line x1="168.70" y1="496.34" x2="171.30" y2="496.34" stroke="#4a4a4a" stroke-width="1.15"/>
<line x1="168.70" y1="468.01" x2="171.30" y2="468.01" stroke="#4a4a4a" stroke-width="1.15"/>
<line x1="169.80" y1="544.47" x2="171.30" y2="544.47" stroke="#4a4a4a" stroke-width="0.8"/>
<line x1="169.80" y1="539.48" x2="171.30" y2="539.48" stroke="#4a4a4a" stroke-width="0.8"/>
<line x1="169.80" y1="535.94" x2="171.30" y2="535.94" stroke="#4a4a4a" stroke-width="0.8"/>
<line x1="169.80" y1="533.20" x2="171.30" y2="533.20" stroke="#4a4a4a" stroke-width="0.8"/>
<line x1="169.80" y1="530.95" x2="171.30" y2="530.95" stroke="#4a4a4a" stroke-width="0.8"/>
<line x1="169.80" y1="529.06" x2="171.30" y2="529.06" stroke="#4a4a4a" stroke-width="0.8"/>
<line x1="169.80" y1="527.42" x2="171.30" y2="527.42" stroke="#4a4a4a" stroke-width="0.8"/>
<line x1="169.80" y1="525.97" x2="171.30" y2="525.97" stroke="#4a4a4a" stroke-width="0.8"/>
<line x1="169.80" y1="516.14" x2="171.30" y2="516.14" stroke="#4a4a4a" stroke-width="0.8"/>
<line x1="169.80" y1="511.15" x2="171.30" y2="511.15" stroke="#4a4a4a" stroke-width="0.8"/>
<line x1="169.80" y1="507.61" x2="171.30" y2="507.61" stroke="#4a4a4a" stroke-width="0.8"/>
<line x1="169.80" y1="504.87" x2="171.30" y2="504.87" stroke="#4a4a4a" stroke-width="0.8"/>
<line x1="169.80" y1="502.62" x2="171.30" y2="502.62" stroke="#4a4a4a" stroke-width="0.8"/>
<line x1="169.80" y1="500.73" x2="171.30" y2="500.73" stroke="#4a4a4a" stroke-width="0.8"/>
<line x1="169.80" y1="499.09" x2="171.30" y2="499.09" stroke="#4a4a4a" stroke-width="0.8"/>
<line x1="169.80" y1="497.64" x2="171.30" y2="497.64" stroke="#4a4a4a" stroke-width="0.8"/>
<line x1="169.80" y1="487.81" x2="171.30" y2="487.81" stroke="#4a4a4a" stroke-width="0.8"/>
<line x1="169.80" y1="482.82" x2="171.30" y2="482.82" stroke="#4a4a4a" stroke-width="0.8"/>
<line x1="169.80" y1="479.28" x2="171.30" y2="479.28" stroke="#4a4a4a" stroke-width="0.8"/>
<line x1="169.80" y1="476.54" x2="171.30" y2="476.54" stroke="#4a4a4a" stroke-width="0.8"/>
<line x1="169.80" y1="474.29" x2="171.30" y2="474.29" stroke="#4a4a4a" stroke-width="0.8"/>
<line x1="169.80" y1="472.40" x2="171.30" y2="472.40" stroke="#4a4a4a" stroke-width="0.8"/>
<line x1="169.80" y1="470.76" x2="171.30" y2="470.76" stroke="#4a4a4a" stroke-width="0.8"/>
<line x1="169.80" y1="469.31" x2="171.30" y2="469.31" stroke="#4a4a4a" stroke-width="0.8"/>
<line x1="192.00" y1="553.00" x2="192.00" y2="555.60" stroke="#4a4a4a" stroke-width="1.15"/>
<line x1="235.00" y1="553.00" x2="235.00" y2="555.60" stroke="#4a4a4a" stroke-width="1.15"/>
<text x="168.5" y="556.4" font-size="9.4" text-anchor="end" fill="#111" stroke="#111" stroke-width="0.4">10<tspan font-size="5.6" dy="-2.9" stroke-width="0.25">-2</tspan></text>
<text x="168.5" y="528.0699999999999" font-size="9.4" text-anchor="end" fill="#111" stroke="#111" stroke-width="0.4">10<tspan font-size="5.6" dy="-2.9" stroke-width="0.25">-1</tspan></text>
<text x="168.5" y="499.74" font-size="9.4" text-anchor="end" fill="#111" stroke="#111" stroke-width="0.4">10<tspan font-size="5.6" dy="-2.9" stroke-width="0.25">0</tspan></text>
<text x="168.5" y="471.40999999999997" font-size="9.4" text-anchor="end" fill="#111" stroke="#111" stroke-width="0.4">10<tspan font-size="5.6" dy="-2.9" stroke-width="0.25">1</tspan></text>
<text x="192" y="564.9" font-size="9.8" font-weight="normal" text-anchor="middle" fill="#111" textLength="32.5" lengthAdjust="spacingAndGlyphs" stroke="#111" stroke-width="0.4">Control</text>
<text x="235" y="564.9" font-size="9.8" font-weight="normal" text-anchor="middle" fill="#111" textLength="37.5" lengthAdjust="spacingAndGlyphs" stroke="#111" stroke-width="0.4">IL12Rβ1</text>
<text transform="translate(148.6,509) rotate(-90)" x="0" y="0" font-size="10.46" font-weight="normal" text-anchor="middle" fill="#111" textLength="90.7" lengthAdjust="spacingAndGlyphs" stroke="#111" stroke-width="0.3">CMV IgG(Ab index)</text>
<text x="212.5" y="473.2" font-size="9.2" font-weight="normal" text-anchor="middle" fill="#111" textLength="37.5" lengthAdjust="spacingAndGlyphs" stroke="#111" stroke-width="0.3">p=0.0012</text>
<g fill="#1a10bc"><circle cx="190.3" cy="487.2" r="2.0"/><circle cx="195.2" cy="488.9" r="2.0"/><circle cx="195.2" cy="495.3" r="2.0"/><circle cx="190.3" cy="498.4" r="2.0"/><circle cx="182.6" cy="500.0" r="2.0"/><circle cx="202.9" cy="499.8" r="2.0"/><circle cx="187.4" cy="504.4" r="2.0"/><circle cx="192.7" cy="504.7" r="2.0"/><circle cx="197.6" cy="504.4" r="2.0"/><circle cx="181.1" cy="506.3" r="2.0"/><circle cx="185.5" cy="507.6" r="2.0"/><circle cx="199.7" cy="507.2" r="2.0"/><circle cx="204.5" cy="506.3" r="2.0"/><circle cx="195.2" cy="509.3" r="2.0"/><circle cx="190.3" cy="510.7" r="2.0"/><circle cx="181.3" cy="512.4" r="2.0"/><circle cx="185.3" cy="513.7" r="2.0"/><circle cx="188.7" cy="514.5" r="2.0"/><circle cx="196.6" cy="513.9" r="2.0"/><circle cx="200.3" cy="512.8" r="2.0"/><circle cx="204.3" cy="511.8" r="2.0"/><circle cx="187.4" cy="517.4" r="2.0"/><circle cx="192.7" cy="516.3" r="2.0"/><circle cx="197.6" cy="517.7" r="2.0"/><circle cx="192.7" cy="521.6" r="2.0"/><circle cx="181.1" cy="522.6" r="2.0"/><circle cx="185.5" cy="524.2" r="2.0"/><circle cx="190.3" cy="525.5" r="2.0"/><circle cx="195.0" cy="527.2" r="2.0"/><circle cx="199.7" cy="525.3" r="2.0"/><circle cx="204.5" cy="524.0" r="2.0"/><circle cx="187.4" cy="530.7" r="2.0"/><circle cx="192.7" cy="532.6" r="2.0"/><circle cx="197.6" cy="531.6" r="2.0"/></g>
<g fill="#e2651e"><circle cx="223.3" cy="490.1" r="1.9"/><circle cx="223.3" cy="495.5" r="1.9"/><circle cx="227.0" cy="492.6" r="1.9"/><circle cx="230.4" cy="492.6" r="1.9"/><circle cx="233.8" cy="493.2" r="1.9"/><circle cx="237.5" cy="493.4" r="1.9"/><circle cx="241.7" cy="492.2" r="1.9"/><circle cx="245.9" cy="491.8" r="1.9"/><circle cx="225.4" cy="495.3" r="1.9"/><circle cx="228.5" cy="495.5" r="1.9"/><circle cx="232.2" cy="495.7" r="1.9"/><circle cx="235.7" cy="495.5" r="1.9"/><circle cx="239.6" cy="495.3" r="1.9"/><circle cx="243.3" cy="495.0" r="1.9"/><circle cx="246.4" cy="495.3" r="1.9"/><circle cx="234.3" cy="500.6" r="1.9"/><circle cx="237.5" cy="502.7" r="1.9"/><circle cx="232.2" cy="505.8" r="1.9"/><circle cx="232.2" cy="508.2" r="1.9"/><circle cx="237.5" cy="511.5" r="1.9"/><circle cx="237.5" cy="518.5" r="1.9"/><circle cx="232.2" cy="520.6" r="1.9"/><circle cx="232.2" cy="526.3" r="1.9"/><circle cx="237.5" cy="526.9" r="1.9"/><circle cx="234.8" cy="535.0" r="1.9"/></g>
<line x1="178.70" y1="506.80" x2="206.60" y2="506.80" stroke="#111" stroke-width="1.2"/>
<line x1="220.10" y1="498.70" x2="249.60" y2="498.70" stroke="#111" stroke-width="1.2"/>
<line x1="298.80" y1="472.00" x2="298.80" y2="553.00" stroke="#4a4a4a" stroke-width="1.15"/>
<line x1="298.80" y1="553.00" x2="382.50" y2="553.00" stroke="#4a4a4a" stroke-width="1.15"/>
<line x1="296.20" y1="553.00" x2="298.80" y2="553.00" stroke="#4a4a4a" stroke-width="1.15"/>
<line x1="296.20" y1="512.50" x2="298.80" y2="512.50" stroke="#4a4a4a" stroke-width="1.15"/>
<line x1="296.20" y1="472.00" x2="298.80" y2="472.00" stroke="#4a4a4a" stroke-width="1.15"/>
<line x1="297.30" y1="540.81" x2="298.80" y2="540.81" stroke="#4a4a4a" stroke-width="0.8"/>
<line x1="297.30" y1="533.68" x2="298.80" y2="533.68" stroke="#4a4a4a" stroke-width="0.8"/>
<line x1="297.30" y1="528.62" x2="298.80" y2="528.62" stroke="#4a4a4a" stroke-width="0.8"/>
<line x1="297.30" y1="524.69" x2="298.80" y2="524.69" stroke="#4a4a4a" stroke-width="0.8"/>
<line x1="297.30" y1="521.48" x2="298.80" y2="521.48" stroke="#4a4a4a" stroke-width="0.8"/>
<line x1="297.30" y1="518.77" x2="298.80" y2="518.77" stroke="#4a4a4a" stroke-width="0.8"/>
<line x1="297.30" y1="516.42" x2="298.80" y2="516.42" stroke="#4a4a4a" stroke-width="0.8"/>
<line x1="297.30" y1="514.35" x2="298.80" y2="514.35" stroke="#4a4a4a" stroke-width="0.8"/>
<line x1="297.30" y1="500.31" x2="298.80" y2="500.31" stroke="#4a4a4a" stroke-width="0.8"/>
<line x1="297.30" y1="493.18" x2="298.80" y2="493.18" stroke="#4a4a4a" stroke-width="0.8"/>
<line x1="297.30" y1="488.12" x2="298.80" y2="488.12" stroke="#4a4a4a" stroke-width="0.8"/>
<line x1="297.30" y1="484.19" x2="298.80" y2="484.19" stroke="#4a4a4a" stroke-width="0.8"/>
<line x1="297.30" y1="480.98" x2="298.80" y2="480.98" stroke="#4a4a4a" stroke-width="0.8"/>
<line x1="297.30" y1="478.27" x2="298.80" y2="478.27" stroke="#4a4a4a" stroke-width="0.8"/>
<line x1="297.30" y1="475.92" x2="298.80" y2="475.92" stroke="#4a4a4a" stroke-width="0.8"/>
<line x1="297.30" y1="473.85" x2="298.80" y2="473.85" stroke="#4a4a4a" stroke-width="0.8"/>
<line x1="320.00" y1="553.00" x2="320.00" y2="555.60" stroke="#4a4a4a" stroke-width="1.15"/>
<line x1="362.50" y1="553.00" x2="362.50" y2="555.60" stroke="#4a4a4a" stroke-width="1.15"/>
<text x="296.0" y="556.4" font-size="9.4" text-anchor="end" fill="#111" stroke="#111" stroke-width="0.4">10<tspan font-size="5.6" dy="-2.9" stroke-width="0.25">-1</tspan></text>
<text x="296.0" y="515.9" font-size="9.4" text-anchor="end" fill="#111" stroke="#111" stroke-width="0.4">10<tspan font-size="5.6" dy="-2.9" stroke-width="0.25">0</tspan></text>
<text x="296.0" y="475.4" font-size="9.4" text-anchor="end" fill="#111" stroke="#111" stroke-width="0.4">10<tspan font-size="5.6" dy="-2.9" stroke-width="0.25">1</tspan></text>
<text x="320" y="564.9" font-size="9.8" font-weight="normal" text-anchor="middle" fill="#111" textLength="31.9" lengthAdjust="spacingAndGlyphs" stroke="#111" stroke-width="0.4">Control</text>
<text x="362.5" y="564.9" font-size="9.8" font-weight="normal" text-anchor="middle" fill="#111" textLength="38" lengthAdjust="spacingAndGlyphs" stroke="#111" stroke-width="0.4">IL12Rβ1</text>
<text transform="translate(278.7,510.7) rotate(-90)" x="0" y="0" font-size="10.4" font-weight="normal" text-anchor="middle" fill="#111" textLength="109" lengthAdjust="spacingAndGlyphs" stroke="#111" stroke-width="0.3">Varicella IgG (Ab index)</text>
<text x="342.9" y="473.2" font-size="9.2" font-weight="normal" text-anchor="middle" fill="#111" textLength="26.7" lengthAdjust="spacingAndGlyphs" stroke="#111" stroke-width="0.3">p=0.71</text>
<g fill="#1a10bc"><circle cx="320.3" cy="485.6" r="2.0"/><circle cx="312.8" cy="491.6" r="2.0"/><circle cx="317.6" cy="495.3" r="2.0"/><circle cx="322.5" cy="495.3" r="2.0"/><circle cx="327.6" cy="495.0" r="2.0"/><circle cx="332.4" cy="496.2" r="2.0"/><circle cx="308.0" cy="497.4" r="2.0"/><circle cx="311.7" cy="497.6" r="2.0"/><circle cx="315.0" cy="499.1" r="2.0"/><circle cx="325.6" cy="498.3" r="2.0"/><circle cx="329.0" cy="497.6" r="2.0"/><circle cx="318.9" cy="500.8" r="2.0"/><circle cx="322.3" cy="500.3" r="2.0"/><circle cx="307.8" cy="503.0" r="2.0"/><circle cx="311.7" cy="503.6" r="2.0"/><circle cx="315.5" cy="504.6" r="2.0"/><circle cx="319.4" cy="506.1" r="2.0"/><circle cx="323.2" cy="506.1" r="2.0"/><circle cx="326.6" cy="504.6" r="2.0"/><circle cx="331.0" cy="503.2" r="2.0"/><circle cx="310.5" cy="512.3" r="2.0"/><circle cx="315.3" cy="516.2" r="2.0"/><circle cx="320.1" cy="517.2" r="2.0"/><circle cx="325.2" cy="516.9" r="2.0"/><circle cx="330.2" cy="515.2" r="2.0"/><circle cx="317.6" cy="525.2" r="2.0"/><circle cx="322.5" cy="525.4" r="2.0"/><circle cx="317.6" cy="532.6" r="2.0"/><circle cx="322.5" cy="531.6" r="2.0"/></g>
<g fill="#e2651e"><circle cx="349.9" cy="487.3" r="1.9"/><circle cx="354.7" cy="489.1" r="1.9"/><circle cx="359.1" cy="492.2" r="1.9"/><circle cx="363.6" cy="492.2" r="1.9"/><circle cx="368.2" cy="491.7" r="1.9"/><circle cx="373.0" cy="488.6" r="1.9"/><circle cx="351.4" cy="496.0" r="1.9"/><circle cx="356.4" cy="498.8" r="1.9"/><circle cx="361.3" cy="500.1" r="1.9"/><circle cx="366.4" cy="499.1" r="1.9"/><circle cx="371.5" cy="497.8" r="1.9"/><circle cx="354.0" cy="503.9" r="1.9"/><circle cx="358.8" cy="506.2" r="1.9"/><circle cx="363.9" cy="506.9" r="1.9"/><circle cx="369.0" cy="504.9" r="1.9"/><circle cx="349.9" cy="509.3" r="1.9"/><circle cx="354.0" cy="511.7" r="1.9"/><circle cx="357.8" cy="511.7" r="1.9"/><circle cx="361.5" cy="514.4" r="1.9"/><circle cx="365.2" cy="513.0" r="1.9"/><circle cx="369.0" cy="511.5" r="1.9"/><circle cx="372.7" cy="509.3" r="1.9"/><circle cx="354.0" cy="514.8" r="1.9"/><circle cx="369.0" cy="515.1" r="1.9"/><circle cx="359.1" cy="517.8" r="1.9"/><circle cx="363.6" cy="519.4" r="1.9"/><circle cx="361.5" cy="534.1" r="1.9"/></g>
<line x1="306.30" y1="503.00" x2="333.90" y2="503.00" stroke="#111" stroke-width="1.2"/>
<line x1="347.60" y1="502.10" x2="375.60" y2="502.10" stroke="#111" stroke-width="1.2"/>
</svg>
</body></html>
